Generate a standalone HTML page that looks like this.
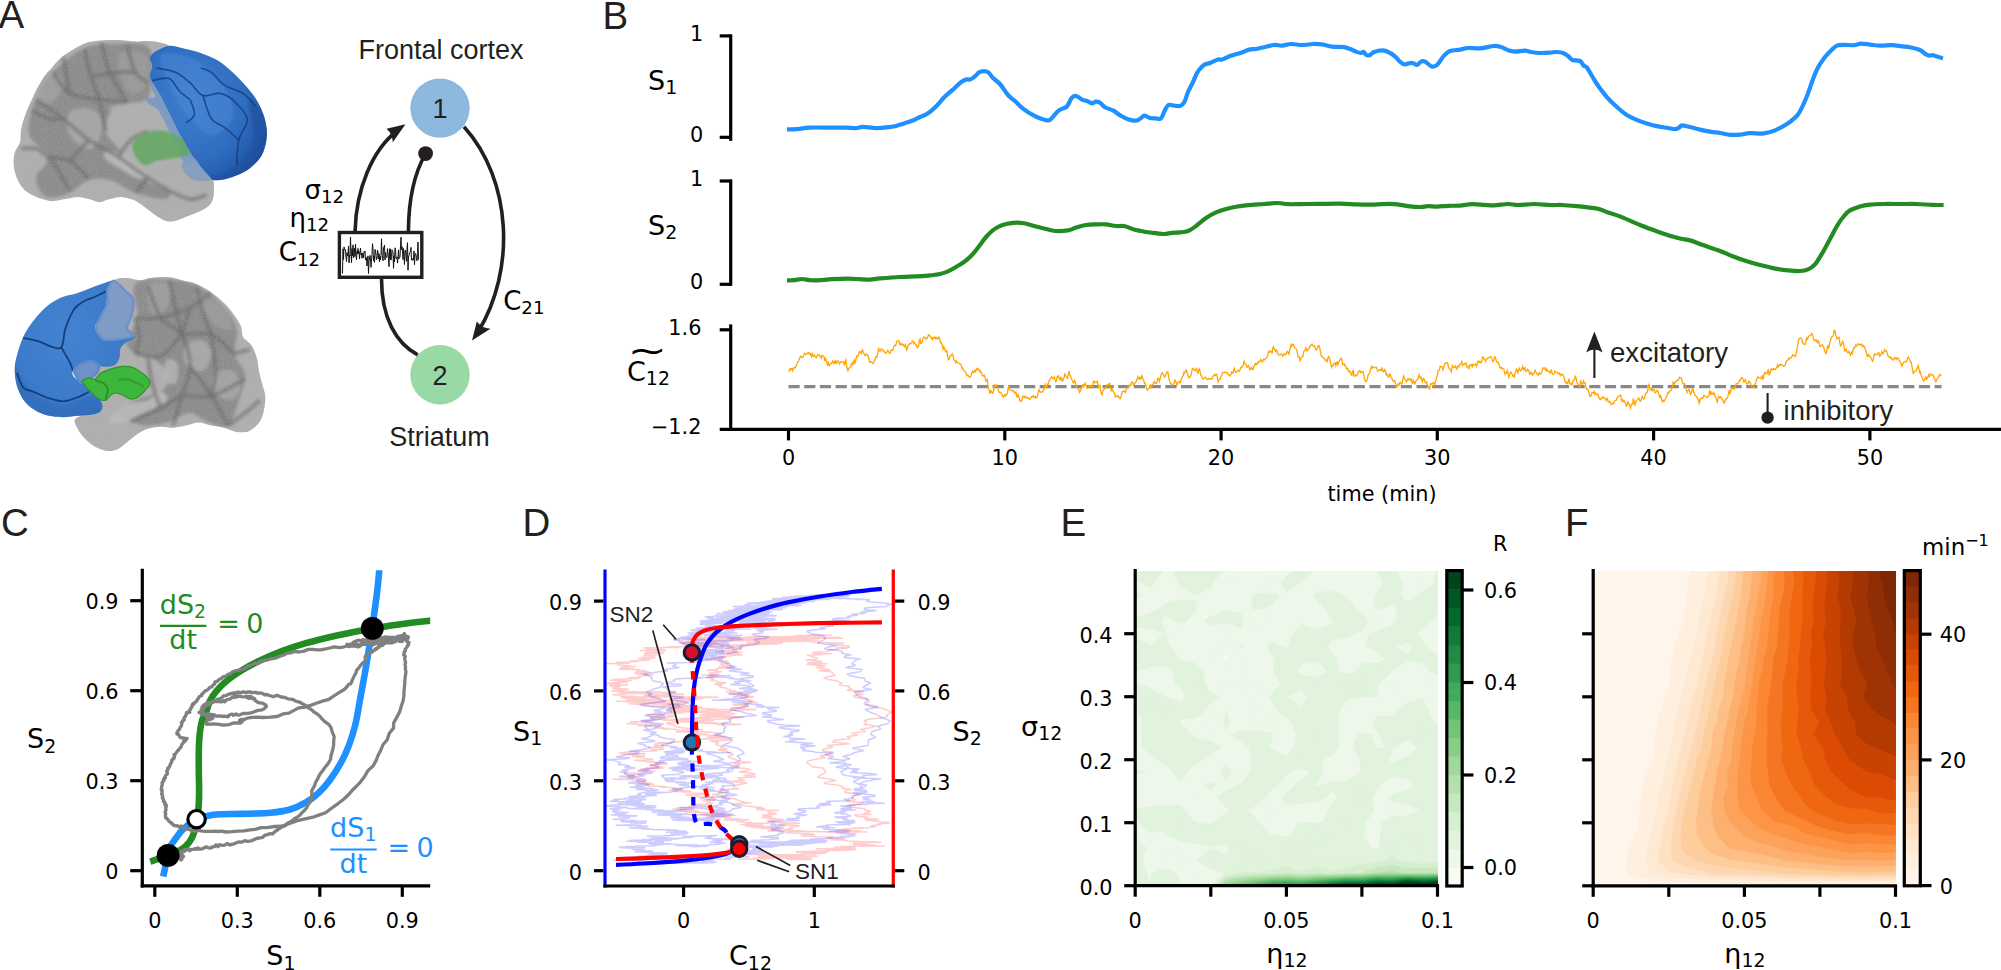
<!DOCTYPE html><html><head><meta charset="utf-8"><title>Figure</title><style>html,body{margin:0;padding:0;background:#fff}svg{display:block}</style></head><body>
<svg width="2001" height="970" viewBox="0 0 2001 970">
<rect width="2001" height="970" fill="#fff"/>
<text x="-1.5" y="28.3" font-family='"Liberation Sans", "DejaVu Sans", sans-serif' font-size="38.5" text-anchor="start" fill="#231F20" >A</text>
<text x="602.5" y="28.6" font-family='"Liberation Sans", "DejaVu Sans", sans-serif' font-size="38.5" text-anchor="start" fill="#231F20" >B</text>
<text x="1" y="536.2" font-family='"Liberation Sans", "DejaVu Sans", sans-serif' font-size="38.5" text-anchor="start" fill="#231F20" >C</text>
<text x="522.5" y="536.2" font-family='"Liberation Sans", "DejaVu Sans", sans-serif' font-size="38.5" text-anchor="start" fill="#231F20" >D</text>
<text x="1060.5" y="536.2" font-family='"Liberation Sans", "DejaVu Sans", sans-serif' font-size="38.5" text-anchor="start" fill="#231F20" >E</text>
<text x="1565" y="536.2" font-family='"Liberation Sans", "DejaVu Sans", sans-serif' font-size="38.5" text-anchor="start" fill="#231F20" >F</text>
<line x1="730.7" y1="34.3" x2="730.7" y2="140.8" stroke="#000" stroke-width="3.2" stroke-linecap="butt" />
<line x1="719.7" y1="35.9" x2="730.7" y2="35.9" stroke="#000" stroke-width="3.2" stroke-linecap="butt" />
<line x1="719.7" y1="137.3" x2="730.7" y2="137.3" stroke="#000" stroke-width="3.2" stroke-linecap="butt" />
<line x1="730.7" y1="179.4" x2="730.7" y2="285.9" stroke="#000" stroke-width="3.2" stroke-linecap="butt" />
<line x1="719.7" y1="181" x2="730.7" y2="181" stroke="#000" stroke-width="3.2" stroke-linecap="butt" />
<line x1="719.7" y1="284.3" x2="730.7" y2="284.3" stroke="#000" stroke-width="3.2" stroke-linecap="butt" />
<line x1="730.7" y1="324.4" x2="730.7" y2="431" stroke="#000" stroke-width="3.2" stroke-linecap="butt" />
<line x1="719.7" y1="329.8" x2="730.7" y2="329.8" stroke="#000" stroke-width="3.2" stroke-linecap="butt" />
<line x1="719.7" y1="429.4" x2="2001" y2="429.4" stroke="#000" stroke-width="3.2" stroke-linecap="butt" />
<line x1="788.5" y1="429.4" x2="788.5" y2="440.4" stroke="#000" stroke-width="3.2" stroke-linecap="butt" />
<text x="788.5" y="464.6" font-family='"DejaVu Sans", "Liberation Sans", sans-serif' font-size="20.8" text-anchor="middle" fill="#000" >0</text>
<line x1="1004.8" y1="429.4" x2="1004.8" y2="440.4" stroke="#000" stroke-width="3.2" stroke-linecap="butt" />
<text x="1004.8" y="464.6" font-family='"DejaVu Sans", "Liberation Sans", sans-serif' font-size="20.8" text-anchor="middle" fill="#000" >10</text>
<line x1="1221.1" y1="429.4" x2="1221.1" y2="440.4" stroke="#000" stroke-width="3.2" stroke-linecap="butt" />
<text x="1221.1" y="464.6" font-family='"DejaVu Sans", "Liberation Sans", sans-serif' font-size="20.8" text-anchor="middle" fill="#000" >20</text>
<line x1="1437.3" y1="429.4" x2="1437.3" y2="440.4" stroke="#000" stroke-width="3.2" stroke-linecap="butt" />
<text x="1437.3" y="464.6" font-family='"DejaVu Sans", "Liberation Sans", sans-serif' font-size="20.8" text-anchor="middle" fill="#000" >30</text>
<line x1="1653.6" y1="429.4" x2="1653.6" y2="440.4" stroke="#000" stroke-width="3.2" stroke-linecap="butt" />
<text x="1653.6" y="464.6" font-family='"DejaVu Sans", "Liberation Sans", sans-serif' font-size="20.8" text-anchor="middle" fill="#000" >40</text>
<line x1="1869.9" y1="429.4" x2="1869.9" y2="440.4" stroke="#000" stroke-width="3.2" stroke-linecap="butt" />
<text x="1869.9" y="464.6" font-family='"DejaVu Sans", "Liberation Sans", sans-serif' font-size="20.8" text-anchor="middle" fill="#000" >50</text>
<text x="1382" y="501" font-family='"DejaVu Sans", "Liberation Sans", sans-serif' font-size="20.8" text-anchor="middle" fill="#000" >time (min)</text>
<text x="703.3" y="40.7" font-family='"DejaVu Sans", "Liberation Sans", sans-serif' font-size="20.8" text-anchor="end" fill="#000" >1</text>
<text x="703.3" y="141.5" font-family='"DejaVu Sans", "Liberation Sans", sans-serif' font-size="20.8" text-anchor="end" fill="#000" >0</text>
<text x="703.3" y="185.8" font-family='"DejaVu Sans", "Liberation Sans", sans-serif' font-size="20.8" text-anchor="end" fill="#000" >1</text>
<text x="703.3" y="288.5" font-family='"DejaVu Sans", "Liberation Sans", sans-serif' font-size="20.8" text-anchor="end" fill="#000" >0</text>
<text x="701.4" y="335" font-family='"DejaVu Sans", "Liberation Sans", sans-serif' font-size="20.8" text-anchor="end" fill="#000" >1.6</text>
<text x="701.4" y="433.8" font-family='"DejaVu Sans", "Liberation Sans", sans-serif' font-size="20.8" text-anchor="end" fill="#000" >−1.2</text>
<text x="648" y="89.9" font-family='"DejaVu Sans", "Liberation Sans", sans-serif' font-size="27" text-anchor="start" fill="#000" >S<tspan font-size="18.9" dy="4.4">1</tspan></text>
<text x="648" y="234.5" font-family='"DejaVu Sans", "Liberation Sans", sans-serif' font-size="27" text-anchor="start" fill="#000" >S<tspan font-size="18.9" dy="4.4">2</tspan></text>
<text x="627" y="380.5" font-family='"DejaVu Sans", "Liberation Sans", sans-serif' font-size="27" text-anchor="start" fill="#000" >C<tspan font-size="18.9" dy="4.4">12</tspan></text>
<text transform="translate(627.5 362.4) scale(1.75 1.25)" font-family='"DejaVu Sans", "Liberation Sans", sans-serif' font-size="27" fill="#000">~</text>
<line x1="788.5" y1="386.7" x2="1941.6" y2="386.7" stroke="#888888" stroke-width="3.3" stroke-linecap="butt" stroke-dasharray="11.2 4.5"/>
<path d="M787 129.4 C788.5 129.4 792.2 129.5 796 129.2 C799.8 128.9 804.3 127.9 810 127.6 C815.7 127.3 824 127.6 830 127.6 C836 127.6 841.7 127.5 846 127.6 C850.3 127.7 853.2 128.3 856 128.2 C858.8 128.1 859.7 126.8 863 126.8 C866.3 126.8 871.8 128.1 876 128.2 C880.2 128.3 884.7 127.6 888 127.2 C891.3 126.8 893.3 126.6 896 126 C898.7 125.4 901 124.4 904 123.4 C907 122.4 911.3 121.1 914 120 C916.7 118.9 917.7 118.1 920 117 C922.3 115.9 925.3 115 928 113.2 C930.7 111.4 933.3 109 936 106.4 C938.7 103.8 941.3 100.3 944 97.6 C946.7 94.9 949.3 92.8 952 90.4 C954.7 88 957.7 84.8 960 83 C962.3 81.2 964.3 80.2 966 79.6 C967.7 79 968.5 80.1 970 79.6 C971.5 79.1 973.5 77.6 975 76.4 C976.5 75.2 977.5 73.3 979 72.4 C980.5 71.5 982.4 71.2 984 71.2 C985.6 71.2 986.9 71.3 988.4 72.4 C989.9 73.5 991.1 76.1 993 78 C994.9 79.9 997.5 81.2 1000 84 C1002.5 86.8 1005.3 92 1008 95 C1010.7 98 1013.3 99.6 1016 102 C1018.7 104.4 1021 107.1 1024 109.4 C1027 111.7 1031 114 1034 115.6 C1037 117.2 1039.8 118.2 1042 119 C1044.2 119.8 1045.6 120.3 1047 120.4 C1048.4 120.5 1049.1 120.6 1050.4 119.6 C1051.7 118.6 1053.6 115.9 1055 114.4 C1056.4 112.9 1057.7 111.4 1059 110.4 C1060.3 109.4 1061.7 109.1 1063 108.4 C1064.3 107.7 1065.5 108.2 1067 106.4 C1068.5 104.6 1070.4 99.3 1072 97.6 C1073.6 95.9 1074.7 95.7 1076.4 96 C1078.1 96.3 1080.2 98.8 1082 99.6 C1083.8 100.4 1085.3 100.4 1087 101 C1088.7 101.6 1090.6 103.3 1092 103.4 C1093.4 103.5 1094.3 101.8 1095.6 101.6 C1096.9 101.4 1098 101.5 1099.6 102.4 C1101.2 103.3 1102.8 105.9 1105 107.2 C1107.2 108.5 1110.5 109.1 1113 110.4 C1115.5 111.7 1117.5 113.7 1120 115.2 C1122.5 116.7 1125.3 118.3 1128 119.2 C1130.7 120.1 1134.2 120.8 1136.4 120.6 C1138.6 120.4 1139.7 118.8 1141 118 C1142.3 117.2 1142.9 115.6 1144.4 115.6 C1145.9 115.6 1148.1 117.5 1150 118 C1151.9 118.5 1154.2 118.3 1156 118.4 C1157.8 118.5 1159.5 119.8 1161 118.4 C1162.5 117 1163.8 112.2 1165 110 C1166.2 107.8 1167.1 105.8 1168.4 105 C1169.7 104.2 1171.1 105.2 1173 105.4 C1174.9 105.6 1178.1 106.6 1180 106 C1181.9 105.4 1183.1 104.3 1184.4 102 C1185.7 99.7 1186.6 95.3 1188 92 C1189.4 88.7 1191.5 85.2 1193 82 C1194.5 78.8 1195.7 75.4 1197 73 C1198.3 70.6 1199.7 69 1201 67.6 C1202.3 66.2 1203.5 65.2 1205 64.4 C1206.5 63.6 1207.8 63.8 1210 63 C1212.2 62.2 1216 60.2 1218 59.6 C1220 59 1220 60.2 1222 59.6 C1224 59 1226.7 57.2 1230 56 C1233.3 54.8 1238.8 53.5 1242 52.4 C1245.2 51.3 1246.7 50.2 1249 49.6 C1251.3 49 1253.5 49.4 1256 49 C1258.5 48.6 1261 47.9 1264 47.2 C1267 46.5 1271 45.3 1274 45 C1277 44.7 1279.2 45.8 1282 45.6 C1284.8 45.4 1287.7 44.1 1291 44 C1294.3 43.9 1298.3 45 1302 45 C1305.7 45 1309.7 44.1 1313 44 C1316.3 43.9 1318.8 44 1322 44.4 C1325.2 44.8 1328.3 46.1 1332 46.6 C1335.7 47.1 1341 46.8 1344 47.2 C1347 47.6 1348 48.3 1350 49 C1352 49.7 1354.2 50.9 1356 51.6 C1357.8 52.3 1359.7 52.9 1361 53 C1362.3 53.1 1362.7 51.6 1363.6 52 C1364.5 52.4 1365.3 54.7 1366.4 55.2 C1367.5 55.7 1368.7 55.5 1370 55 C1371.3 54.5 1371.8 52.8 1374 52 C1376.2 51.2 1380.5 50.3 1383 50.4 C1385.5 50.5 1387 51.4 1389 52.4 C1391 53.4 1393.2 54.9 1395 56.4 C1396.8 57.9 1398.4 60.3 1400 61.6 C1401.6 62.9 1402.4 64.2 1404.4 64.4 C1406.4 64.6 1409.9 62.7 1412 62.8 C1414.1 62.9 1415.5 65 1417 64.8 C1418.5 64.6 1419.7 62.1 1421 61.6 C1422.3 61.1 1423.2 60.8 1425 61.6 C1426.8 62.4 1429.6 65.8 1431.6 66.4 C1433.6 67 1434.9 66.8 1437 65 C1439.1 63.2 1441.8 57.9 1444 55.6 C1446.2 53.3 1447.3 52 1450 51 C1452.7 50 1457 50.1 1460 49.6 C1463 49.1 1464.7 48.2 1468 48 C1471.3 47.8 1475.7 48.7 1480 48.4 C1484.3 48.1 1490.5 46.2 1494 46 C1497.5 45.8 1498.5 46.3 1501 47 C1503.5 47.7 1506.5 49.6 1509 50.4 C1511.5 51.2 1513.3 51.6 1516 51.6 C1518.7 51.6 1522.5 50.5 1525 50.6 C1527.5 50.7 1528.5 51.6 1531 52 C1533.5 52.4 1536.8 52.9 1540 53 C1543.2 53.1 1547.2 52.8 1550 52.6 C1552.8 52.4 1554.8 51.9 1557 52 C1559.2 52.1 1561.2 52.3 1563 53 C1564.8 53.7 1566.4 54.8 1568 56 C1569.6 57.2 1570.4 59.2 1572.4 60 C1574.4 60.8 1578.1 60.1 1580 61 C1581.9 61.9 1582.4 64.5 1583.6 65.6 C1584.8 66.7 1585.6 65.9 1587 67.6 C1588.4 69.3 1590 72.8 1592 76 C1594 79.2 1596.3 83.3 1599 87 C1601.7 90.7 1604.8 94.9 1608 98.4 C1611.2 101.9 1615 105.3 1618 108 C1621 110.7 1623 112.5 1626 114.4 C1629 116.3 1632.7 118.1 1636 119.6 C1639.3 121.1 1642.3 122.1 1646 123.2 C1649.7 124.3 1654.3 125.6 1658 126.4 C1661.7 127.2 1665.2 127.5 1668 128 C1670.8 128.5 1673.2 129.3 1675 129.2 C1676.8 129.1 1677.8 128.2 1679 127.6 C1680.2 127 1680.3 125.5 1682 125.4 C1683.7 125.3 1686 126.1 1689 126.8 C1692 127.5 1696.5 128.8 1700 129.6 C1703.5 130.4 1706.7 131 1710 131.6 C1713.3 132.2 1716.7 132.5 1720 133 C1723.3 133.5 1726.7 134.5 1730 134.8 C1733.3 135.1 1736.7 134.9 1740 134.6 C1743.3 134.3 1746 133.4 1750 133.2 C1754 133 1759.8 133.9 1764 133.4 C1768.2 132.9 1771.2 132 1775 130.4 C1778.8 128.8 1784 125.8 1787 124 C1790 122.2 1791 121.2 1793 119.4 C1795 117.6 1796.7 116.9 1799 113 C1801.3 109.1 1804.7 101.7 1807 96 C1809.3 90.3 1811.2 83.7 1813 79 C1814.8 74.3 1816 71.3 1818 67.6 C1820 63.9 1822.7 60 1825 57 C1827.3 54 1830 51.5 1832 49.6 C1834 47.7 1835 46.4 1837 45.6 C1839 44.8 1841.2 44.9 1844 44.8 C1846.8 44.7 1851.2 45.4 1854 45.2 C1856.8 45 1858.3 43.7 1861 43.6 C1863.7 43.5 1866.8 44.3 1870 44.6 C1873.2 44.9 1876.3 45.5 1880 45.6 C1883.7 45.7 1888.3 45.1 1892 45.2 C1895.7 45.3 1899 46.1 1902 46.4 C1905 46.7 1907 46.6 1910 47.2 C1913 47.8 1917.3 48.8 1920 50 C1922.7 51.2 1924.4 53.5 1926 54.4 C1927.6 55.3 1928.4 55.5 1929.6 55.6 C1930.8 55.7 1930.8 54.7 1933 55.2 C1935.2 55.7 1941.3 57.9 1943 58.4" fill="none" stroke="#1E90FF" stroke-width="4.2" stroke-linejoin="round" stroke-linecap="butt" />
<path d="M787 280.4 C788.2 280.4 791.5 280.4 794 280.2 C796.5 280 799.3 279 802 279 C804.7 279 807.3 280 810 280.2 C812.7 280.4 814.3 280.6 818 280.4 C821.7 280.2 827 279.5 832 279.2 C837 278.9 843.3 278.6 848 278.6 C852.7 278.6 856.3 279 860 279.2 C863.7 279.4 866.7 279.7 870 279.6 C873.3 279.5 875 278.8 880 278.4 C885 278 894 277.3 900 277 C906 276.7 911.3 276.6 916 276.4 C920.7 276.2 924 276 928 275.6 C932 275.2 936.7 274.7 940 274 C943.3 273.3 945.3 272.6 948 271.4 C950.7 270.2 953.3 268.6 956 267 C958.7 265.4 961.3 264 964 262 C966.7 260 969.3 257.8 972 255 C974.7 252.2 977.7 248 980 245 C982.3 242 984 239.3 986 237 C988 234.7 990 232.7 992 231 C994 229.3 995.7 228.2 998 227 C1000.3 225.8 1003 224.7 1006 224 C1009 223.3 1013 222.7 1016 222.6 C1019 222.5 1021 222.6 1024 223.2 C1027 223.8 1030.3 225 1034 226 C1037.7 227 1042.5 228.2 1046 229 C1049.5 229.8 1051.3 230.8 1055 231 C1058.7 231.2 1064.5 231 1068 230.4 C1071.5 229.8 1073 228.5 1076 227.6 C1079 226.7 1082.7 225.5 1086 225 C1089.3 224.5 1092.7 224.5 1096 224.4 C1099.3 224.3 1102.7 224.1 1106 224.4 C1109.3 224.7 1112.8 225.7 1116 226 C1119.2 226.3 1122 225.6 1125 226.2 C1128 226.8 1130.5 228.6 1134 229.6 C1137.5 230.6 1142.3 231.4 1146 232 C1149.7 232.6 1153 232.9 1156 233.2 C1159 233.5 1161.3 234.1 1164 234 C1166.7 233.9 1169.3 233.1 1172 232.8 C1174.7 232.5 1177.3 232.7 1180 232.4 C1182.7 232.1 1185.3 232.1 1188 231 C1190.7 229.9 1193 228.2 1196 226 C1199 223.8 1202.7 220.3 1206 218 C1209.3 215.7 1212.7 213.9 1216 212.4 C1219.3 210.9 1222.7 209.9 1226 209 C1229.3 208.1 1232.3 207.4 1236 206.8 C1239.7 206.2 1243.3 205.7 1248 205.2 C1252.7 204.7 1259 204.4 1264 204 C1269 203.6 1274 203 1278 203 C1282 203 1283 204 1288 204.2 C1293 204.4 1299.3 204.1 1308 204 C1316.7 203.9 1332 203.5 1340 203.6 C1348 203.7 1350.3 204.2 1356 204.4 C1361.7 204.6 1368.3 204.7 1374 204.6 C1379.7 204.5 1385.7 203.8 1390 203.8 C1394.3 203.8 1396.7 204.4 1400 204.8 C1403.3 205.2 1406.7 206 1410 206.4 C1413.3 206.8 1417 207 1420 207 C1423 207 1425.2 206.3 1428 206.2 C1430.8 206.1 1433.7 206.7 1437 206.6 C1440.3 206.5 1444.2 206 1448 205.8 C1451.8 205.6 1456 205.9 1460 205.6 C1464 205.3 1468 204.3 1472 204.2 C1476 204.1 1480.3 204.6 1484 204.8 C1487.7 205 1490 205.5 1494 205.4 C1498 205.3 1504 204.1 1508 204 C1512 203.9 1513.7 205 1518 205 C1522.3 205 1528.7 204 1534 204 C1539.3 204 1545.3 204.8 1550 205 C1554.7 205.2 1557 204.8 1562 205 C1567 205.2 1575.3 206 1580 206.4 C1584.7 206.8 1587 207.2 1590 207.6 C1593 208 1595 208 1598 208.8 C1601 209.6 1604.3 211.1 1608 212.4 C1611.7 213.7 1614.7 214.3 1620 216.4 C1625.3 218.5 1633.3 222.3 1640 225 C1646.7 227.7 1653.7 230.2 1660 232.4 C1666.3 234.6 1673 236.7 1678 238 C1683 239.3 1686.3 239.4 1690 240.4 C1693.7 241.4 1695 242.2 1700 244 C1705 245.8 1714.7 249 1720 251 C1725.3 253 1727.7 254.3 1732 256 C1736.3 257.7 1741.3 259.5 1746 261 C1750.7 262.5 1755.3 263.8 1760 265 C1764.7 266.2 1769.3 267.5 1774 268.4 C1778.7 269.3 1783.7 270 1788 270.4 C1792.3 270.8 1796.7 271.2 1800 271 C1803.3 270.8 1805.5 270.5 1808 269.4 C1810.5 268.3 1812.7 267 1815 264.4 C1817.3 261.8 1819.5 257.8 1822 253.6 C1824.5 249.4 1827.5 243.6 1830 239 C1832.5 234.4 1834.7 229.8 1837 226 C1839.3 222.2 1841.8 218.6 1844 216 C1846.2 213.4 1847.3 212 1850 210.4 C1852.7 208.8 1856.7 207.4 1860 206.4 C1863.3 205.4 1866 205 1870 204.6 C1874 204.2 1879 204.1 1884 204 C1889 203.9 1894.7 204 1900 204 C1905.3 204 1910.7 203.9 1916 204 C1921.3 204.1 1927.4 204.6 1932 204.8 C1936.6 205 1941.7 205 1943.6 205" fill="none" stroke="#228B22" stroke-width="4.2" stroke-linejoin="round" stroke-linecap="butt" />
<path d="M788.4 370.8 L789.1 371.1 L789.8 369 L790.5 369.8 L791.2 368.5 L791.9 368.6 L792.6 370.7 L793.3 368.6 L794 367.4 L794.7 368 L795.4 367.7 L796.1 365.8 L796.8 364.6 L797.5 362.1 L798.2 361.5 L798.9 360.5 L799.6 358.2 L800.3 356.6 L801 356.2 L801.7 357.5 L802.4 357.4 L803.1 356.6 L803.8 355.5 L804.5 353.3 L805.2 353.8 L805.9 354.4 L806.6 354.1 L807.3 353.1 L808 353 L808.7 352.5 L809.4 354.1 L810.1 353.4 L810.8 354.6 L811.5 356.6 L812.2 353.9 L812.9 356 L813.6 356.1 L814.3 355 L815 356.2 L815.7 357.2 L816.4 357.6 L817.1 355.9 L817.8 354.9 L818.5 354.7 L819.2 354.8 L819.9 355.9 L820.6 356.7 L821.3 358.1 L822 355.4 L822.7 355.6 L823.4 356.1 L824.1 357 L824.8 361 L825.5 358.4 L826.2 360 L826.9 362.8 L827.6 364.9 L828.3 362.9 L829 365.5 L829.7 365.2 L830.4 364 L831.1 363.3 L831.8 363.2 L832.5 360.9 L833.2 361.6 L833.9 363.5 L834.6 363.6 L835.3 359.8 L836 363.1 L836.7 363.4 L837.4 361.1 L838.1 361 L838.8 361.6 L839.5 363.9 L840.2 362.8 L840.9 361.6 L841.6 361.6 L842.3 361.9 L843 361.8 L843.7 362.6 L844.4 365.4 L845.1 361.2 L845.8 359.6 L846.5 365.4 L847.2 368.8 L847.9 370.6 L848.6 369.1 L849.3 367.8 L850 367.6 L850.7 366.8 L851.4 363.6 L852.1 362.9 L852.8 364.5 L853.5 362 L854.2 360.1 L854.9 363 L855.6 361.1 L856.3 357.2 L857 355.8 L857.7 356.6 L858.4 354.7 L859.1 352.5 L859.8 351.4 L860.5 352.4 L861.2 353.4 L861.9 350.9 L862.6 350 L863.3 352.7 L864 353.7 L864.7 355.2 L865.4 355.8 L866.1 354.2 L866.8 354.4 L867.5 355.2 L868.2 355.7 L868.9 359.6 L869.6 362.2 L870.3 361.7 L871 361.7 L871.7 362.4 L872.4 362.7 L873.1 363.5 L873.8 362.3 L874.5 360.5 L875.2 358.7 L875.9 356.6 L876.6 357.3 L877.3 355.7 L878 351.4 L878.7 348.7 L879.4 350.7 L880.1 351.3 L880.8 349.4 L881.5 348.9 L882.2 349.8 L882.9 350.9 L883.6 350.4 L884.3 352 L885 352.1 L885.7 353.2 L886.4 352.7 L887.1 351.5 L887.8 350.2 L888.5 351.3 L889.2 352.9 L889.9 353.4 L890.6 351.9 L891.3 349.8 L892 350.4 L892.7 350.4 L893.4 347.9 L894.1 345.8 L894.8 345.3 L895.5 345.8 L896.2 344.1 L896.9 341.2 L897.6 340.8 L898.3 340.6 L899 341.3 L899.7 344.6 L900.4 344.7 L901.1 343.1 L901.8 344.2 L902.5 345.3 L903.2 344.6 L903.9 345.7 L904.6 346.5 L905.3 344.8 L906 347.5 L906.7 349.8 L907.4 348.2 L908.1 345 L908.8 344.8 L909.5 343.5 L910.2 344 L910.9 343.5 L911.6 342.5 L912.3 341 L913 341.8 L913.7 343.4 L914.4 342.5 L915.1 344 L915.8 344.6 L916.5 345 L917.2 347.8 L917.9 347 L918.6 346.3 L919.3 340.3 L920 339 L920.7 343.2 L921.4 343.5 L922.1 341.4 L922.8 339.8 L923.5 337.2 L924.2 337.3 L924.9 337.2 L925.6 338.2 L926.3 339.3 L927 338.2 L927.7 337 L928.4 335 L929.1 334.7 L929.8 335.9 L930.5 336.8 L931.2 338.3 L931.9 337.7 L932.6 339.7 L933.3 337.9 L934 338 L934.7 337.1 L935.4 338.6 L936.1 337.5 L936.8 338.2 L937.5 339.1 L938.2 337.9 L938.9 337 L939.6 338 L940.3 342.4 L941 342.3 L941.7 343 L942.4 346.3 L943.1 349 L943.8 346.7 L944.5 348.7 L945.2 350.6 L945.9 351.7 L946.6 350.7 L947.3 353.6 L948 358 L948.7 359.8 L949.4 359 L950.1 355.8 L950.8 355.8 L951.5 355.5 L952.2 353.7 L952.9 355 L953.6 359 L954.3 360.1 L955 360.9 L955.7 362.5 L956.4 361.1 L957.1 362.3 L957.8 362.6 L958.5 362.8 L959.2 363.7 L959.9 363.9 L960.6 364.1 L961.3 365.8 L962 368.5 L962.7 368 L963.4 369.9 L964.1 370.8 L964.8 371.1 L965.5 372.8 L966.2 373.3 L966.9 375.8 L967.6 375.3 L968.3 375.7 L969 376.7 L969.7 377.3 L970.4 377 L971.1 375.7 L971.8 372.8 L972.5 371.4 L973.2 372.7 L973.9 372 L974.6 370.4 L975.3 371.9 L976 370.6 L976.7 368.7 L977.4 369.5 L978.1 368.5 L978.8 369.7 L979.5 371.6 L980.2 370.9 L980.9 372.3 L981.6 372.9 L982.3 375.4 L983 375.6 L983.7 376.1 L984.4 375.4 L985.1 377.9 L985.8 381.1 L986.5 380.6 L987.2 379.6 L987.9 385.3 L988.6 388.8 L989.3 390.4 L990 393.8 L990.7 390.8 L991.4 391 L992.1 392.9 L992.8 393.2 L993.5 391.4 L994.2 386.6 L994.9 384.8 L995.6 386.2 L996.3 385.2 L997 386.3 L997.7 387.2 L998.4 390.8 L999.1 392.2 L999.8 392.1 L1000.5 392.3 L1001.2 393.1 L1001.9 394.2 L1002.6 396.3 L1003.3 396.9 L1004 395.7 L1004.7 394.8 L1005.4 396.1 L1006.1 394.5 L1006.8 394.4 L1007.5 392.8 L1008.2 387.9 L1008.9 386.1 L1009.6 389.8 L1010.3 389.7 L1011 390 L1011.7 390.6 L1012.4 390.9 L1013.1 390.3 L1013.8 391.7 L1014.5 392.8 L1015.2 392.8 L1015.9 392 L1016.6 396.2 L1017.3 396.9 L1018 394.7 L1018.7 396.4 L1019.4 399.3 L1020.1 400.9 L1020.8 400.5 L1021.5 401.1 L1022.2 398.7 L1022.9 396 L1023.6 396.2 L1024.3 397.4 L1025 396.3 L1025.7 397.5 L1026.4 397.8 L1027.1 397.2 L1027.8 398.4 L1028.5 398.3 L1029.2 399 L1029.9 399.5 L1030.6 398.4 L1031.3 396.9 L1032 397.2 L1032.7 396.2 L1033.4 395.7 L1034.1 397.6 L1034.8 397.7 L1035.5 396.7 L1036.2 397.9 L1036.9 397.4 L1037.6 395.6 L1038.3 391.8 L1039 389.8 L1039.7 391.6 L1040.4 392 L1041.1 392.1 L1041.8 392 L1042.5 392 L1043.2 390.2 L1043.9 389.7 L1044.6 386.7 L1045.3 384.4 L1046 387.3 L1046.7 388.1 L1047.4 384.2 L1048.1 384.3 L1048.8 381.9 L1049.5 380.1 L1050.2 379.6 L1050.9 378 L1051.6 376.5 L1052.3 377.5 L1053 378.6 L1053.7 378.3 L1054.4 377 L1055.1 379.7 L1055.8 381.6 L1056.5 380.9 L1057.2 376.6 L1057.9 376.4 L1058.6 375.8 L1059.3 378.8 L1060 379.9 L1060.7 377.6 L1061.4 377.5 L1062.1 380.7 L1062.8 381 L1063.5 378.7 L1064.2 376.9 L1064.9 374 L1065.6 375.5 L1066.3 377.2 L1067 377.9 L1067.7 378.1 L1068.4 373.4 L1069.1 371.2 L1069.8 375 L1070.5 376.1 L1071.2 377.9 L1071.9 379.7 L1072.6 381 L1073.3 383 L1074 382.4 L1074.7 379.8 L1075.4 383.2 L1076.1 387.3 L1076.8 386.8 L1077.5 388.4 L1078.2 388.7 L1078.9 390 L1079.6 392.3 L1080.3 391.2 L1081 388.8 L1081.7 388 L1082.4 384.9 L1083.1 384.8 L1083.8 386.6 L1084.5 384.8 L1085.2 383.1 L1085.9 385.2 L1086.6 386.7 L1087.3 388.3 L1088 388 L1088.7 386.2 L1089.4 385.7 L1090.1 386.2 L1090.8 385.8 L1091.5 387.1 L1092.2 386.8 L1092.9 384.6 L1093.6 381.2 L1094.3 381.1 L1095 382.7 L1095.7 382.5 L1096.4 382.4 L1097.1 381.3 L1097.8 384 L1098.5 387.3 L1099.2 385.5 L1099.9 385.3 L1100.6 389.4 L1101.3 394.1 L1102 395 L1102.7 391.4 L1103.4 389.8 L1104.1 389.2 L1104.8 388.1 L1105.5 388.3 L1106.2 387.1 L1106.9 384.9 L1107.6 385.2 L1108.3 385.3 L1109 383.8 L1109.7 383.5 L1110.4 387.6 L1111.1 390.5 L1111.8 389 L1112.5 389.5 L1113.2 391.8 L1113.9 392.3 L1114.6 393.6 L1115.3 396.8 L1116 395.7 L1116.7 396.3 L1117.4 396.7 L1118.1 396 L1118.8 396.7 L1119.5 398.1 L1120.2 398.7 L1120.9 396.9 L1121.6 394.1 L1122.3 391.7 L1123 391.7 L1123.7 390.7 L1124.4 391.5 L1125.1 392.5 L1125.8 390.9 L1126.5 388.9 L1127.2 387.5 L1127.9 387.7 L1128.6 387.1 L1129.3 385.1 L1130 385.3 L1130.7 385.7 L1131.4 382.5 L1132.1 382 L1132.8 382.4 L1133.5 385.1 L1134.2 384.5 L1134.9 383.1 L1135.6 382.2 L1136.3 381.3 L1137 379.6 L1137.7 377.1 L1138.4 378.8 L1139.1 379 L1139.8 377.1 L1140.5 379.2 L1141.2 378.9 L1141.9 375.7 L1142.6 377.6 L1143.3 379.8 L1144 381.6 L1144.7 383.6 L1145.4 383.6 L1146.1 386.1 L1146.8 389.2 L1147.5 390.1 L1148.2 388.8 L1148.9 388.2 L1149.6 387.8 L1150.3 385.4 L1151 387.5 L1151.7 386.3 L1152.4 384.3 L1153.1 384 L1153.8 381.9 L1154.5 381.4 L1155.2 383.3 L1155.9 383.3 L1156.6 383.5 L1157.3 380.6 L1158 378.2 L1158.7 379 L1159.4 381.4 L1160.1 378.8 L1160.8 375.7 L1161.5 373.7 L1162.2 372.8 L1162.9 373.5 L1163.6 375.3 L1164.3 376.8 L1165 376.8 L1165.7 375 L1166.4 373 L1167.1 371.7 L1167.8 371.9 L1168.5 375.7 L1169.2 380.1 L1169.9 382 L1170.6 383.6 L1171.3 383.5 L1172 385.5 L1172.7 385.4 L1173.4 384.6 L1174.1 383.4 L1174.8 380.1 L1175.5 380.9 L1176.2 382.6 L1176.9 385.3 L1177.6 383.2 L1178.3 382.1 L1179 382.8 L1179.7 381.7 L1180.4 382.5 L1181.1 379.6 L1181.8 377.7 L1182.5 376.4 L1183.2 375.7 L1183.9 372.3 L1184.6 373 L1185.3 371.4 L1186 370 L1186.7 370.8 L1187.4 373.6 L1188.1 375.9 L1188.8 377.8 L1189.5 377.4 L1190.2 376.8 L1190.9 375.6 L1191.6 372.1 L1192.3 369 L1193 368.3 L1193.7 369.6 L1194.4 369.4 L1195.1 370.7 L1195.8 369.5 L1196.5 368.4 L1197.2 371.6 L1197.9 373.2 L1198.6 370.2 L1199.3 368.8 L1200 371.3 L1200.7 375.1 L1201.4 375.7 L1202.1 377.4 L1202.8 379 L1203.5 378.7 L1204.2 378.3 L1204.9 377.3 L1205.6 377.4 L1206.3 378.7 L1207 379.5 L1207.7 379.7 L1208.4 378.5 L1209.1 379 L1209.8 379.1 L1210.5 378.5 L1211.2 378.9 L1211.9 379.1 L1212.6 377.6 L1213.3 376 L1214 374.7 L1214.7 375.6 L1215.4 375.2 L1216.1 374.1 L1216.8 374.7 L1217.5 378.3 L1218.2 381.8 L1218.9 380 L1219.6 379.2 L1220.3 378.9 L1221 376.6 L1221.7 375.5 L1222.4 373.5 L1223.1 372.3 L1223.8 372.5 L1224.5 372.7 L1225.2 372.2 L1225.9 372 L1226.6 372.9 L1227.3 372.8 L1228 374.8 L1228.7 374.7 L1229.4 375.1 L1230.1 376.1 L1230.8 374.8 L1231.5 372.1 L1232.2 372.7 L1232.9 373.2 L1233.6 370.2 L1234.3 368.3 L1235 371 L1235.7 372.3 L1236.4 372.3 L1237.1 371.3 L1237.8 370.6 L1238.5 370.7 L1239.2 371.3 L1239.9 369.9 L1240.6 368.3 L1241.3 367 L1242 367.4 L1242.7 366 L1243.4 364.5 L1244.1 361.3 L1244.8 363.5 L1245.5 364.4 L1246.2 364.9 L1246.9 367.3 L1247.6 366.9 L1248.3 365.6 L1249 366.4 L1249.7 369.6 L1250.4 369.4 L1251.1 368.2 L1251.8 367.3 L1252.5 369.7 L1253.2 369.2 L1253.9 366.9 L1254.6 365.2 L1255.3 363.5 L1256 364.5 L1256.7 363.4 L1257.4 364.1 L1258.1 362.3 L1258.8 361.2 L1259.5 361.9 L1260.2 360.9 L1260.9 359.4 L1261.6 360.8 L1262.3 362 L1263 360.6 L1263.7 359.1 L1264.4 359.9 L1265.1 359.4 L1265.8 358.5 L1266.5 358.1 L1267.2 356.7 L1267.9 354.1 L1268.6 351.4 L1269.3 352.3 L1270 351.9 L1270.7 351 L1271.4 352.2 L1272.1 352.9 L1272.8 348.1 L1273.5 346.6 L1274.2 349.1 L1274.9 349.7 L1275.6 351.4 L1276.3 349.9 L1277 350.7 L1277.7 353.7 L1278.4 354.9 L1279.1 354.8 L1279.8 354.9 L1280.5 354.4 L1281.2 354 L1281.9 354.6 L1282.6 356.3 L1283.3 355.5 L1284 353.9 L1284.7 353.8 L1285.4 354.6 L1286.1 354.3 L1286.8 352.1 L1287.5 351.3 L1288.2 352.6 L1288.9 353.9 L1289.6 350.8 L1290.3 348.4 L1291 344.8 L1291.7 346 L1292.4 344.2 L1293.1 344 L1293.8 345.5 L1294.5 346.9 L1295.2 348.1 L1295.9 348.8 L1296.6 349.7 L1297.3 351.8 L1298 356.5 L1298.7 356.5 L1299.4 358 L1300.1 360.9 L1300.8 359.1 L1301.5 357.1 L1302.2 356.6 L1302.9 356.6 L1303.6 352.2 L1304.3 350.7 L1305 350.6 L1305.7 347.8 L1306.4 348.9 L1307.1 351 L1307.8 349.2 L1308.5 348.9 L1309.2 348.3 L1309.9 345.8 L1310.6 345.8 L1311.3 344.7 L1312 344.1 L1312.7 345.4 L1313.4 346.1 L1314.1 345.8 L1314.8 346.2 L1315.5 348.9 L1316.2 349.9 L1316.9 348.9 L1317.6 347.2 L1318.3 345.7 L1319 345.6 L1319.7 347.7 L1320.4 351.7 L1321.1 355.3 L1321.8 356.9 L1322.5 357 L1323.2 357.5 L1323.9 358.4 L1324.6 359 L1325.3 360.4 L1326 361 L1326.7 359.8 L1327.4 361.2 L1328.1 357.2 L1328.8 356.4 L1329.5 358.1 L1330.2 360.3 L1330.9 363.9 L1331.6 367.2 L1332.3 365.4 L1333 365.5 L1333.7 364.1 L1334.4 363 L1335.1 362.8 L1335.8 365.6 L1336.5 363 L1337.2 362 L1337.9 364.6 L1338.6 362.6 L1339.3 361.1 L1340 359.5 L1340.7 358.4 L1341.4 358.3 L1342.1 361.4 L1342.8 364.7 L1343.5 364.1 L1344.2 363.9 L1344.9 365.6 L1345.6 365.7 L1346.3 368.6 L1347 368.5 L1347.7 368.5 L1348.4 371.2 L1349.1 371.8 L1349.8 371.2 L1350.5 372.6 L1351.2 374.8 L1351.9 375.2 L1352.6 371.5 L1353.3 370.5 L1354 376.1 L1354.7 375.5 L1355.4 375 L1356.1 376.1 L1356.8 375.2 L1357.5 375 L1358.2 372 L1358.9 370.9 L1359.6 370.6 L1360.3 372.5 L1361 371.2 L1361.7 371.7 L1362.4 372.5 L1363.1 371.8 L1363.8 374.9 L1364.5 379.1 L1365.2 381 L1365.9 381.5 L1366.6 381.2 L1367.3 379.3 L1368 375.5 L1368.7 374.1 L1369.4 373.5 L1370.1 371.5 L1370.8 368.7 L1371.5 366.5 L1372.2 368.1 L1372.9 367.2 L1373.6 367.1 L1374.3 367.3 L1375 367.7 L1375.7 367.7 L1376.4 367.2 L1377.1 369.3 L1377.8 371.2 L1378.5 370.5 L1379.2 370.3 L1379.9 369.7 L1380.6 369.6 L1381.3 370.6 L1382 368.1 L1382.7 369.7 L1383.4 371.8 L1384.1 371.2 L1384.8 369.7 L1385.5 371.3 L1386.2 374.9 L1386.9 373.9 L1387.6 375.3 L1388.3 377.2 L1389 376.5 L1389.7 374 L1390.4 374.4 L1391.1 377.5 L1391.8 378.4 L1392.5 379.7 L1393.2 381.3 L1393.9 381.5 L1394.6 380.5 L1395.3 382.2 L1396 386.9 L1396.7 387.2 L1397.4 385.2 L1398.1 383.9 L1398.8 385.4 L1399.5 383 L1400.2 382.2 L1400.9 383.7 L1401.6 383.9 L1402.3 382.8 L1403 378.9 L1403.7 376.1 L1404.4 378.2 L1405.1 379.8 L1405.8 380.2 L1406.5 381.8 L1407.2 380.7 L1407.9 378.8 L1408.6 379.9 L1409.3 379.1 L1410 378.8 L1410.7 380.4 L1411.4 379.3 L1412.1 382.8 L1412.8 383.5 L1413.5 380.5 L1414.2 382.5 L1414.9 383.9 L1415.6 381.8 L1416.3 380.7 L1417 379.9 L1417.7 379.5 L1418.4 376.9 L1419.1 374.6 L1419.8 377.5 L1420.5 378.2 L1421.2 377.1 L1421.9 380.3 L1422.6 381.9 L1423.3 378.4 L1424 379 L1424.7 380.9 L1425.4 382.8 L1426.1 382.2 L1426.8 382.1 L1427.5 385.5 L1428.2 385.8 L1428.9 388.1 L1429.6 389 L1430.3 384.6 L1431 383.4 L1431.7 384.4 L1432.4 383.2 L1433.1 382.7 L1433.8 383 L1434.5 385.2 L1435.2 382.5 L1435.9 380.1 L1436.6 377.9 L1437.3 375.2 L1438 371 L1438.7 370.7 L1439.4 370 L1440.1 366.5 L1440.8 366.8 L1441.5 366.5 L1442.2 366.9 L1442.9 369.8 L1443.6 368 L1444.3 365.3 L1445 363.3 L1445.7 363.3 L1446.4 362.7 L1447.1 362.5 L1447.8 363.8 L1448.5 367.5 L1449.2 368.2 L1449.9 369 L1450.6 370.5 L1451.3 371.8 L1452 367.8 L1452.7 365.5 L1453.4 367.2 L1454.1 367.7 L1454.8 366.7 L1455.5 366 L1456.2 368 L1456.9 369.2 L1457.6 366.9 L1458.3 365.9 L1459 366.7 L1459.7 364.8 L1460.4 364 L1461.1 363.3 L1461.8 361.6 L1462.5 365.3 L1463.2 364.5 L1463.9 364 L1464.6 364.2 L1465.3 363.6 L1466 362.9 L1466.7 366.4 L1467.4 366.3 L1468.1 367.1 L1468.8 369.2 L1469.5 365.2 L1470.2 365.7 L1470.9 365 L1471.6 364.5 L1472.3 367.3 L1473 364.3 L1473.7 364.7 L1474.4 365.2 L1475.1 364.6 L1475.8 364 L1476.5 366.1 L1477.2 364.5 L1477.9 361.3 L1478.6 361.1 L1479.3 362.4 L1480 361.6 L1480.7 362.7 L1481.4 362.4 L1482.1 359.7 L1482.8 356.9 L1483.5 357.5 L1484.2 359.5 L1484.9 359.8 L1485.6 361.3 L1486.3 358.9 L1487 358.6 L1487.7 358.6 L1488.4 357.5 L1489.1 357.4 L1489.8 357.4 L1490.5 356.7 L1491.2 357.2 L1491.9 358.4 L1492.6 361.5 L1493.3 361.1 L1494 359.8 L1494.7 356.2 L1495.4 358.4 L1496.1 360.1 L1496.8 362 L1497.5 362.3 L1498.2 362.2 L1498.9 364.4 L1499.6 367.3 L1500.3 368.1 L1501 367.2 L1501.7 368.5 L1502.4 368.1 L1503.1 368.9 L1503.8 368.9 L1504.5 372.4 L1505.2 374.6 L1505.9 372.7 L1506.6 372.8 L1507.3 370.5 L1508 372.7 L1508.7 377.1 L1509.4 375.2 L1510.1 373.7 L1510.8 371.9 L1511.5 373.1 L1512.2 374.1 L1512.9 376.1 L1513.6 375.8 L1514.3 377.1 L1515 373.3 L1515.7 371.7 L1516.4 369.1 L1517.1 370.7 L1517.8 372.8 L1518.5 370.4 L1519.2 368.2 L1519.9 370.1 L1520.6 370.9 L1521.3 370.1 L1522 368.8 L1522.7 366.6 L1523.4 369.9 L1524.1 369.3 L1524.8 367.2 L1525.5 371.4 L1526.2 371.3 L1526.9 371 L1527.6 369.2 L1528.3 370.1 L1529 371.3 L1529.7 374.2 L1530.4 373.6 L1531.1 372.2 L1531.8 373.5 L1532.5 375.1 L1533.2 373.7 L1533.9 373.8 L1534.6 371.6 L1535.3 370.5 L1536 372.2 L1536.7 373.4 L1537.4 374.6 L1538.1 375.3 L1538.8 373.3 L1539.5 372.9 L1540.2 374.1 L1540.9 373.6 L1541.6 372.5 L1542.3 371 L1543 367.9 L1543.7 368.2 L1544.4 367.8 L1545.1 369.5 L1545.8 370.4 L1546.5 368.7 L1547.2 371 L1547.9 370.8 L1548.6 370.8 L1549.3 371.8 L1550 373.2 L1550.7 371.3 L1551.4 370.2 L1552.1 373.2 L1552.8 373.9 L1553.5 374.5 L1554.2 373.5 L1554.9 371.1 L1555.6 371.9 L1556.3 372.4 L1557 372.6 L1557.7 373.3 L1558.4 373.7 L1559.1 373.1 L1559.8 374.3 L1560.5 375.6 L1561.2 374.1 L1561.9 374.8 L1562.6 374.7 L1563.3 375.2 L1564 377.4 L1564.7 380.2 L1565.4 382.5 L1566.1 382 L1566.8 383.4 L1567.5 383.8 L1568.2 381.6 L1568.9 378.7 L1569.6 382.5 L1570.3 384.1 L1571 383.5 L1571.7 384.4 L1572.4 384.6 L1573.1 380.6 L1573.8 379.9 L1574.5 379.9 L1575.2 376.3 L1575.9 377.3 L1576.6 380.7 L1577.3 383.2 L1578 384.2 L1578.7 385.1 L1579.4 386.8 L1580.1 384.2 L1580.8 381.2 L1581.5 382.6 L1582.2 384.5 L1582.9 383.4 L1583.6 381.1 L1584.3 383 L1585 382.9 L1585.7 385.6 L1586.4 389.2 L1587.1 388.9 L1587.8 389.1 L1588.5 391 L1589.2 393.1 L1589.9 396.5 L1590.6 396.3 L1591.3 395 L1592 392.7 L1592.7 392.6 L1593.4 392.8 L1594.1 391.4 L1594.8 394 L1595.5 393.1 L1596.2 394.2 L1596.9 394.9 L1597.6 394.1 L1598.3 395.6 L1599 397.7 L1599.7 399.2 L1600.4 398.6 L1601.1 399.5 L1601.8 398 L1602.5 397.1 L1603.2 397.9 L1603.9 397 L1604.6 397.8 L1605.3 399.4 L1606 400.3 L1606.7 399.1 L1607.4 398.3 L1608.1 401.8 L1608.8 402.2 L1609.5 401.4 L1610.2 401.9 L1610.9 404.5 L1611.6 404.6 L1612.3 403.9 L1613 403 L1613.7 403.5 L1614.4 401.3 L1615.1 400.5 L1615.8 400.3 L1616.5 399.9 L1617.2 397.3 L1617.9 396.8 L1618.6 396.7 L1619.3 395.9 L1620 395.2 L1620.7 395.2 L1621.4 399 L1622.1 401.2 L1622.8 399.9 L1623.5 401.5 L1624.2 400.9 L1624.9 401.9 L1625.6 404.4 L1626.3 406.2 L1627 405.4 L1627.7 402 L1628.4 402.2 L1629.1 404.4 L1629.8 405.7 L1630.5 407.8 L1631.2 404.9 L1631.9 403.8 L1632.6 404.2 L1633.3 399.3 L1634 400.4 L1634.7 405.7 L1635.4 402.8 L1636.1 401.4 L1636.8 400.5 L1637.5 399.2 L1638.2 398.8 L1638.9 398.2 L1639.6 400.5 L1640.3 401.2 L1641 400.5 L1641.7 397.7 L1642.4 396.4 L1643.1 398.1 L1643.8 399.1 L1644.5 398.6 L1645.2 394.6 L1645.9 393 L1646.6 393.1 L1647.3 391.9 L1648 388.7 L1648.7 384.6 L1649.4 385.6 L1650.1 390.1 L1650.8 389.5 L1651.5 388.3 L1652.2 391 L1652.9 389.9 L1653.6 389.1 L1654.3 389.8 L1655 392.8 L1655.7 392.3 L1656.4 391.3 L1657.1 390.3 L1657.8 390.6 L1658.5 393.2 L1659.2 395.3 L1659.9 397.5 L1660.6 396 L1661.3 397.5 L1662 401 L1662.7 401.9 L1663.4 400.5 L1664.1 401.3 L1664.8 400 L1665.5 398.7 L1666.2 397.2 L1666.9 396 L1667.6 393.1 L1668.3 392.2 L1669 392.8 L1669.7 391.5 L1670.4 390.6 L1671.1 390.4 L1671.8 388.6 L1672.5 386 L1673.2 382.1 L1673.9 383.1 L1674.6 384.3 L1675.3 381.8 L1676 381.2 L1676.7 381.1 L1677.4 380.3 L1678.1 380.4 L1678.8 378.9 L1679.5 377.3 L1680.2 377.8 L1680.9 377.7 L1681.6 378.5 L1682.3 381.6 L1683 383.8 L1683.7 383.8 L1684.4 383.5 L1685.1 385.3 L1685.8 388 L1686.5 390.6 L1687.2 392.5 L1687.9 391 L1688.6 389.8 L1689.3 389.3 L1690 393.4 L1690.7 394.4 L1691.4 392.5 L1692.1 389.9 L1692.8 388.5 L1693.5 391.9 L1694.2 392.7 L1694.9 395.2 L1695.6 395.6 L1696.3 396.2 L1697 397.1 L1697.7 399.1 L1698.4 399.4 L1699.1 403.4 L1699.8 401.4 L1700.5 398.7 L1701.2 398.4 L1701.9 398 L1702.6 398.5 L1703.3 396.8 L1704 395.3 L1704.7 395.9 L1705.4 396.3 L1706.1 396.8 L1706.8 397.5 L1707.5 397.6 L1708.2 396.7 L1708.9 395.3 L1709.6 390.3 L1710.3 392.2 L1711 394.3 L1711.7 392.4 L1712.4 393.6 L1713.1 394.3 L1713.8 392.7 L1714.5 394.4 L1715.2 396.7 L1715.9 397.3 L1716.6 400.6 L1717.3 402 L1718 398.5 L1718.7 396.5 L1719.4 397.7 L1720.1 397.4 L1720.8 396.6 L1721.5 398.1 L1722.2 398.9 L1722.9 400.1 L1723.6 402.6 L1724.3 403.1 L1725 401 L1725.7 399.2 L1726.4 399.1 L1727.1 398.3 L1727.8 397 L1728.5 393.4 L1729.2 390.7 L1729.9 393.3 L1730.6 391.5 L1731.3 389.5 L1732 388.7 L1732.7 388 L1733.4 387.9 L1734.1 389.2 L1734.8 387.3 L1735.5 385.4 L1736.2 383.5 L1736.9 383.7 L1737.6 384 L1738.3 383 L1739 381.9 L1739.7 380.2 L1740.4 380.1 L1741.1 378.3 L1741.8 377.5 L1742.5 377.9 L1743.2 380.1 L1743.9 382 L1744.6 381 L1745.3 379.7 L1746 381.6 L1746.7 383.8 L1747.4 384 L1748.1 383 L1748.8 381.1 L1749.5 381.8 L1750.2 382.9 L1750.9 384.4 L1751.6 386.4 L1752.3 387.1 L1753 387.8 L1753.7 387.2 L1754.4 384.8 L1755.1 383.8 L1755.8 382.8 L1756.5 379.9 L1757.2 378.4 L1757.9 376.9 L1758.6 377 L1759.3 378 L1760 378.2 L1760.7 378.4 L1761.4 377.2 L1762.1 376 L1762.8 379 L1763.5 377.9 L1764.2 373.3 L1764.9 372.3 L1765.6 372.8 L1766.3 373.6 L1767 373.8 L1767.7 371.2 L1768.4 369.3 L1769.1 374.7 L1769.8 374 L1770.5 371.5 L1771.2 368.9 L1771.9 369.3 L1772.6 369.9 L1773.3 368.6 L1774 369.4 L1774.7 369 L1775.4 369.5 L1776.1 368.3 L1776.8 367.6 L1777.5 364.8 L1778.2 366.9 L1778.9 366.1 L1779.6 364.7 L1780.3 365.3 L1781 364.2 L1781.7 364.8 L1782.4 365.2 L1783.1 365.5 L1783.8 366.4 L1784.5 365.8 L1785.2 365.6 L1785.9 362.6 L1786.6 360.8 L1787.3 360.7 L1788 359.5 L1788.7 358.1 L1789.4 358.9 L1790.1 358 L1790.8 357.8 L1791.5 357.3 L1792.2 355.8 L1792.9 354.7 L1793.6 355.4 L1794.3 355.7 L1795 356.6 L1795.7 355.6 L1796.4 353 L1797.1 348.2 L1797.8 344.4 L1798.5 340.4 L1799.2 338.6 L1799.9 337.9 L1800.6 337.8 L1801.3 338.2 L1802 339.7 L1802.7 342.8 L1803.4 343.1 L1804.1 344.5 L1804.8 344.8 L1805.5 343.8 L1806.2 339.6 L1806.9 337.8 L1807.6 339.1 L1808.3 337 L1809 335.9 L1809.7 335.5 L1810.4 335.3 L1811.1 334.7 L1811.8 333.4 L1812.5 334.8 L1813.2 337.5 L1813.9 339.7 L1814.6 340.8 L1815.3 340.6 L1816 339.6 L1816.7 341.1 L1817.4 342.5 L1818.1 340.7 L1818.8 341.4 L1819.5 344.7 L1820.2 346.5 L1820.9 345.8 L1821.6 345.1 L1822.3 344.9 L1823 346.4 L1823.7 347.3 L1824.4 349.8 L1825.1 352.1 L1825.8 353.5 L1826.5 352.5 L1827.2 347.5 L1827.9 345.6 L1828.6 347.7 L1829.3 345.8 L1830 341.4 L1830.7 339.7 L1831.4 337.3 L1832.1 336.7 L1832.8 336.5 L1833.5 334.9 L1834.2 330.4 L1834.9 330.6 L1835.6 334.4 L1836.3 336.6 L1837 339 L1837.7 337.9 L1838.4 337.4 L1839.1 337.3 L1839.8 343.1 L1840.5 345.8 L1841.2 344.9 L1841.9 343.2 L1842.6 341.3 L1843.3 342.7 L1844 346.5 L1844.7 351 L1845.4 350.7 L1846.1 349.2 L1846.8 350.9 L1847.5 352.5 L1848.2 352.5 L1848.9 351.3 L1849.6 352.9 L1850.3 355.2 L1851 353.7 L1851.7 352.3 L1852.4 353.7 L1853.1 350.2 L1853.8 347.5 L1854.5 347.9 L1855.2 346.8 L1855.9 345.1 L1856.6 346 L1857.3 344.9 L1858 343.6 L1858.7 344.5 L1859.4 344.7 L1860.1 344.2 L1860.8 345 L1861.5 344.2 L1862.2 345 L1862.9 346.6 L1863.6 345.6 L1864.3 346.7 L1865 348.2 L1865.7 350.8 L1866.4 352.1 L1867.1 356 L1867.8 356.7 L1868.5 354.6 L1869.2 355.5 L1869.9 356.4 L1870.6 357 L1871.3 358.4 L1872 360.2 L1872.7 361.3 L1873.4 359.2 L1874.1 354.4 L1874.8 353.9 L1875.5 354.5 L1876.2 354.4 L1876.9 354.7 L1877.6 354.7 L1878.3 352.6 L1879 352.9 L1879.7 356 L1880.4 355.2 L1881.1 354.6 L1881.8 351.7 L1882.5 352.9 L1883.2 353.7 L1883.9 351.7 L1884.6 349.8 L1885.3 351.1 L1886 350.7 L1886.7 351.2 L1887.4 354.1 L1888.1 356.3 L1888.8 356.6 L1889.5 357.2 L1890.2 358 L1890.9 357.2 L1891.6 358.6 L1892.3 359.9 L1893 360.1 L1893.7 359.3 L1894.4 357.4 L1895.1 357.8 L1895.8 358.9 L1896.5 359.4 L1897.2 357.5 L1897.9 358.4 L1898.6 358.5 L1899.3 361 L1900 361.3 L1900.7 362.6 L1901.4 365.3 L1902.1 366.1 L1902.8 363.5 L1903.5 363.2 L1904.2 361.6 L1904.9 361.7 L1905.6 361.4 L1906.3 361.6 L1907 360 L1907.7 358 L1908.4 357 L1909.1 358.5 L1909.8 359.7 L1910.5 361.6 L1911.2 362.1 L1911.9 366 L1912.6 370.5 L1913.3 373.5 L1914 372.5 L1914.7 371.3 L1915.4 370.9 L1916.1 370.9 L1916.8 369 L1917.5 367.6 L1918.2 365.5 L1918.9 369 L1919.6 372.4 L1920.3 371.5 L1921 374.6 L1921.7 376.6 L1922.4 377.9 L1923.1 380.2 L1923.8 381.2 L1924.5 379.5 L1925.2 378.4 L1925.9 377 L1926.6 379.3 L1927.3 378.1 L1928 376.7 L1928.7 374.8 L1929.4 376.5 L1930.1 375.3 L1930.8 373.9 L1931.5 374.4 L1932.2 375.1 L1932.9 374.8 L1933.6 376.2 L1934.3 377.8 L1935 380.3 L1935.7 381.8 L1936.4 380.9 L1937.1 379 L1937.8 378.1 L1938.5 376.9 L1939.2 375.9 L1939.9 374.5 L1940.6 374.8 L1941.3 376.1" fill="none" stroke="#FFA500" stroke-width="1.3" stroke-linejoin="miter" stroke-linecap="butt" />
<line x1="1594.4" y1="378" x2="1594.4" y2="345" stroke="#231F20" stroke-width="2.1" stroke-linecap="butt" />
<path d="M1594.4 331.5 L1602.6 352.5 Q1594.4 346.5 1586.2 352.5 Z" fill="#231F20"/>
<text x="1610" y="361.6" font-family='"Liberation Sans", "DejaVu Sans", sans-serif' font-size="27.6" text-anchor="start" fill="#231F20" >excitatory</text>
<line x1="1767.6" y1="393" x2="1767.6" y2="417" stroke="#231F20" stroke-width="2.1" stroke-linecap="butt" />
<circle cx="1767.6" cy="417.6" r="6.2" fill="#231F20"/>
<text x="1783.6" y="420" font-family='"Liberation Sans", "DejaVu Sans", sans-serif' font-size="27.4" text-anchor="start" fill="#231F20" >inhibitory</text>
<defs>
<filter id="blur1" x="-10%" y="-10%" width="120%" height="120%"><feGaussianBlur stdDeviation="1.2"/></filter>
<filter id="blur2" x="-10%" y="-10%" width="120%" height="120%"><feGaussianBlur stdDeviation="1.5"/></filter>
<filter id="mesh" x="0" y="0" width="100%" height="100%"><feTurbulence type="fractalNoise" baseFrequency="0.85" numOctaves="2" seed="4" result="n"/><feColorMatrix in="n" type="matrix" values="0 0 0 0 0.45  0 0 0 0 0.45  0 0 0 0 0.45  1.6 0 0 0 -0.55"/></filter>
<radialGradient id="gb1" cx="0.35" cy="0.4" r="0.75"><stop offset="0" stop-color="#3F7FCF"/><stop offset="0.6" stop-color="#2F6DC0"/><stop offset="1" stop-color="#1E4FA0"/></radialGradient>
<radialGradient id="gb2" cx="0.45" cy="0.4" r="0.8"><stop offset="0" stop-color="#4383D2"/><stop offset="0.7" stop-color="#3A79C8"/><stop offset="1" stop-color="#2C62B0"/></radialGradient>
</defs>
<g>
<path d="M147.9 100.8 C148.2 99.8 154.3 99.3 156.4 99.7 C158.5 100.2 162.1 104.8 163.8 104 C165.5 103.1 167.2 92.8 169.1 93.4 C170.9 94 175.5 104 177.5 108.2 C179.5 112.4 182.2 120.9 183.9 125.1 C185.5 129.3 188.5 135.9 190.2 139.9 C191.9 143.8 194 149.6 196.5 154.7 C199.1 159.8 208.9 174.5 209.2 177.9 C209.5 181.4 201.7 180.7 198.6 180.5 C195.5 180.2 188.2 177.6 186 175.8 C183.7 174.1 181.2 169.9 181.7 167.4 C182.3 164.8 189.9 159.3 190.2 156.8 C190.5 154.3 185.5 151.2 183.9 148.3 C182.2 145.5 179.5 139.3 177.5 135.7 C175.5 132 171 124.5 169.1 120.9 C167.1 117.2 164.7 110 162.7 108.2 C160.7 106.4 156.2 108.1 154.3 107.1 C152.3 106.1 147.6 101.8 147.9 100.8 Z" fill="#5C8DC8" stroke="none" stroke-width="0" />
<path d="M50.7 69.1 C53.5 65.9 57.4 60.8 61.3 57.5 C65.2 54.1 69.7 51.5 74 49 C78.2 46.6 82.1 44.1 86.6 42.7 C91.2 41.3 96.2 41 101.4 40.6 C106.7 40.1 112.7 40 118.3 40.1 C124 40.3 130.3 41.5 135.2 41.6 C140.2 41.8 143.7 40.8 147.9 41 C152.2 41.2 157.1 41.9 160.6 42.7 C164.1 43.5 166.6 43.7 169.1 45.8 C171.5 48 175.4 51 175.4 55.4 C175.4 59.8 170.1 66.3 169.1 72.3 C168 78.3 167.7 84.9 169.1 91.3 C170.5 97.6 175 105 177.5 110.3 C180 115.6 181.7 118.8 183.9 123 C186 127.2 188.1 131.4 190.2 135.7 C192.3 139.9 194.4 144.5 196.5 148.3 C198.6 152.2 200.8 155.4 202.9 158.9 C205 162.4 207.5 166 209.2 169.5 C211 173 212.7 176.9 213.4 180 C214.2 183.2 213.9 185.7 213.9 188.5 C213.9 191.3 214.2 194.1 213.4 196.9 C212.7 199.8 211.7 202.9 209.2 205.4 C206.7 207.9 202.2 210 198.6 211.7 C195.1 213.5 191.6 214.6 188.1 216 C184.6 217.4 181 219.3 177.5 220.2 C174 221.1 170.5 222 166.9 221.3 C163.4 220.5 159.6 217.9 156.4 216 C153.2 214 150.7 211.7 147.9 209.6 C145.1 207.5 142.3 205 139.5 203.3 C136.7 201.5 134.2 200.1 131 199.1 C127.9 198 124 196.9 120.5 196.9 C116.9 196.9 113.4 198.2 109.9 199.1 C106.4 199.9 102.8 202.2 99.3 202.2 C95.8 202.2 92.3 199.9 88.8 199.1 C85.2 198.2 82.1 196.9 78.2 196.9 C74.3 196.9 69.7 198.4 65.5 199.1 C61.3 199.8 56.7 201.2 52.8 201.2 C49 201.2 45.8 200.1 42.3 199.1 C38.7 198 34.9 196.6 31.7 194.8 C28.5 193.1 25.7 191.3 23.2 188.5 C20.8 185.7 18.5 181.8 16.9 177.9 C15.3 174.1 14.1 169.5 13.7 165.2 C13.4 161 13.7 156.4 14.8 152.6 C15.8 148.7 19 145.9 20.1 142 C21.1 138.1 20.3 133.9 21.1 129.3 C22 124.7 23.6 119.5 25.4 114.5 C27.1 109.6 29.6 104.3 31.7 99.7 C33.8 95.2 35.9 90.9 38 87.1 C40.2 83.2 42.3 79.5 44.4 76.5 C46.5 73.5 47.9 72.3 50.7 69.1 Z" fill="#ABABAB" stroke="none" stroke-width="0" opacity="0.95"/>
<clipPath id="b1c"><path d="M50.7 69.1 C53.5 65.9 57.4 60.8 61.3 57.5 C65.2 54.1 69.7 51.5 74 49 C78.2 46.6 82.1 44.1 86.6 42.7 C91.2 41.3 96.2 41 101.4 40.6 C106.7 40.1 112.7 40 118.3 40.1 C124 40.3 130.3 41.5 135.2 41.6 C140.2 41.8 143.7 40.8 147.9 41 C152.2 41.2 157.1 41.9 160.6 42.7 C164.1 43.5 166.6 43.7 169.1 45.8 C171.5 48 175.4 51 175.4 55.4 C175.4 59.8 170.1 66.3 169.1 72.3 C168 78.3 167.7 84.9 169.1 91.3 C170.5 97.6 175 105 177.5 110.3 C180 115.6 181.7 118.8 183.9 123 C186 127.2 188.1 131.4 190.2 135.7 C192.3 139.9 194.4 144.5 196.5 148.3 C198.6 152.2 200.8 155.4 202.9 158.9 C205 162.4 207.5 166 209.2 169.5 C211 173 212.7 176.9 213.4 180 C214.2 183.2 213.9 185.7 213.9 188.5 C213.9 191.3 214.2 194.1 213.4 196.9 C212.7 199.8 211.7 202.9 209.2 205.4 C206.7 207.9 202.2 210 198.6 211.7 C195.1 213.5 191.6 214.6 188.1 216 C184.6 217.4 181 219.3 177.5 220.2 C174 221.1 170.5 222 166.9 221.3 C163.4 220.5 159.6 217.9 156.4 216 C153.2 214 150.7 211.7 147.9 209.6 C145.1 207.5 142.3 205 139.5 203.3 C136.7 201.5 134.2 200.1 131 199.1 C127.9 198 124 196.9 120.5 196.9 C116.9 196.9 113.4 198.2 109.9 199.1 C106.4 199.9 102.8 202.2 99.3 202.2 C95.8 202.2 92.3 199.9 88.8 199.1 C85.2 198.2 82.1 196.9 78.2 196.9 C74.3 196.9 69.7 198.4 65.5 199.1 C61.3 199.8 56.7 201.2 52.8 201.2 C49 201.2 45.8 200.1 42.3 199.1 C38.7 198 34.9 196.6 31.7 194.8 C28.5 193.1 25.7 191.3 23.2 188.5 C20.8 185.7 18.5 181.8 16.9 177.9 C15.3 174.1 14.1 169.5 13.7 165.2 C13.4 161 13.7 156.4 14.8 152.6 C15.8 148.7 19 145.9 20.1 142 C21.1 138.1 20.3 133.9 21.1 129.3 C22 124.7 23.6 119.5 25.4 114.5 C27.1 109.6 29.6 104.3 31.7 99.7 C33.8 95.2 35.9 90.9 38 87.1 C40.2 83.2 42.3 79.5 44.4 76.5 C46.5 73.5 47.9 72.3 50.7 69.1 Z"/></clipPath>
<g clip-path="url(#b1c)" filter="url(#blur2)">
<path d="M52.8 72.3 C60.1 65.4 73.6 52.7 84.5 48 C95.4 43.2 107.6 43.7 118.3 43.7 C129.1 43.7 143.5 41.4 149 48 C154.4 54.5 151.6 74.2 151.1 82.8 C150.6 91.5 149.9 96.2 145.8 99.7 C141.8 103.3 132.8 101.5 126.8 104 C120.8 106.4 113.4 110 109.9 114.5 C106.4 119.1 104.3 125.8 105.7 131.4 C107.1 137.1 114.1 142.7 118.3 148.3 C122.6 154 126.1 159.6 131 165.2 C136 170.9 141.6 177.9 147.9 182.2 C154.3 186.4 166.2 187.8 169.1 190.6 C171.9 193.4 170.5 198.7 164.8 199.1 C159.2 199.4 144.4 195.9 135.2 192.7 C126.1 189.6 117.6 182.2 109.9 180 C102.1 177.9 95.4 177.9 88.8 180 C82.1 182.2 76.8 189.9 69.7 192.7 C62.7 195.5 52.1 199.4 46.5 196.9 C40.9 194.5 35.6 184.6 35.9 177.9 C36.3 171.2 49.7 163.8 48.6 156.8 C47.5 149.8 32.4 143.4 29.6 135.7 C26.8 127.9 29.8 118.1 31.7 110.3 C33.6 102.6 37.7 95.5 41.2 89.2 C44.7 82.8 45.6 79.1 52.8 72.3 Z" fill="#878787" stroke="none" stroke-width="0" opacity="0.92"/>
<path d="M69.7 112.4 C72.6 108.9 79.6 107.8 84.5 108.2 C89.5 108.5 96.5 110.7 99.3 114.5 C102.1 118.4 102.5 125.8 101.4 131.4 C100.4 137.1 96.9 146.2 93 148.3 C89.1 150.5 82.4 147.3 78.2 144.1 C74 140.9 69 134.6 67.6 129.3 C66.2 124 66.9 115.9 69.7 112.4 Z" fill="#ABABAB" stroke="none" stroke-width="0" opacity="0.8"/>
<path d="M109.9 108.2 C111.3 104.7 120.5 104.3 126.8 104 C133.1 103.6 143.4 103.3 147.9 106.1 C152.5 108.9 156 117 154.3 120.9 C152.5 124.7 143.4 128.6 137.4 129.3 C131.4 130 122.9 128.6 118.3 125.1 C113.8 121.6 108.5 111.7 109.9 108.2 Z" fill="#B0B0B0" stroke="none" stroke-width="0" opacity="0.85"/>
<path d="M105.7 151.5 C107.8 150.5 113.4 150.6 118.3 152.6 C123.3 154.5 130.3 159.3 135.2 163.1 C140.2 167 147.6 173.4 147.9 175.8 C148.3 178.3 142.3 179.3 137.4 177.9 C132.4 176.5 123.6 170.5 118.3 167.4 C113.1 164.2 107.8 161.6 105.7 158.9 C103.6 156.3 103.6 152.6 105.7 151.5 Z" fill="#BDBDBD" stroke="none" stroke-width="0" opacity="0.9"/>
<path d="M35.9 82.8 C37.3 77.9 44 72.6 48.6 72.3 C53.2 71.9 62.3 76.1 63.4 80.7 C64.5 85.3 58.8 96.2 54.9 99.7 C51.1 103.3 43.3 104.7 40.2 101.9 C37 99 34.5 87.8 35.9 82.8 Z" fill="#A5A5A5" stroke="none" stroke-width="0" opacity="0.7"/>
<path d="M118.3 55.4 C120.8 51.1 130.3 50.4 135.2 51.1 C140.2 51.8 146.2 54 147.9 59.6 C149.7 65.2 148.6 79.3 145.8 84.9 C143 90.6 135.2 94.8 131 93.4 C126.8 92 122.6 82.8 120.5 76.5 C118.3 70.2 115.9 59.6 118.3 55.4 Z" fill="#9C9C9C" stroke="none" stroke-width="0" opacity="0.7"/>
<path d="M35.9 99.7 C40.5 102.9 54.6 112.1 63.4 118.8 C72.2 125.4 79.6 133.6 88.8 139.9 C97.9 146.2 108.5 150.5 118.3 156.8 C128.2 163.1 139.5 172.3 147.9 177.9 C156.4 183.6 165.5 188.5 169.1 190.6" fill="none" stroke="#686868" stroke-width="4.2" stroke-linejoin="round" stroke-linecap="butt" opacity="0.6"/>
<path d="M84.5 49 C85.6 53.6 88.4 68 90.9 76.5 C93.3 84.9 96.9 90.6 99.3 99.7 C101.8 108.9 104.6 126.2 105.7 131.4" fill="none" stroke="#686868" stroke-width="4.2" stroke-linejoin="round" stroke-linecap="butt" opacity="0.6"/>
<path d="M52.8 72.3 C55.6 75.8 61.6 88.8 69.7 93.4 C77.8 98 91.9 98.3 101.4 99.7 C110.9 101.1 122.6 101.5 126.8 101.9" fill="none" stroke="#686868" stroke-width="4.2" stroke-linejoin="round" stroke-linecap="butt" opacity="0.6"/>
<path d="M38 148.3 C40.9 151.2 49.7 158.2 54.9 165.2 C60.2 172.3 67.3 186.4 69.7 190.6" fill="none" stroke="#686868" stroke-width="4.2" stroke-linejoin="round" stroke-linecap="butt" opacity="0.6"/>
<path d="M101.4 42.7 C102.8 47.6 105.7 62.4 109.9 72.3 C114.1 82.1 124 96.9 126.8 101.9" fill="none" stroke="#686868" stroke-width="4.2" stroke-linejoin="round" stroke-linecap="butt" opacity="0.6"/>
<path d="M48.6 156.8 C52.1 157.5 63 157.5 69.7 161 C76.4 164.5 85.6 175.1 88.8 177.9" fill="none" stroke="#686868" stroke-width="4.2" stroke-linejoin="round" stroke-linecap="butt" opacity="0.6"/>
<path d="M63.4 57.5 C64.5 63.5 68.7 87.4 69.7 93.4" fill="none" stroke="#686868" stroke-width="4.2" stroke-linejoin="round" stroke-linecap="butt" opacity="0.6"/>
<path d="M126.8 44.8 C128.2 49.4 131.7 65.9 135.2 72.3 C138.8 78.6 145.8 81.1 147.9 82.8" fill="none" stroke="#686868" stroke-width="4.2" stroke-linejoin="round" stroke-linecap="butt" opacity="0.6"/>
<path d="M31.7 110.3 C34.5 111.7 43.3 117.3 48.6 118.8 C53.9 120.2 60.9 118.8 63.4 118.8" fill="none" stroke="#686868" stroke-width="4.2" stroke-linejoin="round" stroke-linecap="butt" opacity="0.6"/>
<path d="M90.9 76.5 C95.4 75.8 110.9 73 118.3 72.3 C125.7 71.6 132.4 72.3 135.2 72.3" fill="none" stroke="#686868" stroke-width="4.2" stroke-linejoin="round" stroke-linecap="butt" opacity="0.6"/>
<path d="M21.1 148.3 C24 148.3 35.2 148.3 38 148.3" fill="none" stroke="#686868" stroke-width="4.2" stroke-linejoin="round" stroke-linecap="butt" opacity="0.6"/>
<path d="M69.7 161 C72.9 157.5 85.6 143.4 88.8 139.9" fill="none" stroke="#686868" stroke-width="4.2" stroke-linejoin="round" stroke-linecap="butt" opacity="0.6"/>
<path d="M118.3 156.8 C120.5 154 126.1 144.1 131 139.9 C136 135.7 145.1 132.8 147.9 131.4" fill="none" stroke="#686868" stroke-width="4.2" stroke-linejoin="round" stroke-linecap="butt" opacity="0.6"/>
<path d="M135.2 192.7 C137.4 190.3 145.8 180.4 147.9 177.9" fill="none" stroke="#686868" stroke-width="4.2" stroke-linejoin="round" stroke-linecap="butt" opacity="0.6"/>
<path d="M169.1 190.6 C172.6 192 183.9 198.4 190.2 199.1 C196.5 199.8 204.3 195.5 207.1 194.8" fill="none" stroke="#686868" stroke-width="4.2" stroke-linejoin="round" stroke-linecap="butt" opacity="0.6"/>
</g>
<g clip-path="url(#b1c)"><rect x="0" y="30" width="230" height="200" filter="url(#mesh)" opacity="0.5"/></g>
<path d="M149 72.3 C149.5 71.8 153.6 80.6 155.3 83.9 C157 87.1 160 93.2 161.7 96.6 C163.4 99.9 166.3 105.9 168 109.2 C169.7 112.6 172.7 118.5 174.3 121.9 C176 125.3 179 131.2 180.7 134.6 C182.4 138 185.3 144 187 147.3 C188.7 150.5 193.8 156.9 193.4 158.9 C192.9 160.9 186 163.5 183.9 162.1 C181.7 160.7 179.3 152.1 177.5 148.3 C175.7 144.5 171.9 137.4 170.1 133.6 C168.3 129.7 165.5 123.1 163.8 119.8 C162.1 116.6 159.6 111.5 157.4 109.2 C155.3 107 149.4 104.5 147.9 102.9 C146.4 101.4 145.3 98.4 146.2 97.6 C147.2 96.9 154.7 98.6 155.3 97.2 C156 95.8 151.9 90.4 151.1 87.1 C150.3 83.7 148.4 72.7 149 72.3 Z" fill="#7396C6" stroke="none" stroke-width="0" opacity="0.8"/>
<g filter="url(#blur1)">
<path d="M132.1 145.2 C132.4 141.3 136.1 138 139.5 135.7 C142.8 133.3 147.6 131.7 152.2 131 C156.7 130.3 162.4 130.3 166.9 131.4 C171.5 132.6 176.1 135.5 179.6 137.8 C183.2 140.1 186.3 142.7 188.1 145.2 C189.8 147.6 191.3 150.6 190.2 152.6 C189.1 154.5 185.3 155.7 181.7 156.8 C178.2 157.9 173.3 158.2 169.1 158.9 C164.8 159.6 160.3 160 156.4 161 C152.5 162.1 149 165.6 145.8 165.2 C142.6 164.9 139.7 162.3 137.4 158.9 C135.1 155.6 131.7 149 132.1 145.2 Z" fill="#62A862" stroke="none" stroke-width="0" opacity="0.85"/>
</g>
<path d="M169.1 45.8 C173.3 45.3 177.5 47.1 181.7 48 C186 48.8 190.2 49.9 194.4 51.1 C198.6 52.4 202.9 53.6 207.1 55.4 C211.3 57.1 215.6 58.9 219.8 61.7 C224 64.5 228.6 68.7 232.5 72.3 C236.3 75.8 239.5 79 243 82.8 C246.5 86.7 250.6 91.3 253.6 95.5 C256.6 99.7 258.9 103.6 261 108.2 C263 112.8 264.9 118.1 265.8 123 C266.8 127.9 267.2 132.8 266.7 137.8 C266.2 142.7 264.9 148.3 263.1 152.6 C261.3 156.8 258.7 160 255.7 163.1 C252.7 166.3 249 169.3 245.1 171.6 C241.3 173.9 236.7 175.5 232.5 176.9 C228.2 178.3 223.3 179.7 219.8 180 C216.3 180.4 214.1 180.7 211.3 179 C208.5 177.2 205.7 172.8 202.9 169.5 C200.1 166.1 196.9 162.4 194.4 158.9 C192 155.4 190.5 152.6 188.1 148.3 C185.6 144.1 182.1 138.1 179.6 133.6 C177.2 129 175.4 125.1 173.3 120.9 C171.2 116.6 169.1 112.4 166.9 108.2 C164.8 104 162.7 99.4 160.6 95.5 C158.5 91.6 156 88.1 154.3 84.9 C152.5 81.8 150.4 79.7 150 76.5 C149.7 73.3 152.2 69.1 152.2 65.9 C152.2 62.8 149.3 59.9 150 57.5 C150.7 55 153.2 53.1 156.4 51.1 C159.6 49.2 164.8 46.4 169.1 45.8 Z" fill="url(#gb1)" stroke="none" stroke-width="0" />
<clipPath id="b1b"><path d="M169.1 45.8 C173.3 45.3 177.5 47.1 181.7 48 C186 48.8 190.2 49.9 194.4 51.1 C198.6 52.4 202.9 53.6 207.1 55.4 C211.3 57.1 215.6 58.9 219.8 61.7 C224 64.5 228.6 68.7 232.5 72.3 C236.3 75.8 239.5 79 243 82.8 C246.5 86.7 250.6 91.3 253.6 95.5 C256.6 99.7 258.9 103.6 261 108.2 C263 112.8 264.9 118.1 265.8 123 C266.8 127.9 267.2 132.8 266.7 137.8 C266.2 142.7 264.9 148.3 263.1 152.6 C261.3 156.8 258.7 160 255.7 163.1 C252.7 166.3 249 169.3 245.1 171.6 C241.3 173.9 236.7 175.5 232.5 176.9 C228.2 178.3 223.3 179.7 219.8 180 C216.3 180.4 214.1 180.7 211.3 179 C208.5 177.2 205.7 172.8 202.9 169.5 C200.1 166.1 196.9 162.4 194.4 158.9 C192 155.4 190.5 152.6 188.1 148.3 C185.6 144.1 182.1 138.1 179.6 133.6 C177.2 129 175.4 125.1 173.3 120.9 C171.2 116.6 169.1 112.4 166.9 108.2 C164.8 104 162.7 99.4 160.6 95.5 C158.5 91.6 156 88.1 154.3 84.9 C152.5 81.8 150.4 79.7 150 76.5 C149.7 73.3 152.2 69.1 152.2 65.9 C152.2 62.8 149.3 59.9 150 57.5 C150.7 55 153.2 53.1 156.4 51.1 C159.6 49.2 164.8 46.4 169.1 45.8 Z"/></clipPath>
<g clip-path="url(#b1b)">
<g filter="url(#blur1)">
<path d="M160.6 55.4 C163.4 49.4 181.7 54.7 190.2 57.5 C198.6 60.3 205 66.3 211.3 72.3 C217.7 78.3 224.7 85.6 228.2 93.4 C231.8 101.1 235.3 111.7 232.5 118.8 C229.6 125.8 218.4 135.7 211.3 135.7 C204.3 135.7 196.5 125.8 190.2 118.8 C183.9 111.7 178.2 104 173.3 93.4 C168.4 82.8 157.8 61.3 160.6 55.4 Z" fill="#4987D6" stroke="none" stroke-width="0" opacity="0.55"/>
<path d="M249.4 99.7 C251.5 96.9 263.8 114.9 266.7 123 C269.6 131.1 268.9 140.6 266.7 148.3 C264.5 156.1 261.4 163.8 253.6 169.5 C245.8 175.1 226.8 180.7 219.8 182.2 C212.7 183.6 208.5 180.7 211.3 177.9 C214.1 175.1 229.6 171.6 236.7 165.2 C243.7 158.9 251.5 150.8 253.6 139.9 C255.7 129 247.2 102.6 249.4 99.7 Z" fill="#1D4E9C" stroke="none" stroke-width="0" opacity="0.6"/>
</g>
<path d="M156.4 68 C159.6 68.7 169.8 69.8 175.4 72.3 C181 74.7 185.6 79 190.2 82.8 C194.8 86.7 197.9 93.8 202.9 95.5 C207.8 97.3 214.8 92.7 219.8 93.4 C224.7 94.1 227.9 95.5 232.5 99.7 C237 104 246.2 112.1 247.3 118.8 C248.3 125.4 240.6 132.1 238.8 139.9 C237 147.6 237 161 236.7 165.2" fill="none" stroke="#143C7E" stroke-width="1.6" stroke-linejoin="round" stroke-linecap="butt" opacity="0.8"/>
<path d="M190.2 99.7 C190.9 102.2 195.1 110.7 194.4 114.5 C193.7 118.4 187.4 121.6 186 123" fill="none" stroke="#143C7E" stroke-width="1.6" stroke-linejoin="round" stroke-linecap="butt" opacity="0.8"/>
<path d="M202.9 95.5 C204.3 99.4 207.8 113.5 211.3 118.8 C214.8 124 219.4 123.7 224 127.2 C228.6 130.7 236.3 137.8 238.8 139.9" fill="none" stroke="#143C7E" stroke-width="1.6" stroke-linejoin="round" stroke-linecap="butt" opacity="0.8"/>
<path d="M200.8 68 C202.5 68.7 207.5 69.4 211.3 72.3 C215.2 75.1 218.7 81.4 224 84.9 C229.3 88.5 237.7 89.9 243 93.4 C248.3 96.9 253.6 104 255.7 106.1" fill="none" stroke="#143C7E" stroke-width="1.6" stroke-linejoin="round" stroke-linecap="butt" opacity="0.8"/>
<path d="M152.2 80.7 C155 80.4 164.5 76.8 169.1 78.6 C173.6 80.4 176.1 87.8 179.6 91.3 C183.2 94.8 188.4 98.3 190.2 99.7" fill="none" stroke="#143C7E" stroke-width="1.6" stroke-linejoin="round" stroke-linecap="butt" opacity="0.8"/>
</g>
<path d="M181.7 165.2 C182.1 161.7 188.8 156.1 192.3 156.8 C195.8 157.5 199.7 165.8 202.9 169.5 C206 173.2 211.3 177 211.3 179 C211.3 180.9 206.4 181.3 202.9 181.1 C199.4 180.9 193.7 180.6 190.2 177.9 C186.7 175.3 181.4 168.8 181.7 165.2 Z" fill="#7F9CC4" stroke="none" stroke-width="0" opacity="0.8"/>
</g>
<g>
<path d="M115.2 279.8 C118.2 277.8 122.7 278 126.8 278.1 C130.8 278.2 135.2 280.3 139.5 280.2 C143.7 280.1 147.2 278.2 152.2 277.7 C157.1 277.2 163.8 276.7 169.1 277.3 C174.3 277.8 179.3 279.7 183.9 280.8 C188.4 282 192 282.1 196.5 284 C201.1 286 206.7 289.3 211.3 292.5 C215.9 295.6 220.1 299.2 224 303 C227.9 306.9 231.8 311.8 234.6 315.7 C237.4 319.6 239.5 322.8 240.9 326.3 C242.3 329.8 241.3 333.7 243 336.9 C244.8 340 249.2 341.8 251.5 345.3 C253.8 348.8 255.5 353.8 256.8 358 C258 362.2 258 366.4 258.9 370.7 C259.8 374.9 261 379.1 262 383.3 C263.1 387.6 264.9 391.8 265.2 396 C265.6 400.2 265 404.5 264.2 408.7 C263.3 412.9 262.4 417.7 259.9 421.4 C257.5 425.1 253.2 429.1 249.4 430.9 C245.5 432.7 240.9 432.5 236.7 431.9 C232.5 431.4 228.2 428.8 224 427.7 C219.8 426.7 215.6 426.5 211.3 425.6 C207.1 424.7 202.9 422.4 198.6 422.4 C194.4 422.4 190.2 424.7 186 425.6 C181.7 426.5 177.5 427.5 173.3 427.7 C169.1 427.9 164.8 426.5 160.6 426.7 C156.4 426.8 151.8 427.5 147.9 428.8 C144.1 430 140.9 431.8 137.4 434.1 C133.8 436.4 130 440 126.8 442.5 C123.6 445 121.5 447.4 118.3 448.9 C115.2 450.3 111.7 451.3 107.8 451 C103.9 450.6 99 448.9 95.1 446.7 C91.2 444.6 87.5 441.5 84.5 438.3 C81.5 435.1 78.7 430.9 77.1 427.7 C75.5 424.6 73.8 421.4 75 419.3 C76.3 417.2 80.7 416.1 84.5 415 C88.4 414 95.8 415 98.3 412.9 C100.7 410.8 100.9 406.2 99.3 402.4 C97.7 398.5 92.3 393.9 88.8 389.7 C85.2 385.5 79.2 381.2 78.2 377 C77.1 372.8 78.9 367.8 82.4 364.3 C85.9 360.8 94.7 358.5 99.3 355.9 C103.9 353.2 109.5 351.6 109.9 348.5 C110.2 345.3 103.4 340.9 101.4 336.9 C99.5 332.8 97.7 329.1 98.3 324.2 C98.8 319.2 102.8 312.9 104.6 307.3 C106.4 301.6 107.1 294.9 108.8 290.4 C110.6 285.8 112.2 281.8 115.2 279.8 Z" fill="#ABABAB" stroke="none" stroke-width="0" opacity="0.95"/>
<clipPath id="b2c"><path d="M115.2 279.8 C118.2 277.8 122.7 278 126.8 278.1 C130.8 278.2 135.2 280.3 139.5 280.2 C143.7 280.1 147.2 278.2 152.2 277.7 C157.1 277.2 163.8 276.7 169.1 277.3 C174.3 277.8 179.3 279.7 183.9 280.8 C188.4 282 192 282.1 196.5 284 C201.1 286 206.7 289.3 211.3 292.5 C215.9 295.6 220.1 299.2 224 303 C227.9 306.9 231.8 311.8 234.6 315.7 C237.4 319.6 239.5 322.8 240.9 326.3 C242.3 329.8 241.3 333.7 243 336.9 C244.8 340 249.2 341.8 251.5 345.3 C253.8 348.8 255.5 353.8 256.8 358 C258 362.2 258 366.4 258.9 370.7 C259.8 374.9 261 379.1 262 383.3 C263.1 387.6 264.9 391.8 265.2 396 C265.6 400.2 265 404.5 264.2 408.7 C263.3 412.9 262.4 417.7 259.9 421.4 C257.5 425.1 253.2 429.1 249.4 430.9 C245.5 432.7 240.9 432.5 236.7 431.9 C232.5 431.4 228.2 428.8 224 427.7 C219.8 426.7 215.6 426.5 211.3 425.6 C207.1 424.7 202.9 422.4 198.6 422.4 C194.4 422.4 190.2 424.7 186 425.6 C181.7 426.5 177.5 427.5 173.3 427.7 C169.1 427.9 164.8 426.5 160.6 426.7 C156.4 426.8 151.8 427.5 147.9 428.8 C144.1 430 140.9 431.8 137.4 434.1 C133.8 436.4 130 440 126.8 442.5 C123.6 445 121.5 447.4 118.3 448.9 C115.2 450.3 111.7 451.3 107.8 451 C103.9 450.6 99 448.9 95.1 446.7 C91.2 444.6 87.5 441.5 84.5 438.3 C81.5 435.1 78.7 430.9 77.1 427.7 C75.5 424.6 73.8 421.4 75 419.3 C76.3 417.2 80.7 416.1 84.5 415 C88.4 414 95.8 415 98.3 412.9 C100.7 410.8 100.9 406.2 99.3 402.4 C97.7 398.5 92.3 393.9 88.8 389.7 C85.2 385.5 79.2 381.2 78.2 377 C77.1 372.8 78.9 367.8 82.4 364.3 C85.9 360.8 94.7 358.5 99.3 355.9 C103.9 353.2 109.5 351.6 109.9 348.5 C110.2 345.3 103.4 340.9 101.4 336.9 C99.5 332.8 97.7 329.1 98.3 324.2 C98.8 319.2 102.8 312.9 104.6 307.3 C106.4 301.6 107.1 294.9 108.8 290.4 C110.6 285.8 112.2 281.8 115.2 279.8 Z"/></clipPath>
<g clip-path="url(#b2c)" filter="url(#blur2)">
<path d="M135.2 284 C140.5 277.7 158.8 279.4 169.1 279.8 C179.3 280.1 187.7 281.9 196.5 286.1 C205.3 290.4 215.2 298.1 221.9 305.2 C228.6 312.2 234.6 320.3 236.7 328.4 C238.8 336.5 233.2 346 234.6 353.8 C236 361.5 244.4 367.1 245.1 374.9 C245.8 382.6 241.6 391.8 238.8 400.2 C236 408.7 233.5 422.1 228.2 425.6 C223 429.1 213.4 423.5 207.1 421.4 C200.8 419.3 196.5 412.9 190.2 412.9 C183.9 412.9 176.1 419.3 169.1 421.4 C162 423.5 154.3 425.6 147.9 425.6 C141.6 425.6 136 423.5 131 421.4 C126.1 419.3 117.6 416.5 118.3 412.9 C119 409.4 128.2 403.8 135.2 400.2 C142.3 396.7 155 396 160.6 391.8 C166.2 387.6 170.5 380.5 169.1 374.9 C167.7 369.3 157.8 361.5 152.2 358 C146.5 354.5 139.5 356.6 135.2 353.8 C131 350.9 126.4 347.1 126.8 341.1 C127.1 335.1 136 327.3 137.4 317.8 C138.8 308.3 130 290.4 135.2 284 Z" fill="#878787" stroke="none" stroke-width="0" opacity="0.92"/>
<path d="M186 345.3 C188.8 341.4 198.6 339.7 202.9 341.1 C207.1 342.5 211.3 348.8 211.3 353.8 C211.3 358.7 207.1 368.9 202.9 370.7 C198.6 372.4 188.8 368.6 186 364.3 C183.2 360.1 183.2 349.2 186 345.3 Z" fill="#ADADAD" stroke="none" stroke-width="0" opacity="0.85"/>
<path d="M166.9 360.1 C169.4 357.6 176.1 360.4 177.5 364.3 C178.9 368.2 177.9 380.9 175.4 383.3 C172.9 385.8 164.1 383 162.7 379.1 C161.3 375.2 164.5 362.6 166.9 360.1 Z" fill="#B5B5B5" stroke="none" stroke-width="0" opacity="0.85"/>
<path d="M213.4 374.9 C216.6 371.4 227.9 368.6 232.5 370.7 C237 372.8 241.3 382.6 240.9 387.6 C240.6 392.5 234.9 399.5 230.3 400.2 C225.8 401 216.3 396 213.4 391.8 C210.6 387.6 210.3 378.4 213.4 374.9 Z" fill="#A8A8A8" stroke="none" stroke-width="0" opacity="0.8"/>
<path d="M147.9 286.1 C150.7 281.2 165.9 280.5 169.1 284 C172.2 287.5 169.8 302.3 166.9 307.3 C164.1 312.2 155.3 317.1 152.2 313.6 C149 310.1 145.1 291.1 147.9 286.1 Z" fill="#A2A2A2" stroke="none" stroke-width="0" opacity="0.7"/>
<path d="M109.9 417.2 C112 414 120.5 407.3 126.8 404.5 C133.1 401.7 142.3 402.4 147.9 400.2 C153.6 398.1 157.4 391.8 160.6 391.8 C163.8 391.8 169.1 397.1 166.9 400.2 C164.8 403.4 154.6 407.3 147.9 410.8 C141.2 414.3 132.4 419.3 126.8 421.4 C121.2 423.5 116.9 424.2 114.1 423.5 C111.3 422.8 107.8 420.3 109.9 417.2 Z" fill="#BDBDBD" stroke="none" stroke-width="0" opacity="0.9"/>
<path d="M196.5 292.5 C199.7 291.8 215.9 301.3 221.9 307.3 C227.9 313.3 233.2 325.2 232.5 328.4 C231.8 331.6 222.6 329.1 217.7 326.3 C212.7 323.5 206.4 317.1 202.9 311.5 C199.4 305.9 193.4 293.2 196.5 292.5 Z" fill="#A0A0A0" stroke="none" stroke-width="0" opacity="0.7"/>
<path d="M147.9 286.1 C150 291.4 155 309.7 160.6 317.8 C166.2 325.9 176.8 326.6 181.7 334.7 C186.7 342.8 190.2 356.2 190.2 366.4 C190.2 376.7 184.6 386.2 181.7 396 C178.9 405.9 174.7 420.7 173.3 425.6" fill="none" stroke="#686868" stroke-width="4.2" stroke-linejoin="round" stroke-linecap="butt" opacity="0.6"/>
<path d="M135.2 317.8 C139.5 317.8 151.5 319.6 160.6 317.8 C169.8 316.1 181.7 311.5 190.2 307.3 C198.6 303 207.8 294.9 211.3 292.5" fill="none" stroke="#686868" stroke-width="4.2" stroke-linejoin="round" stroke-linecap="butt" opacity="0.6"/>
<path d="M181.7 334.7 C186.7 334.7 202.5 331.6 211.3 334.7 C220.1 337.9 230.7 350.6 234.6 353.8" fill="none" stroke="#686868" stroke-width="4.2" stroke-linejoin="round" stroke-linecap="butt" opacity="0.6"/>
<path d="M190.2 366.4 C193.7 371.4 205 386.2 211.3 396 C217.7 405.9 225.4 420.7 228.2 425.6" fill="none" stroke="#686868" stroke-width="4.2" stroke-linejoin="round" stroke-linecap="butt" opacity="0.6"/>
<path d="M135.2 353.8 C139.5 354.1 152.9 359 160.6 355.9 C168.4 352.7 178.2 338.3 181.7 334.7" fill="none" stroke="#686868" stroke-width="4.2" stroke-linejoin="round" stroke-linecap="butt" opacity="0.6"/>
<path d="M131 421.4 C136 419.3 152.2 412.9 160.6 408.7 C169.1 404.5 173.3 398.1 181.7 396 C190.2 393.9 200.8 398.8 211.3 396 C221.9 393.2 239.5 381.9 245.1 379.1" fill="none" stroke="#686868" stroke-width="4.2" stroke-linejoin="round" stroke-linecap="butt" opacity="0.6"/>
<path d="M169.1 279.8 C170.1 284.4 173.3 298.1 175.4 307.3 C177.5 316.4 180.7 330.2 181.7 334.7" fill="none" stroke="#686868" stroke-width="4.2" stroke-linejoin="round" stroke-linecap="butt" opacity="0.6"/>
<path d="M196.5 286.1 C197.6 290.4 200.4 303.4 202.9 311.5 C205.3 319.6 209.9 330.9 211.3 334.7" fill="none" stroke="#686868" stroke-width="4.2" stroke-linejoin="round" stroke-linecap="butt" opacity="0.6"/>
<path d="M234.6 353.8 C237 353.1 246.9 350.2 249.4 349.5" fill="none" stroke="#686868" stroke-width="4.2" stroke-linejoin="round" stroke-linecap="butt" opacity="0.6"/>
<path d="M211.3 396 C212 391.8 215.6 380.9 215.6 370.7 C215.6 360.4 212 340.7 211.3 334.7" fill="none" stroke="#686868" stroke-width="4.2" stroke-linejoin="round" stroke-linecap="butt" opacity="0.6"/>
<path d="M147.9 358 C148.6 362.2 150 374.9 152.2 383.3 C154.3 391.8 159.2 404.5 160.6 408.7" fill="none" stroke="#686868" stroke-width="4.2" stroke-linejoin="round" stroke-linecap="butt" opacity="0.6"/>
<path d="M228.2 425.6 C231.1 423.5 239.9 417.2 245.1 412.9 C250.4 408.7 257.5 402.4 259.9 400.2" fill="none" stroke="#686868" stroke-width="4.2" stroke-linejoin="round" stroke-linecap="butt" opacity="0.6"/>
<path d="M135.2 317.8 C136 321 139.5 330.9 139.5 336.9 C139.5 342.8 136 350.9 135.2 353.8" fill="none" stroke="#686868" stroke-width="4.2" stroke-linejoin="round" stroke-linecap="butt" opacity="0.6"/>
<path d="M190.2 307.3 C188.8 311.8 183.2 330.2 181.7 334.7" fill="none" stroke="#686868" stroke-width="4.2" stroke-linejoin="round" stroke-linecap="butt" opacity="0.6"/>
</g>
<g clip-path="url(#b2c)"><rect x="60" y="270" width="220" height="190" filter="url(#mesh)" opacity="0.5"/></g>
<path d="M114.1 280.2 C112.4 279.9 105.7 282.6 101.4 284 C97.2 285.4 93 287.1 88.8 288.7 C84.5 290.3 80.3 292.2 76.1 293.5 C71.9 294.9 67.3 295.3 63.4 296.7 C59.5 298.1 56.4 299.7 52.8 302 C49.3 304.3 45.8 306.9 42.3 310.4 C38.7 314 34.9 318.7 31.7 323.1 C28.5 327.5 25.5 332.1 23.2 336.9 C21 341.6 19.4 346.7 18 351.6 C16.6 356.6 15.1 361.5 14.8 366.4 C14.4 371.4 15 376.7 15.8 381.2 C16.7 385.8 18.1 390 20.1 393.9 C22 397.8 24.5 401.5 27.5 404.5 C30.5 407.5 34.2 409.9 38 411.9 C41.9 413.8 46.5 415.2 50.7 416.1 C54.9 417 59.2 417.2 63.4 417.2 C67.6 417.2 71.9 416.5 76.1 416.1 C80.3 415.7 85.1 415.6 88.8 415 C92.5 414.5 96 414.2 98.3 412.9 C100.6 411.7 102.1 409.8 102.5 407.6 C102.8 405.5 102 402.5 100.4 400.2 C98.8 398 95.3 396 93 393.9 C90.7 391.8 88.4 389.5 86.6 387.6 C84.9 385.6 84.5 384 82.4 382.3 C80.3 380.5 75.5 378.9 74 377 C72.4 375.1 71.9 372.8 72.9 370.7 C74 368.6 77 365.8 80.3 364.3 C83.7 362.8 89.5 361.4 93 361.8 C96.5 362.1 97.9 365.8 101.4 366.4 C105 367 111.1 366.8 114.1 365.4 C117.1 364 118.3 360.8 119.4 358 C120.5 355.2 119.2 351.1 120.5 348.5 C121.7 345.8 124.7 343.7 126.8 342.1 C128.9 340.5 131.9 340.2 133.1 339 C134.4 337.7 135.2 335.4 134.2 334.7 C133.1 334 130.1 334.2 126.8 334.7 C123.5 335.3 118 337.2 114.1 337.9 C110.2 338.6 106.4 339.8 103.6 339 C100.7 338.1 98.6 334.7 97.2 332.6 C95.8 330.5 94.4 328.8 95.1 326.3 C95.8 323.8 99.7 321 101.4 317.8 C103.2 314.7 104.6 311.1 105.7 307.3 C106.7 303.4 106.7 298.1 107.8 294.6 C108.8 291.1 110.9 288.5 112 286.1 C113.1 283.7 115.9 280.6 114.1 280.2 Z" fill="url(#gb2)" stroke="none" stroke-width="0" />
<clipPath id="b2b"><path d="M114.1 280.2 C112.4 279.9 105.7 282.6 101.4 284 C97.2 285.4 93 287.1 88.8 288.7 C84.5 290.3 80.3 292.2 76.1 293.5 C71.9 294.9 67.3 295.3 63.4 296.7 C59.5 298.1 56.4 299.7 52.8 302 C49.3 304.3 45.8 306.9 42.3 310.4 C38.7 314 34.9 318.7 31.7 323.1 C28.5 327.5 25.5 332.1 23.2 336.9 C21 341.6 19.4 346.7 18 351.6 C16.6 356.6 15.1 361.5 14.8 366.4 C14.4 371.4 15 376.7 15.8 381.2 C16.7 385.8 18.1 390 20.1 393.9 C22 397.8 24.5 401.5 27.5 404.5 C30.5 407.5 34.2 409.9 38 411.9 C41.9 413.8 46.5 415.2 50.7 416.1 C54.9 417 59.2 417.2 63.4 417.2 C67.6 417.2 71.9 416.5 76.1 416.1 C80.3 415.7 85.1 415.6 88.8 415 C92.5 414.5 96 414.2 98.3 412.9 C100.6 411.7 102.1 409.8 102.5 407.6 C102.8 405.5 102 402.5 100.4 400.2 C98.8 398 95.3 396 93 393.9 C90.7 391.8 88.4 389.5 86.6 387.6 C84.9 385.6 84.5 384 82.4 382.3 C80.3 380.5 75.5 378.9 74 377 C72.4 375.1 71.9 372.8 72.9 370.7 C74 368.6 77 365.8 80.3 364.3 C83.7 362.8 89.5 361.4 93 361.8 C96.5 362.1 97.9 365.8 101.4 366.4 C105 367 111.1 366.8 114.1 365.4 C117.1 364 118.3 360.8 119.4 358 C120.5 355.2 119.2 351.1 120.5 348.5 C121.7 345.8 124.7 343.7 126.8 342.1 C128.9 340.5 131.9 340.2 133.1 339 C134.4 337.7 135.2 335.4 134.2 334.7 C133.1 334 130.1 334.2 126.8 334.7 C123.5 335.3 118 337.2 114.1 337.9 C110.2 338.6 106.4 339.8 103.6 339 C100.7 338.1 98.6 334.7 97.2 332.6 C95.8 330.5 94.4 328.8 95.1 326.3 C95.8 323.8 99.7 321 101.4 317.8 C103.2 314.7 104.6 311.1 105.7 307.3 C106.7 303.4 106.7 298.1 107.8 294.6 C108.8 291.1 110.9 288.5 112 286.1 C113.1 283.7 115.9 280.6 114.1 280.2 Z"/></clipPath>
<g clip-path="url(#b2b)">
<g filter="url(#blur1)">
<path d="M14.8 366.4 C13.9 367.8 13.7 376.8 15.8 383.3 C18 389.9 21.7 399.9 27.5 405.5 C33.3 411.2 40.5 415.4 50.7 417.2 C60.9 418.9 80.3 417.2 88.8 416.1 C97.2 415 100.7 414.2 101.4 410.8 C102.1 407.5 99.3 397.1 93 396 C86.6 395 73.3 404.8 63.4 404.5 C53.5 404.1 40.9 398.8 33.8 393.9 C26.8 389 24.3 379.5 21.1 374.9 C18 370.3 15.7 365 14.8 366.4 Z" fill="#2E68B4" stroke="none" stroke-width="0" opacity="0.55"/>
</g>
<path d="M23.2 337.9 C25.7 338.4 33.5 339.7 38 341.1 C42.6 342.5 46.8 345.3 50.7 346.4 C54.6 347.4 58.8 350.4 61.3 347.4 C63.8 344.4 63.4 334.7 65.5 328.4 C67.6 322.1 70.8 314 74 309.4 C77.1 304.8 81 303 84.5 300.9 C88.1 298.8 91.6 298.3 95.1 296.7 C98.6 295.1 103.9 292.3 105.7 291.4" fill="none" stroke="#12346E" stroke-width="1.8" stroke-linejoin="round" stroke-linecap="butt" opacity="0.85"/>
<path d="M61.3 347.4 C62.7 349.9 67.8 358.3 69.7 362.2 C71.7 366.1 72.4 369.3 72.9 370.7" fill="none" stroke="#12346E" stroke-width="1.8" stroke-linejoin="round" stroke-linecap="butt" opacity="0.85"/>
<path d="M16.9 372.8 C18 375.2 20.4 384.4 23.2 387.6 C26.1 390.7 29.6 390 33.8 391.8 C38 393.6 43.7 396.6 48.6 398.1 C53.5 399.7 58.5 401.5 63.4 401.3 C68.3 401.1 74 398.7 78.2 397.1 C82.4 395.5 87 392.7 88.8 391.8" fill="none" stroke="#12346E" stroke-width="1.8" stroke-linejoin="round" stroke-linecap="butt" opacity="0.85"/>
</g>
<path d="M114.1 280.8 C116.7 281.1 124.3 290.1 126.8 292.5 C129.3 294.9 132.4 296 133.1 298.8 C133.8 301.6 132.9 309.7 132.1 313.6 C131.2 317.6 126.7 325.4 126.8 328.4 C126.9 331.4 134.3 334.4 133.1 335.8 C132 337.2 122.3 338.5 118.3 339 C114.4 339.4 106.5 340.4 103.6 339 C100.6 337.6 96.4 331.5 96.2 328.4 C95.9 325.3 99.9 319.1 101.4 315.7 C103 312.3 106.9 306.4 107.8 303 C108.6 299.7 106.9 293.3 107.8 290.4 C108.6 287.4 111.6 280.6 114.1 280.8 Z" fill="#7E9CC6" stroke="#6F93C8" stroke-width="2.5" />
<path d="M74 370.7 C74.2 368.1 79.9 364.5 82.4 363.3 C85 362 90.7 360.7 93 361.2 C95.2 361.6 99 364.6 99.3 366.4 C99.6 368.3 97.1 373.1 95.1 374.9 C93.1 376.7 86.5 379.2 84.5 380.2 C82.6 381.2 81.7 383.6 80.3 382.3 C78.9 381 73.7 373.2 74 370.7 Z" fill="#6C92C8" stroke="#5F8AC8" stroke-width="2.5" />
<path d="M82.4 381.2 C82.8 379.6 86.6 378.4 88.8 378.1 C90.9 377.7 93 380 95.1 379.1 C97.2 378.2 98.6 374.5 101.4 372.8 C104.3 371 108.5 369.6 112 368.6 C115.5 367.5 119 366.6 122.6 366.4 C126.1 366.3 130 366.4 133.1 367.5 C136.3 368.6 139.1 371 141.6 372.8 C144.1 374.5 146.5 376.3 147.9 378.1 C149.3 379.8 150.4 381.4 150 383.3 C149.7 385.3 147.6 387.6 145.8 389.7 C144.1 391.8 141.9 394.4 139.5 396 C137 397.6 133.8 399.4 131 399.2 C128.2 399 125.2 396 122.6 395 C119.9 393.9 117.3 392.7 115.2 392.9 C113.1 393 111.5 394.8 109.9 396 C108.3 397.3 107.4 399.7 105.7 400.2 C103.9 400.8 101.4 400.2 99.3 399.2 C97.2 398.1 95.1 395.8 93 393.9 C90.9 392 88.4 389.7 86.6 387.6 C84.9 385.5 82.1 382.8 82.4 381.2 Z" fill="#3CB63C" stroke="#2C962C" stroke-width="1.2" />
<path d="M95.1 380.2 C96.5 380.7 101.4 381.8 103.6 383.3 C105.7 384.9 107.4 387 107.8 389.7 C108.1 392.3 106 397.6 105.7 399.2" fill="none" stroke="#238023" stroke-width="1.6" stroke-linejoin="round" stroke-linecap="butt" opacity="0.8"/>
<path d="M118.3 380.2 C119.8 380 124 378.8 126.8 379.1 C129.6 379.5 132.4 381.1 135.2 382.3 C138.1 383.5 142.3 385.8 143.7 386.5" fill="none" stroke="#2C982C" stroke-width="2.2" stroke-linejoin="round" stroke-linecap="butt" opacity="0.7"/>
</g>
<text x="441" y="59.4" font-family='"Liberation Sans", "DejaVu Sans", sans-serif' font-size="27" text-anchor="middle" fill="#231F20" >Frontal cortex</text>
<text x="439.5" y="445.8" font-family='"Liberation Sans", "DejaVu Sans", sans-serif' font-size="27" text-anchor="middle" fill="#231F20" >Striatum</text>
<circle cx="440" cy="108.1" r="29.7" fill="#8DB9DE"/>
<circle cx="440" cy="374.8" r="29.7" fill="#99D9A6"/>
<text x="440" y="117.8" font-family='"Liberation Sans", "DejaVu Sans", sans-serif' font-size="27" text-anchor="middle" fill="#231F20" >1</text>
<text x="440" y="384.5" font-family='"Liberation Sans", "DejaVu Sans", sans-serif' font-size="27" text-anchor="middle" fill="#231F20" >2</text>
<path d="M355.1 231 C356 190 372 150 397 131" fill="none" stroke="#231F20" stroke-width="3.6"/>
<path d="M405.5 124.3 L386.5 128.8 Q392.5 134 392.8 142.3 Z" fill="#231F20"/>
<path d="M408.4 231 C408.6 200 415 172 425.6 153.6" fill="none" stroke="#231F20" stroke-width="3.6"/>
<circle cx="425.6" cy="153.6" r="7.4" fill="#231F20"/>
<path d="M464 126.7 C512 180 516 270 478 332" fill="none" stroke="#231F20" stroke-width="3.6"/>
<path d="M472 340.5 L476.8 321.5 Q481.5 328 490.5 328.8 Z" fill="#231F20"/>
<path d="M381.5 278.8 C381.5 318 396 343 417.7 354.9" fill="none" stroke="#231F20" stroke-width="3.6"/>
<rect x="339.4" y="232.5" width="82.4" height="44.8" fill="#fff" stroke="#231F20" stroke-width="3.4"/>
<path d="M342.5 273.5 L343 248.9 L343.5 259.5 L344 246.9 L344.5 248.8 L345 250.1 L345.5 249.7 L346 257.2 L346.5 261.5 L347 252.6 L347.5 256.1 L348 255.1 L348.5 246.2 L349 262.9 L349.5 254.9 L350 256 L350.5 237 L351 253.5 L351.5 262.6 L352 248.6 L352.5 255.6 L353 244.9 L353.5 258 L354 254 L354.5 248.1 L355 256.5 L355.5 244.2 L356 254.7 L356.5 259.8 L357 251.1 L357.5 253.7 L358 248.4 L358.5 253.7 L359 251.6 L359.5 258.9 L360 252.3 L360.5 248 L361 254.6 L361.5 253.4 L362 258.3 L362.5 253.2 L363 253.2 L363.5 257.9 L364 251.6 L364.5 252.2 L365 251.1 L365.5 260.1 L366 259 L366.5 257.6 L367 266 L367.5 260 L368 255.9 L368.5 273.5 L369 261.7 L369.5 259.1 L370 255.4 L370.5 258.3 L371 267.4 L371.5 259.9 L372 254.6 L372.5 243.7 L373 248.7 L373.5 260.8 L374 256 L374.5 262.5 L375 249.4 L375.5 250.9 L376 255.5 L376.5 259.7 L377 258.5 L377.5 250 L378 252 L378.5 259 L379 253.7 L379.5 261.9 L380 256.1 L380.5 260 L381 255.5 L381.5 238.8 L382 254 L382.5 255.5 L383 260.8 L383.5 247.7 L384 247.7 L384.5 245.1 L385 259.9 L385.5 252.5 L386 256.3 L386.5 257.7 L387 256.9 L387.5 248.6 L388 254 L388.5 257.7 L389 266.7 L389.5 248.7 L390 259.1 L390.5 248.9 L391 260.2 L391.5 256.5 L392 249.7 L392.5 251.2 L393 251.8 L393.5 268.3 L394 255.8 L394.5 262 L395 247.8 L395.5 249.3 L396 258.2 L396.5 258.9 L397 256.8 L397.5 263.1 L398 259.1 L398.5 249.9 L399 258.7 L399.5 258.1 L400 256.8 L400.5 245.8 L401 237.2 L401.5 249.6 L402 246.6 L402.5 250.9 L403 259.6 L403.5 248.5 L404 253.8 L404.5 264.5 L405 250.4 L405.5 250.5 L406 255.1 L406.5 261.3 L407 249 L407.5 242.7 L408 270.2 L408.5 257 L409 255.8 L409.5 253 L410 252.4 L410.5 250.8 L411 247.4 L411.5 260.1 L412 259.3 L412.5 260.4 L413 258.6 L413.5 259.7 L414 251 L414.5 264.6 L415 254.5 L415.5 253.5 L416 255.3 L416.5 257.6 L417 260.9 L417.5 251.6 L418 242 L418.5 259.7" fill="none" stroke="#111" stroke-width="1.0" stroke-linejoin="miter" stroke-linecap="butt" />
<text x="304.5" y="198.8" font-family='"DejaVu Sans", "Liberation Sans", sans-serif' font-size="26" text-anchor="start" fill="#000" >σ<tspan font-size="18.2" dy="4.2">12</tspan></text>
<text x="289.5" y="226.6" font-family='"DejaVu Sans", "Liberation Sans", sans-serif' font-size="26" text-anchor="start" fill="#000" >η<tspan font-size="18.2" dy="4.2">12</tspan></text>
<text x="278.8" y="261.4" font-family='"DejaVu Sans", "Liberation Sans", sans-serif' font-size="26" text-anchor="start" fill="#000" >C<tspan font-size="18.2" dy="4.2">12</tspan></text>
<text x="503.2" y="310.1" font-family='"DejaVu Sans", "Liberation Sans", sans-serif' font-size="26" text-anchor="start" fill="#000" >C<tspan font-size="18.2" dy="4.2">21</tspan></text>
<clipPath id="clipC"><rect x="142.3" y="570.3" width="287.9" height="315.5"/></clipPath>
<g clip-path="url(#clipC)">
<path d="M434 620.3 C433.3 620.4 435.2 620.2 429.9 620.8 C424.5 621.4 411.5 622.7 401.9 624 C392.3 625.3 383 626.5 372.3 628.4 C361.6 630.3 349 632.7 337.9 635.2 C326.8 637.7 315.2 640.5 305.9 643.2 C296.6 645.9 289.9 648.1 281.9 651.2 C273.9 654.3 264.6 658.4 257.9 661.6 C251.2 664.8 247.2 667 241.9 670.3 C236.6 673.6 230.2 678 226 681.5 C221.8 685 219.1 687.9 216.4 691.1 C213.7 694.3 211.6 697.6 210 700.7 C208.4 703.9 208.1 706.6 206.8 710 C205.5 713.4 203.2 716.6 202 720.8 C200.8 725 200.1 730.1 199.6 735.2 C199.1 740.3 198.9 745.1 198.8 751.2 C198.7 757.3 198.8 765.6 198.8 772 C198.9 778.4 199.1 784.3 199.1 789.6 C199.1 794.9 199 800.3 198.8 804 C198.6 807.7 198.4 809.5 198 812 C197.6 814.5 197.1 815.6 196.4 819.1 C195.7 822.6 195.2 828.8 194 832.7 C192.8 836.6 191.3 839.5 189.2 842.3 C187.1 845.1 184.7 847.3 181.2 849.5 C177.7 851.7 173.3 853.4 168.1 855.4 C162.9 857.4 153.2 860.6 150.2 861.6" fill="none" stroke="#228B22" stroke-width="6.6" stroke-linejoin="round" stroke-linecap="butt" />
<path d="M379.6 566 C379.5 566.9 379.6 566.9 379.2 571.2 C378.8 575.5 378 584.5 377.1 592 C376.2 599.5 375.1 607.5 373.9 616 C372.7 624.5 371.4 633.9 369.9 643.2 C368.4 652.5 366.7 662.9 365.1 672 C363.5 681.1 361.9 689.3 360.3 698 C358.7 706.7 357.4 716.2 355.5 724 C353.6 731.8 351.5 738.4 349.1 744.8 C346.7 751.2 344.3 756.5 341.1 762.4 C337.9 768.3 333.6 774.9 329.9 780 C326.2 785.1 322.7 789.1 318.7 792.8 C314.7 796.5 310.7 799.6 305.9 802.4 C301.1 805.2 295.8 807.8 289.9 809.5 C284 811.2 278.7 812 270.7 812.7 C262.7 813.4 250.4 813.6 241.9 813.9 C233.4 814.2 225.4 813.9 219.6 814.3 C213.8 814.6 210.7 815.2 206.8 816 C202.9 816.8 200.4 816.9 196.4 819.1 C192.4 821.4 186.1 826.4 182.8 829.5 C179.5 832.6 178.5 834.6 176.4 837.5 C174.3 840.4 171.7 843.2 170 847.1 C168.3 851 167.6 856.1 166.5 861 C165.4 865.9 163.8 873.9 163.2 876.5" fill="none" stroke="#1E90FF" stroke-width="6.6" stroke-linejoin="round" stroke-linecap="butt" />
<path d="M177.1 859.7 L176.6 859.7 L176.5 859.2 L175.7 859.9 L176.5 858.4 L176.5 858.7 L176.7 858.2 L176.5 858.4 L177.1 857.8 L177.2 856.7 L177.1 856.2 L178.4 854.9 L178.7 855.3 L179.4 856.3 L179 855.7 L179.1 856.4 L179.3 856.1 L179.2 857.1 L180.6 857.3 L180 858.1 L180.3 858.1 L181 858.1 L181.8 859.2 L181.2 859.9 L180.7 859.5 L180.8 858.4 L181.4 859.1 L181 859.4 L180.8 859.8 L181 858.9 L181.4 859 L182 859 L180.6 858.9 L180.8 858.5 L180.8 858.3 L180 857.6 L180.7 857 L180.7 858.3 L181.6 857.9 L181 857 L180.4 856.6 L181.4 857.2 L180.9 856.5 L180.3 856.1 L180.8 856 L180.8 855.9 L180.7 855.6 L181.1 855.1 L180.1 855 L181 855 L181.6 855 L181.5 855.4 L181.6 855.2 L181.6 854.5 L181.8 854.7 L180.6 854.2 L181.5 854.4 L180.3 854.4 L180.7 854.1 L179.9 854.9 L181.1 854.4 L181 854.7 L180.2 854.2 L180.9 855.1 L179.7 854.8 L179.9 855.3 L179.7 855 L179 855 L180.2 855.6 L181.4 855.6 L180.7 855.7 L182 855.5 L182.1 856.2 L183.5 856.1 L183.5 856.5 L183.3 856.8 L183 856.4 L182.5 856.4 L181.5 857.1 L182.4 856.1 L180.9 857.3 L181.3 856.7 L181.2 856.6 L180.3 857.2 L180.4 856.1 L180.6 856.4 L179.8 855.4 L179.1 854.7 L178.4 853.8 L179.5 853.9 L179.9 854.7 L180.2 853.8 L180.2 852.7 L181 853.1 L180.8 852.1 L181.2 853.1 L181.8 852.9 L181.4 853 L181.8 852.4 L183.1 851.4 L183 852.2 L182.4 851.2 L183.4 851.1 L184.1 850.8 L184.8 851.1 L184.7 850.7 L184.8 849.5 L185.1 851 L186.6 849.8 L187.3 849.2 L187.9 849.5 L188.9 848.7 L189.7 850.9 L191.1 849.5 L191.3 849.8 L192.7 849.3 L193.8 849 L194.6 848.7 L194.9 849.2 L196.8 848.3 L196.8 849.3 L198.2 848 L198.6 848.5 L199.1 849.1 L200.9 849 L201.8 848.9 L203 848.4 L204.6 847.8 L205.5 847 L206.8 847 L208.4 847.9 L210.7 848.1 L211.5 847 L212.2 847.3 L214 846.5 L214.8 846.6 L216.1 844.8 L218 846.7 L218.6 845.5 L219.4 844.6 L222.1 845.3 L224.8 845.1 L227.1 843.5 L229.9 845 L231.4 844.4 L234.3 843.8 L236.5 842.6 L238.5 842 L242 842.1 L244.8 840.6 L247.2 841.3 L251 840.9 L253 840.1 L256.5 838.4 L259.5 838 L262.7 837.3 L264.6 835.3 L267.3 834.6 L269.7 833.7 L272.7 833.9 L274.3 832.2 L277.1 830.2 L279.4 828.6 L281.4 827.1 L285.7 825.4 L287 823.4 L288.9 822.6 L292.6 820.4 L294.1 818.9 L297.2 817.1 L299.9 815.2 L301.8 812.9 L303.4 811.3 L304.9 810 L306.6 807.6 L307.5 805.9 L309.2 803.2 L311.2 801 L311.7 797.9 L311.6 795.6 L312 793.8 L311.6 791.3 L312.8 788.8 L314.7 785.4 L315.6 782.3 L317.8 778.5 L319.5 774.8 L322.8 770.5 L325.7 766.4 L327.9 763.9 L330.6 759.2 L330.8 756.3 L332.1 752.1 L332.9 749 L333.6 745.6 L333.7 740.8 L334.2 736.6 L333.1 734.1 L331.8 730.5 L330.9 727.4 L328.7 724.3 L325.6 722.2 L322.2 719.1 L319.1 715.5 L316 713.1 L313.9 712 L311.5 709.6 L308.6 708.1 L306.5 706 L303.8 704.5 L301.4 703.3 L300.2 702.4 L295.4 701 L292.8 699.4 L288 698.8 L284.5 697.4 L281.2 697 L277 695.2 L273.4 696.7 L269.4 695.5 L266.9 694.5 L264.7 694.8 L262.1 693.3 L260.7 693 L257.6 693.2 L256 692.3 L251.7 692.7 L250.5 692 L248.3 691.9 L245.4 692.7 L243.5 691.7 L240.8 692.7 L237.9 692.1 L235.7 692.9 L234.2 692.9 L230.6 693.7 L228.9 694.2 L226.9 695.1 L225.5 695.6 L223.2 695.8 L222 697.6 L221.5 698.2 L219.2 698.8 L217.3 699.3 L215.8 700.6 L214.5 701.6 L212.8 702.4 L212.3 702.8 L210.7 703.5 L209.1 704.6 L208.6 705.2 L205.7 705.4 L205.3 706.5 L204.5 707.5 L203.3 707.6 L202.8 708.3 L201.9 709.1 L201.1 709.8 L201.8 710.9 L201.5 711.3 L201.9 711.9 L203.1 712.6 L204.5 714.2 L208.1 714 L210.9 714.4 L214.6 715 L216.3 716.1 L220 715.8 L222.4 716.5 L224.5 716.2 L228.2 716.8 L228.7 715.3 L231.2 714.3 L232 714.1 L233.5 715.4 L234.6 714.4 L236.3 714 L236.4 714.6 L238.6 715.2 L243.1 713.5 L248.3 713.3 L252.9 712.3 L258 710.3 L262.1 709.9 L264.3 708.7 L265.5 707.3 L265.3 707.1 L266.4 706.5 L265.9 704.9 L264.6 704.5 L263.1 703.4 L260 702.8 L258.5 702.6 L256.6 701.5 L255.8 700.9 L254.8 700.1 L254.9 699.2 L253.5 698.3 L253.9 698.2 L252.3 698.7 L250.2 697.6 L248.9 698.5 L247.8 696.5 L247.4 697.8 L247.7 697.3 L248.8 696.4 L250.8 697 L251.6 697.3 L250.6 697.4 L251 696.6 L249.9 696.5 L248.7 696.3 L245.7 696.6 L243.6 697 L241.2 696.5 L237.8 696 L236.6 697.1 L234.6 695 L234.2 697.4 L232.5 697 L233 697.2 L231.2 698.1 L230.3 698.9 L229.2 699.2 L227.2 699.3 L224.9 701.7 L223.9 700.7 L222.6 701.6 L220.4 701.8 L218.8 701.4 L217 701.5 L214.1 701.4 L213.5 702 L212.9 701.2 L210.4 702.8 L208.4 702.4 L207.9 702.5 L206.4 703 L205.4 704.4 L203.5 705 L203.5 706.7 L202 706.8 L202.9 708.2 L202.8 709.9 L202.2 711.6 L200.5 712.4 L200.9 713.2 L199 712.4 L201.1 713.2 L202.5 714.8 L203.6 713.8 L205.8 715.5 L207.2 717 L209.5 716 L211 716.4 L213 717.6 L212.1 718.7 L211.3 718.2 L210.4 719.4 L209.6 719.5 L208.3 719.6 L207.8 720.1 L206.6 720.8 L206.7 721.4 L206.7 720.9 L206.3 722.7 L206.5 721.8 L205.8 722.2 L206.7 722.3 L205.9 723.1 L206.5 723.1 L206 723.1 L206.7 724.3 L211.1 724 L217.7 724.1 L223 725.2 L228.9 724.6 L233.4 723 L236.3 722.8 L240.2 723.2 L241.8 722.1 L242.1 721.8 L241 720.9 L241.6 720.6 L240.7 722.2 L240.6 721 L240.7 720 L240.8 719.8 L240.1 720.7 L239.9 720.9 L239.9 720 L239.6 720.3 L241 719.5 L244.4 719.5 L247.1 718.1 L250 717.7 L256 717.2 L262.9 717.5 L270.2 717.2 L277.2 716.5 L283.1 713.9 L288.8 713.1 L294.5 710.1 L299 707.8 L304.9 707.1 L311.2 705.1 L317.8 702.7 L323.2 700.9 L328.9 699.4 L332.5 696.8 L336.3 694.4 L339.9 692.2 L344.2 689.5 L346.5 687.3 L348.5 684.5 L350.9 683.6 L352.3 679.9 L353.4 677.8 L353.9 676.6 L354.8 674.7 L356.1 672.8 L356.3 671.5 L356.6 670.1 L358.5 668.3 L359.4 667.1 L360.3 665.8 L361.7 663.9 L363.6 662.3 L365.1 660.8 L365.3 659.5 L366 658.8 L366 657.2 L365 657 L365.5 656.3 L366.7 655.3 L368 654.4 L368.5 653.1 L370.3 651.3 L372.1 652.1 L373.4 650.5 L374.9 650.1 L375.1 649 L376.9 649 L377.2 647.8 L377.1 647.8 L378.9 646.6 L379.2 647.2 L380.4 645.4 L380.9 644.9 L382.3 645.6 L382.7 644 L383.3 644.6 L384.7 643.2 L385.2 643.3 L386 642.6 L387.8 642.3 L388.1 642.7 L389.1 641 L390.2 640.8 L390.9 641.4 L392.4 640.5 L393.7 640.3 L392.7 640.6 L393.3 640.6 L393.1 639.2 L393.5 639.8 L394.7 639 L394.7 638.3 L394.6 638.8 L395.5 639.2 L395.7 638.1 L396.4 639 L396.9 638.5 L397.5 636.5 L398.7 638.1 L399.4 637.3 L400 637.8 L400.3 637.1 L400.3 636.7 L401.5 637.9 L401.7 636.7 L403.1 635.9 L403.6 635.6 L404.3 635.6 L404.4 636 L404.3 635.2 L405.3 635.4 L405.3 635.3 L403.9 634.8 L404.4 633.5 L404.6 635.3 L403.4 634.8 L404.5 635.5 L403.3 636.7 L403.5 636.7 L405.1 636.7 L405.1 637.2 L405.1 637.2 L406.3 638.2 L405.5 638.5 L407.7 637.5 L407 638 L408 638.4 L407.4 637.9 L407.5 637 L407.5 638.2 L406.5 638.6 L406.9 637.4 L406.2 636.8 L405.8 637.2 L405.8 638.4 L405.2 638.7 L405 637.1 L405.5 637.7 L405.3 637.4 L406.1 637.7 L406.1 636.8 L405.7 637.5 L405.5 637.7 L406.3 637.4 L407 638 L407.1 637.3 L407 637.4 L408 638.4 L407.1 637.8 L407.2 637.9 L407.6 638 L408.4 637 L407.5 636.6 L406.8 637 L407.4 637.8 L407.3 637.9 L407.3 636.6 L406.6 637.1 L405.8 637 L405.6 637.5 L405.1 637.9 L405.1 635.8 L404.7 637.1 L402.8 636.9 L402.3 637.3 L401.9 636 L401.3 636.8 L401 636.7 L400.9 636.6 L400.6 636.6 L401 635.8 L400.2 637.4 L399.6 636.2 L399.3 636.7 L399.4 636.6 L399.2 636.6 L398.7 636.3 L399.7 637.3 L399.4 637 L399 636.7 L397.9 637.3 L396.8 637.4 L396.3 637.2 L396.7 637.5 L394.1 637.8 L394.3 637.8 L393.4 638.4 L392 637.7 L390.6 638.8 L389.9 639.2 L387.9 638.3 L387.5 639.3 L387.1 639.2 L385.2 638.8 L384.6 638.4 L384.2 639 L383.9 639.1 L385.1 639.1 L385.8 638.7 L384.6 639.2 L381.3 638.9 L378.8 638.4 L377.7 639.1 L377.2 639.3 L377.9 639.6 L378.1 639.5 L380.5 639.8 L381.6 639.7 L384.3 639.5 L385.6 639.1 L386.4 638.9 L387.1 639.2 L388.3 638.7 L389.5 639.3 L388.7 637.6 L389.2 637.2 L390 638.3 L389.4 637.9 L390.8 637.9 L389 637.4 L389.4 638 L388.4 638.3 L387.1 637 L385.6 637.8 L385.8 636.9 L383.4 637.4 L381.5 637.6 L379.9 637.1 L377.1 637 L376.2 638.2 L374.6 638.6 L371.5 638.5 L368.6 639.2 L365.3 640.1 L363.2 639.6 L360.2 640.9 L358.4 640.1 L356.4 641 L355.3 641.2 L353.7 642.4 L353 642.5 L353.8 642.4 L354.6 642.5 L355.3 643.2 L355.2 643.9 L355.6 645 L356.1 644.4 L356.9 644.8 L356 645.2 L355.1 644.6 L353.4 645.7 L352.6 644.7 L351 646 L354.1 646.2 L355.6 646.1 L358.1 646.9 L359.8 646.2 L360 645.6 L359.8 646.2 L360.9 645.5 L360.3 645.5 L358.1 644.7 L355.7 643.7 L353.9 644.1 L352.5 644.1 L351 644.1 L347.6 644.8 L347 644.3 L348 644.8 L348.5 645 L348.7 645.6 L350.2 645.3 L351.2 644.6 L353.8 644.3 L358.3 644.8 L362.2 644.4 L365.9 644.4 L368.9 644.6 L373.7 644.7 L376.6 642.8 L378.1 643.9 L381 643.1 L382.1 642.2 L385.1 642.9 L386.2 642.8 L389.2 642.5 L389 642.8 L390.1 642.4 L390.3 642.7 L390.6 641.9 L390.8 642.2 L391.6 642.9 L390.7 642.9 L392.1 642.6 L392.4 642.5 L392.9 642.5 L393.6 641.4 L395.4 641.8 L394.3 641.4 L395.2 640.7 L395.4 641.4 L396.6 639.9 L395.6 639.5 L397.7 638.8 L396.6 639.6 L395.8 639 L396.2 638.3 L396.5 638.3 L396.6 638.9 L396.4 637.9 L396.7 638.7 L396.2 638.5 L396.1 639.3 L395.1 638.5 L396.2 639.3 L396.3 639.6 L396.2 639 L396 639 L396.7 640.1 L398.5 639.3 L398 639.2 L398.4 640 L398.8 641 L399.9 640.2 L399.8 640.2 L400.2 641.4 L400.4 640.2 L401.4 641.3 L402.4 641.4 L402.3 641 L402.4 641.2 L401.7 640.4 L401.3 640.7 L400.9 640.2 L400.5 640.1 L400.5 639.7 L399.9 639.2 L398.3 639 L397.4 639.1 L396.2 638.2 L395.3 638.4 L394 637.5 L393 637.5 L391 637.5 L390.6 638.1 L390.6 638.1 L389 637.7 L389.8 638.6 L388.7 638.5 L388.1 639.3 L386.9 639.7 L387.7 640.1 L387.1 641 L387.6 640.2 L388.4 640.2 L388 640.1 L388.3 639.5 L388.5 640.1 L389.3 638.7 L389.9 640 L390.1 639 L389.5 639.5 L388.5 638.9 L388.1 638 L387.1 639.1 L387.6 638.1 L386.2 638 L385 637.8 L385.1 637.6 L385.9 637.1 L384.3 637.4 L384.4 637.7 L384.5 637.6 L383.5 637.9 L384.2 638.5 L384.2 639.2 L383.2 638.4 L384.1 639.1 L383.4 638.3 L383.4 639.6 L384.1 640.1 L384.2 639.1 L383.9 640.2 L384.7 640.8 L383.8 639.7 L384.1 641.1 L384.3 639.8 L385.3 640.9 L385.6 640.2 L385.7 640.3 L385.1 641.3 L386 640.4 L386.3 640.6 L385 640.3 L384.9 640.2 L385.1 639.6 L384.6 640.5 L384 640.5 L383.7 639.6 L381.9 640.5 L380.2 640.7 L378.5 642 L376.5 642.2 L375.2 642 L372.6 642.1 L371.4 642 L368 641.1 L365.4 643.3 L364.1 643.1 L363.8 642.8 L363.4 643.2 L363.4 643 L362.8 643.9 L362.8 644.5 L361.8 643.2 L361.9 644.3 L358.6 645.4 L354.3 645.3 L351.4 645.6 L348.7 646.6 L346.9 645.8 L345.2 646.5 L343 647.1 L339.8 647.6 L334.3 646.8 L329.6 648 L325.9 648.8 L320.2 649.8 L317.2 649.8 L312.7 649.4 L308.5 649.4 L303.9 651.1 L299.2 652 L294.6 651.4 L291.9 652.5 L287.6 653.1 L284.1 654.9 L281.6 655.6 L277.2 657.6 L273.9 658.3 L270.5 659 L267.1 660 L263.3 660.6 L260.1 661.3 L258.3 663.6 L255.4 663 L251.2 665.2 L249 666 L247.4 666.2 L244.6 668.9 L241.9 669.4 L239.9 670.1 L236.1 670.6 L234.8 671.1 L232.2 672 L230.2 674 L227.9 674.4 L226 676.2 L223.3 676.6 L221 678.7 L219.4 679.3 L217 681.5 L214.9 681.9 L214.7 684.2 L213.2 684.7 L211.9 686.8 L209.9 687.3 L208.6 688.9 L206.9 690.2 L205.2 690.9 L204.2 691.9 L202.9 693.4 L201.5 694.6 L201.7 695.6 L199.2 696.7 L198.5 698 L197.6 699.4 L197.5 699.7 L195.9 702 L194.8 702.4 L193.6 704.4 L192.7 703.8 L191.7 706.1 L192 707 L191.1 707.5 L190.6 709.3 L189.1 710.7 L189.8 712.3 L187.5 712.6 L186.4 712.6 L186.4 714.5 L185.9 714.9 L185.4 716.4 L183.9 718.1 L184.2 719.6 L184.2 720.1 L182.7 720.6 L182.3 721.9 L181.4 722.6 L181.9 723.3 L181.7 724.7 L181.2 726.1 L180.8 726.5 L180.6 726.9 L179.6 728.5 L179.5 729.5 L178.2 730.4 L177.8 731 L177.8 731.8 L176.9 732.7 L177 734.2 L178.5 734.4 L179.1 735.7 L179.7 736.7 L180.8 737.7 L183.7 738 L184.7 738.3 L187.1 738.5 L186.4 739 L186 739.7 L185.9 740.2 L184.7 741.5 L183.7 741.1 L184.5 741.7 L183.4 742.3 L182.9 743.5 L181.9 744.3 L181.5 745.6 L181.1 747 L180.4 747.6 L179 749.2 L178.3 750.4 L177.9 750.3 L177.2 751.3 L176.6 752.2 L175.4 753.9 L174.1 754.7 L174.8 755.5 L174.4 756.9 L173.8 758.7 L173.7 757.7 L172.8 759.2 L171.7 760.2 L171.8 761.8 L170.8 763.2 L170.8 763.8 L170 764.7 L169.7 766.5 L169.2 767.1 L168.8 767.6 L167.7 768.2 L168 769.6 L166.6 771.1 L167.4 772.6 L167.3 772 L167.4 773.9 L166.1 774.8 L165.2 776.4 L164.3 778.3 L165.4 777.8 L163.4 779.7 L163.9 780.7 L162 782.8 L162.5 783.7 L162.4 784.2 L161.7 786.3 L161.6 787.7 L161.3 789.1 L161.3 790.2 L162.2 790.2 L162 791.7 L161.8 793.5 L162.1 793 L161.6 794.1 L162.5 795.2 L162.7 797.7 L162.2 797.8 L162.9 798.3 L163.7 800.4 L163.4 801.3 L164.9 802.1 L165.1 804 L164.7 803.8 L165.6 804.2 L166.3 805.2 L165.4 805.6 L166.2 807.1 L165.8 808 L165.7 808.9 L166.1 810 L165.5 811 L165.1 811.7 L165 812.2 L165.6 813.3 L165.8 813.8 L165.5 814.6 L165.4 815.1 L165.4 816.3 L166 817.8 L165.6 817.9 L165.8 817.3 L166.7 818.5 L168.1 819.8 L168.1 820.4 L168.9 821 L169.8 821.9 L170.1 822.3 L171.7 822.8 L171.1 823.2 L173.4 824.7 L173.3 825.1 L174.4 825.5 L176.5 825.8 L177.1 825.7 L179.5 827 L181.1 826 L181.9 827.2 L183.5 827.3 L185.5 828.7 L186.2 828.9 L188 829.3 L189.6 829.5 L191.6 830.9 L192.7 830.1 L195 831.3 L197.6 830.4 L198.1 830.3 L201.1 830.9 L202.5 831.1 L205.4 831.3 L210 831.4 L212.1 831.4 L215.6 831.2 L217.7 831.5 L220.9 831.2 L226.3 832 L232 831.7 L238 831.1 L243.8 830.9 L250.2 829.9 L255.2 829.4 L261.2 827.7 L266.7 827.7 L274.6 826.5 L281.6 826.2 L290.3 823.1 L297.3 820.7 L305.2 818.9 L312.8 817.2 L319.5 814.9 L325.5 812.8 L331.5 808.3 L337.7 803.8 L344 799 L348.3 794.8 L352.3 790.3 L356.7 786 L361 781.3 L364.6 776.5 L367.9 770.6 L373.3 765.7 L376.4 759.9 L378.1 755.3 L381 749.7 L383.1 744.5 L387.3 739.6 L389.3 733.2 L393.5 728.1 L393.7 722.9 L397 716.9 L399.5 712.3 L401.1 706.7 L403.1 700.8 L403.9 696 L403.9 693 L404.3 688.1 L404.7 684.6 L404.8 681 L405.3 676.2 L406 671.7 L405.4 669.5 L405.5 666.6 L405 664.7 L405.6 662.5 L404.6 658.6 L405.4 656.7 L403.6 654.9 L404.4 654 L404 652.5 L405 651 L405.3 651.1 L405.2 649.2 L406.2 648 L407.6 646.1 L407.6 645.6 L408.5 644.9 L408.2 644.2 L407.9 642.6 L408.6 643.3 L409 642.4 L407.5 641.7 L407.7 641.9 L406.7 641.2 L407.3 641.2 L406.3 640.2 L406 638.9 L405.1 639 L405.5 639.9 L405.5 638.2 L405.7 639.4 L404.3 639.1 L405 637.7 L404.1 638.1 L403.9 638.3 L403.3 637.4 L402.7 638 L403 637.7 L404.4 638 L403.2 637.7 L403.6 637.5 L404.4 637 L403.1 637.8 L404.3 637.6 L404 638.5 L404.4 638.3 L404.8 637.2 L404.4 637.7 L404.5 637.7 L404.5 637.2 L404.2 637.7 L403.3 637.5 L403.2 637.6 L402.3 638.5 L403.2 637.2 L401.7 636.8 L402 636.9 L402.4 637.5 L401.7 637.4 L400.9 637.3 L400.4 636.8 L400.2 636.9 L400.6 637.7 L400.1 637.6 L399.7 637.6 L400.6 637.8 L398.8 637.8 L398.2 637.6 L397.5 638.7 L397 637.3 L396.2 637.7 L395.2 638.1 L394.9 637.6 L394.1 638 L392.9 637.2 L391.2 638.5 L391.9 638.1 L389.1 638.1 L387.3 638.8 L385.5 639.1 L383 638.5 L381.2 639 L379.6 639.4 L378.5 639.8 L377.9 639 L376.5 638.7 L376.4 639.8 L376.3 639.5 L377 639.3 L377.5 639.4 L376.4 640.2 L375.1 639.7 L374.7 639.7 L374 638.9 L373.6 640 L372.2 639.7 L371.2 639.9 L370 640 L370.5 640.8" fill="none" stroke="#808080" stroke-width="3.3" stroke-linejoin="round" stroke-linecap="butt" />
</g>
<circle cx="372.3" cy="628.4" r="11.4" fill="#000"/>
<circle cx="168.1" cy="855.4" r="11.4" fill="#000"/>
<circle cx="196.6" cy="819.2" r="8.7" fill="#fff" stroke="#000" stroke-width="3.2"/>
<line x1="142.3" y1="568.7" x2="142.3" y2="887.4" stroke="#000" stroke-width="3.2" stroke-linecap="butt" />
<line x1="140.7" y1="885.8" x2="430.2" y2="885.8" stroke="#000" stroke-width="3.2" stroke-linecap="butt" />
<line x1="154.8" y1="885.8" x2="154.8" y2="896.8" stroke="#000" stroke-width="3.2" stroke-linecap="butt" />
<text x="154.8" y="928" font-family='"DejaVu Sans", "Liberation Sans", sans-serif' font-size="20.8" text-anchor="middle" fill="#000" >0</text>
<line x1="130.2" y1="870.7" x2="142.3" y2="870.7" stroke="#000" stroke-width="3.2" stroke-linecap="butt" />
<text x="118.6" y="879.4" font-family='"DejaVu Sans", "Liberation Sans", sans-serif' font-size="20.8" text-anchor="end" fill="#000" >0</text>
<line x1="237.3" y1="885.8" x2="237.3" y2="896.8" stroke="#000" stroke-width="3.2" stroke-linecap="butt" />
<text x="237.3" y="928" font-family='"DejaVu Sans", "Liberation Sans", sans-serif' font-size="20.8" text-anchor="middle" fill="#000" >0.3</text>
<line x1="130.2" y1="780.7" x2="142.3" y2="780.7" stroke="#000" stroke-width="3.2" stroke-linecap="butt" />
<text x="118.6" y="789.4" font-family='"DejaVu Sans", "Liberation Sans", sans-serif' font-size="20.8" text-anchor="end" fill="#000" >0.3</text>
<line x1="319.8" y1="885.8" x2="319.8" y2="896.8" stroke="#000" stroke-width="3.2" stroke-linecap="butt" />
<text x="319.8" y="928" font-family='"DejaVu Sans", "Liberation Sans", sans-serif' font-size="20.8" text-anchor="middle" fill="#000" >0.6</text>
<line x1="130.2" y1="690.7" x2="142.3" y2="690.7" stroke="#000" stroke-width="3.2" stroke-linecap="butt" />
<text x="118.6" y="699.4" font-family='"DejaVu Sans", "Liberation Sans", sans-serif' font-size="20.8" text-anchor="end" fill="#000" >0.6</text>
<line x1="402.3" y1="885.8" x2="402.3" y2="896.8" stroke="#000" stroke-width="3.2" stroke-linecap="butt" />
<text x="402.3" y="928" font-family='"DejaVu Sans", "Liberation Sans", sans-serif' font-size="20.8" text-anchor="middle" fill="#000" >0.9</text>
<line x1="130.2" y1="600.7" x2="142.3" y2="600.7" stroke="#000" stroke-width="3.2" stroke-linecap="butt" />
<text x="118.6" y="609.4" font-family='"DejaVu Sans", "Liberation Sans", sans-serif' font-size="20.8" text-anchor="end" fill="#000" >0.9</text>
<text x="266.3" y="965.2" font-family='"DejaVu Sans", "Liberation Sans", sans-serif' font-size="27" text-anchor="start" fill="#000" >S<tspan font-size="18.9" dy="4.4">1</tspan></text>
<text x="27" y="748.3" font-family='"DejaVu Sans", "Liberation Sans", sans-serif' font-size="27" text-anchor="start" fill="#000" >S<tspan font-size="18.9" dy="4.4">2</tspan></text>
<text x="159.8" y="613.6" font-family='"DejaVu Sans", "Liberation Sans", sans-serif' font-size="27" text-anchor="start" fill="#228B22" >dS<tspan font-size="18.9" dy="4.4">2</tspan></text>
<line x1="160" y1="625.9" x2="206.4" y2="625.9" stroke="#228B22" stroke-width="2.1" stroke-linecap="butt" />
<text x="169.3" y="649" font-family='"DejaVu Sans", "Liberation Sans", sans-serif' font-size="27" text-anchor="start" fill="#228B22" >dt</text>
<text x="217.2" y="633.4" font-family='"DejaVu Sans", "Liberation Sans", sans-serif' font-size="27" text-anchor="start" fill="#228B22" >=</text>
<text x="246.3" y="633.4" font-family='"DejaVu Sans", "Liberation Sans", sans-serif' font-size="27" text-anchor="start" fill="#228B22" >0</text>
<text x="330.1" y="836.5" font-family='"DejaVu Sans", "Liberation Sans", sans-serif' font-size="27" text-anchor="start" fill="#1E90FF" >dS<tspan font-size="18.9" dy="4.4">1</tspan></text>
<line x1="330.3" y1="849.5" x2="376.7" y2="849.5" stroke="#1E90FF" stroke-width="2.1" stroke-linecap="butt" />
<text x="339.6" y="872.6" font-family='"DejaVu Sans", "Liberation Sans", sans-serif' font-size="27" text-anchor="start" fill="#1E90FF" >dt</text>
<text x="387.5" y="857" font-family='"DejaVu Sans", "Liberation Sans", sans-serif' font-size="27" text-anchor="start" fill="#1E90FF" >=</text>
<text x="416.6" y="857" font-family='"DejaVu Sans", "Liberation Sans", sans-serif' font-size="27" text-anchor="start" fill="#1E90FF" >0</text>
<clipPath id="clipD"><rect x="605" y="570" width="288.3" height="316"/></clipPath>
<g clip-path="url(#clipD)">
<path d="M737.8 859.2 L747.3 859.2 L754.3 859.2 L746.3 859.1 L739.3 859.1 L746.6 859.1 L752.6 859.1 L758.8 859 L745.1 859 L741.6 859 L754.9 858.9 L757.1 858.9 L765.3 858.9 L764.1 858.9 L756.9 858.8 L754.4 858.8 L774.1 858.7 L760.5 858.5 L754.7 858.4 L751.7 858.3 L760.3 858.1 L763.7 858 L762.1 857.8 L764.5 857.7 L768.3 857.5 L773 857.4 L777.9 857.3 L774 857.1 L760.3 857 L774.7 856.8 L764.8 856.7 L771.7 856.5 L765.5 856.4 L774.9 856.2 L773.1 856.1 L780.5 856 L804.5 855.8 L788.9 855.7 L792.2 855.5 L779.4 855.4 L784.4 855.4 L793.2 855.6 L791.4 855.7 L795.3 855.8 L795.5 856 L789.2 856.1 L799.4 856.3 L793.8 856.4 L811.7 856.6 L801.2 856.7 L807.8 856.9 L806 857 L813.1 857.1 L804.6 857.3 L811.5 857.4 L804.3 857.6 L810.7 857.7 L806.7 857.9 L801.1 858 L792.2 858.1 L799.2 858.3 L797.7 858.4 L804 858.6 L790.6 858.7 L793.3 858.8 L794.7 858.8 L794.2 858.9 L794.3 858.9 L794.8 858.9 L790.3 858.9 L787 859 L791.1 859 L799.5 859 L808.6 859 L807.9 859.1 L808.9 859.1 L807.6 859.1 L806.2 859.1 L802.1 859.2 L804.7 859.2 L811.9 859.2 L799.1 859.2 L793.1 859.2 L809.4 859.3 L801.5 859.3 L804.1 859.3 L803.8 859.3 L789.8 859.4 L810.2 859.4 L810.6 859.3 L799.5 859.2 L800.3 859.1 L796 859.1 L787.7 859 L790.6 858.9 L793.9 858.8 L799.1 858.7 L797 858.6 L791.5 858.6 L798.3 858.5 L785 858.4 L791.6 858.3 L794.8 858.2 L785.4 858.1 L772.3 858.1 L774.4 858 L782.1 857.9 L785.3 857.8 L792.1 857.7 L775.3 857.7 L776.9 857.6 L780.7 857.5 L775.1 857.4 L757.6 857.3 L773.7 857.2 L787 857.2 L780.3 857.1 L764.6 857 L763 856.9 L765.9 856.8 L781 856.8 L771 856.7 L764 856.6 L771 856.5 L763.4 856.4 L776 856.3 L762.9 856.3 L762.3 856.2 L771.4 856.1 L779.7 856 L777.6 855.9 L775.9 855.9 L761.6 855.8 L765.6 855.8 L767.6 855.8 L768.8 855.7 L776.9 855.7 L772.9 855.7 L779.8 855.6 L777 855.6 L773.6 855.6 L776.1 855.5 L779.1 855.5 L783 855.5 L775.1 855.4 L775 855.4 L767.5 855.3 L786 855.3 L789.9 855.3 L779.6 855.2 L774.6 855.2 L767.9 855.2 L775.5 855.1 L777.3 855.1 L790.9 855.1 L780.9 855 L771.1 855 L757 855 L779.4 854.9 L776.4 854.9 L763.1 854.8 L771.6 854.8 L761.3 854.8 L793 854.7 L784.6 854.7 L778.5 854.7 L771.5 854.6 L755.5 854.6 L763.2 854.6 L753.8 854.5 L764.3 854.5 L746.7 854.4 L749 854.4 L762.3 854.4 L766.9 854.3 L747.1 854.3 L738.1 854.3 L750.6 854.2 L751.8 854.2 L738.9 854.2 L740.3 854.2 L742.3 854.3 L741.2 854.3 L746.1 854.4 L762.1 854.4 L764 854.5 L775.5 854.5 L765.5 854.6 L764.4 854.6 L760.1 854.7 L766.5 854.7 L761.8 854.8 L759.1 854.8 L777 854.8 L788.2 854.9 L787.3 854.9 L791.1 855 L785.5 855 L778.2 855.1 L782.6 855.1 L781.3 855.2 L776.7 855.2 L772.3 855.3 L773.4 855.3 L784.4 855.4 L788.9 855.4 L786.6 855.5 L799.6 855.5 L795.1 855.6 L797.5 855.6 L803.9 855.7 L793 855.7 L783.8 855.8 L801.4 855.8 L797.4 855.9 L811.3 855.9 L809.6 855.9 L815 856 L816.1 856 L798.4 856.1 L814.4 856.1 L807.8 856.1 L805.2 856.2 L806.3 856.2 L814.2 856.2 L816.6 856.3 L817.6 856.3 L799.2 856.4 L801.4 856.4 L789.4 856.4 L801.4 856.5 L808.7 856.5 L800.8 856.6 L805.2 856.6 L805.8 856.6 L810.1 856.7 L796.9 856.7 L791.9 856.7 L789.6 856.8 L804.5 856.8 L802.1 856.9 L791.6 856.9 L789.8 856.9 L787 857 L785.3 857 L780.5 857.1 L776.8 857 L768 856.9 L768.4 856.8 L782.5 856.7 L776.9 856.5 L770.6 856.4 L765.6 856.3 L764.6 856.2 L764.7 856.1 L758.6 856 L765.5 855.9 L769.5 855.7 L765.8 855.6 L766.6 855.5 L767.4 855.4 L769.2 855.3 L785 855.2 L768.9 855.1 L781.1 854.9 L783.8 854.8 L786.5 854.7 L794 854.6 L805 854.5 L802.6 854.4 L802.5 854.2 L801.3 854.1 L806.4 854 L816.7 853.9 L812.5 853.8 L808.3 853.7 L807.8 853.6 L807.9 853.5 L805.8 853.4 L821.9 853.4 L820.7 853.3 L816.1 853.2 L826.3 853.2 L814.2 853.1 L820.6 853 L822.2 853 L806.5 852.9 L802.2 852.8 L805.2 852.8 L817.9 852.7 L823.2 852.6 L806.9 852.6 L817.8 852.5 L810.4 852.4 L807.9 852.4 L805.8 852.3 L806.3 852.2 L795.8 852.2 L798.3 852.1 L796.8 852 L807.7 852 L820.9 851.9 L828 851.8 L808.5 851.8 L795.9 851.7 L802.9 851.6 L802.2 851.6 L823.1 851.5 L819.9 851.4 L811.5 851.4 L821.9 851.3 L823 851.2 L809.8 851.2 L815.1 851.1 L819.6 851 L823.7 851 L826.7 850.9 L825.5 850.8 L829.9 850.8 L827.3 850.7 L826.1 850.6 L843.7 850.6 L841.8 850.5 L843.3 850.4 L831.4 850.4 L839.7 850.3 L849.9 850.2 L839.7 850.2 L854.9 850.1 L850.1 850 L853.1 850 L849.4 849.9 L850.2 849.8 L856.4 849.8 L846.3 849.7 L856.5 849.6 L842.4 849.6 L837.1 849.5 L846.3 849.5 L835.8 849.4 L837.2 849.4 L845.5 849.4 L848.9 849.3 L828.8 849.3 L838.5 849.3 L849.6 849.2 L846.9 849.2 L835.8 849.1 L829.8 849.1 L829.7 849.1 L823.1 849 L826.8 849 L827.5 849 L827.2 848.9 L835.4 848.9 L827.2 848.9 L816 848.8 L829.6 848.8 L819 848.8 L822.5 848.7 L827 848.7 L828.1 848.6 L825.4 848.6 L831.3 848.6 L850.7 848.5 L838.1 848.5 L839.6 848.5 L850 848.4 L851.5 848.4 L853.4 848.4 L855.3 848.3 L835.8 848.3 L838.1 848.2 L845.2 848.2 L849.1 848.2 L855.2 848.1 L850.8 848.1 L844.6 848.1 L844.6 848 L842.6 848 L844.9 848 L848.1 847.9 L841.7 847.9 L836.5 847.9 L834.6 847.8 L847.1 847.8 L851.2 847.7 L849.9 847.7 L848.4 847.6 L847.5 847.5 L841.3 847.5 L844.1 847.4 L834 847.3 L837.9 847.3 L835.9 847.2 L845.9 847.1 L840.2 847.1 L842.6 847 L847.2 846.9 L855.5 846.9 L843.6 846.8 L840.2 846.8 L852 846.7 L842.4 846.6 L851.3 846.6 L847.1 846.5 L849.9 846.4 L839.8 846.4 L855.3 846.3 L851.7 846.2 L849 846.2 L869.3 846.1 L865.9 846.1 L884.9 846 L869.4 845.9 L861.2 845.9 L863.1 845.8 L874.6 845.7 L867.1 845.7 L869.4 845.6 L871.2 845.5 L862.8 845.5 L868.5 845.4 L866.5 845.2 L861.8 845.1 L874.4 845 L875.5 844.9 L871.2 844.7 L862.9 844.6 L852.8 844.5 L866.7 844.3 L865.7 844.2 L854.1 844.1 L861.7 844 L853.1 843.8 L860.6 843.7 L863 843.6 L865.5 843.5 L866 843.3 L866.4 843.2 L858.2 843.1 L861.9 842.9 L862.5 842.8 L865.2 842.7 L869.9 842.6 L874 842.4 L881.2 842.3 L852.9 842.2 L864.7 842 L862.3 841.9 L877.3 841.8 L870.6 841.7 L850.1 841.5 L857.6 841.4 L852 841.3 L859.6 841.2 L846.3 841 L848.2 840.9 L847.2 840.7 L845.9 840.4 L841 840.1 L829.7 839.8 L840.8 839.5 L845.5 839.1 L837.7 838.8 L827.7 838.5 L831.8 838.2 L833.5 837.9 L827.3 837.6 L825.1 837.3 L832.6 837 L815.5 836.7 L813.4 836.3 L802 836 L805.7 835.7 L804.7 835.4 L801.2 835.1 L800.5 834.8 L815.5 834.5 L804 834.2 L800 833.9 L813.1 833.5 L799.7 833.2 L785.3 832.7 L796.1 832.1 L789.7 831.6 L805.4 831.1 L789.7 830.6 L790.2 830 L783.3 829.5 L793 829 L787.8 828.5 L792.8 827.9 L791.9 827.4 L789.9 826.9 L798.4 826.3 L799.3 825.8 L792.4 825.3 L783 824.8 L778.3 824.2 L785.1 823.7 L800 823.2 L783.2 822.7 L775.6 822.1 L773.1 821.6 L768.6 821.1 L767.1 820.6 L771.8 820 L783.7 819.4 L776.6 818.8 L771 818.2 L761.7 817.6 L771.5 817 L771.9 816.4 L763.5 815.8 L762 815.2 L768.3 814.6 L776.7 814 L775.9 813.4 L772.4 812.8 L767.6 812.2 L770.4 811.6 L767 811 L779.2 810.4 L758 809.8 L756.2 809.2 L765.1 808.6 L755.2 808 L762.4 807.4 L752.5 806.8 L749.6 806.2 L743.6 805.4 L733.5 804.6 L732 803.8 L751.6 802.9 L744.1 802.1 L740.2 801.3 L739.8 800.4 L735.4 799.6 L735.6 798.7 L725.2 797.9 L721.1 797.1 L726.6 796.2 L719.1 795.4 L711.9 794.6 L718.5 793.7 L718.9 792.9 L727.8 792 L721.9 791.2 L719 790.4 L724.1 789.5 L739.1 788.7 L732.9 787.9 L733.7 787 L733.7 786.2 L736.4 785.2 L742 784 L747.2 782.8 L728.4 781.6 L744.8 780.4 L740.2 779.2 L737.5 778 L756 776.8 L743.7 775.6 L755.7 774.4 L752.6 773.2 L738.9 772 L746.4 770.8 L750.6 769.6 L746.4 768.4 L730.3 767.2 L738.5 766 L740.5 764.8 L733.9 763.6 L751.1 762.4 L740.4 761.3 L735.7 760.1 L734.2 758.9 L729.6 757.7 L727.5 756.4 L731.9 755.2 L733.5 753.9 L727.3 752.6 L727.7 751.3 L717.9 750.1 L727.5 748.8 L720.1 747.5 L723.7 746.2 L715.9 745 L715.5 743.7 L719.3 742.4 L709.5 741.1 L730.9 739.9 L718.2 738.6 L713.6 737.3 L706.9 736 L720 734.8 L720.7 733.5 L712.4 732.5 L697.9 731.6 L699.1 730.6 L702.8 729.7 L692.6 728.7 L682 727.7 L675.9 726.8 L673.7 725.8 L675 724.9 L667.4 723.9 L666.6 723 L681.8 722 L680.4 721 L661.9 720.1 L667.4 719.1 L667.9 718.2 L667.3 717.2 L676 716.3 L669.7 715.6 L668.9 714.9 L669.2 714.3 L672 713.7 L682.9 713 L683 712.4 L669.5 711.7 L673 711.1 L672.3 710.5 L683.9 709.8 L683.6 709.2 L688.9 708.6 L682.9 707.9 L667.7 707.3 L679.1 706.6 L679.5 706 L680.6 705.4 L667.7 704.7 L672.9 704.3 L668.1 703.9 L666 703.6 L671.6 703.2 L672.1 702.8 L662.9 702.5 L653.5 702.1 L644.2 701.8 L653.2 701.4 L665.3 701 L658.7 700.7 L640.5 700.3 L643.8 700 L651.7 699.6 L660.5 699.2 L659.6 698.9 L655.6 698.5 L654.7 698.2 L647.1 697.8 L650.5 697.5 L653.4 697.1 L652.4 696.7 L659 696.4 L658.8 696 L664.9 695.8 L675.1 695.6 L674.1 695.5 L672.9 695.4 L669.4 695.2 L661 695.1 L669.7 695 L677.5 694.8 L670.1 694.7 L684 694.5 L675.3 694.4 L677.1 694.3 L672 694.1 L663.6 694 L683.2 693.9 L665.3 693.7 L674.2 693.6 L665.5 693.5 L668.2 693.3 L660.7 693.2 L660.6 693.1 L668.8 692.9 L677 692.8 L659.2 692.7 L659.7 692.5 L665.1 692.4 L654.7 692.3 L660.1 692.1 L650.2 692 L656.2 691.9 L655.4 691.8 L659.5 691.8 L653.6 691.9 L640.5 692 L648.8 692 L637.8 692.1 L646.6 692.2 L652.9 692.3 L647.2 692.3 L636.9 692.4 L645.1 692.5 L639.2 692.6 L627 692.6 L631.3 692.7 L645 692.8 L637.4 692.8 L639 692.9 L636.9 693 L627.9 693.1 L634.3 693.1 L642.5 693.2 L644.1 693.3 L642.6 693.3 L629.6 693.4 L649.8 693.5 L652 693.7 L655.3 694 L658.7 694.3 L648.3 694.5 L645.3 694.8 L651.4 695.1 L662.8 695.3 L643.5 695.6 L649.2 695.9 L645.4 696.1 L651.1 696.4 L656.9 696.7 L644.5 696.9 L633.2 697.2 L637.3 697.5 L634.3 697.7 L623.1 698 L635 698.3 L628.9 698.6 L636.6 698.8 L625.6 699.1 L639.9 699.4 L626.9 699.6 L641.3 699.9 L626.1 700.2 L644.7 700.4 L638.1 700.7 L629.1 701 L636.5 701.2 L642.9 701.5 L636.5 701.8 L639.3 702 L646.3 702.2 L646.1 702.5 L627.5 702.7 L641.8 702.9 L652.2 703.2 L655 703.4 L661.6 703.7 L652.8 703.9 L673.7 704.1 L668.1 704.4 L664.4 704.6 L669.8 704.9 L671.3 705.1 L667 705.3 L662 705.6 L673 705.8 L672.4 706.1 L656.8 706.3 L658.6 706.5 L670.1 706.8 L671 707 L672.8 707.3 L676.1 707.5 L673.9 707.7 L683.5 708 L671.6 708.2 L670.3 708.5 L675.2 708.7 L679.7 708.9 L681.5 709.2 L687.2 709.4 L675.6 709.6 L684.3 709.9 L682.1 710.1 L672.1 710.4 L678 710.6 L696.5 710.8 L694.2 711 L687 711.2 L673.9 711.4 L683.9 711.6 L688.5 711.8 L696.8 712.1 L716 712.3 L712 712.5 L710 712.7 L702.9 712.9 L701.3 713.1 L709.4 713.3 L711.5 713.5 L735.4 713.8 L718.5 714 L713.1 714.2 L723.9 714.4 L719.7 714.6 L710.1 714.8 L725.1 715 L718.3 715.3 L709.9 715.5 L719.4 715.7 L723.2 715.9 L718.8 716.1 L725 716.1 L727.7 716 L717.1 716 L705.5 715.9 L699.6 715.9 L712.9 715.9 L724.7 715.8 L725.4 715.8 L727.5 715.7 L730.5 715.7 L718.1 715.6 L721.3 715.6 L703.9 715.5 L713.9 715.5 L713.7 715.5 L709.6 715.4 L705.6 715.4 L699.3 715.3 L705.5 715.3 L714.1 715.2 L704.4 715.2 L708.8 715.1 L702.7 715.1 L708.2 715.1 L701.8 715 L710.4 715 L709.2 714.9 L713.4 714.9 L708.9 714.8 L704.7 714.8 L710.2 714.7 L721.6 714.7 L728.9 714.7 L718.6 714.6 L724.5 714.6 L726.4 714.5 L725.2 714.5 L712.5 714.4 L722.8 714.4 L717.4 714.2 L731.4 713.9 L733 713.5 L731.8 713.2 L708.9 712.9 L723.6 712.5 L726.8 712.2 L713.2 711.8 L724.1 711.5 L719.8 711.2 L715.9 710.8 L710.4 710.5 L705.9 710.2 L707.8 709.8 L731.2 709.5 L716.5 709.2 L711.9 708.8 L703.9 708.5 L700.8 708.2 L698.5 707.8 L694 707.5 L703 707.2 L695.8 706.8 L699.9 706.5 L685.5 706.2 L694.3 705.9 L688.3 705.7 L689.7 705.4 L683.1 705.2 L674.4 704.9 L684.7 704.7 L674.4 704.4 L672 704.2 L665.4 703.9 L672.6 703.7 L671.3 703.4 L676.4 703.2 L678.9 702.9 L673.4 702.7 L667.9 702.4 L679.9 702.2 L687.1 701.9 L688.2 701.7 L676.8 701.5 L686.7 701.2 L688.5 701 L689.2 700.7 L691.2 700.5 L687.4 700.2 L691 700 L697.5 699.7 L690.2 699.5 L681.2 699.2 L687.5 699 L690.7 698.7 L677.1 698.7 L681.2 698.6 L690.3 698.5 L687.1 698.5 L687.5 698.4 L677.9 698.4 L689.8 698.3 L698 698.3 L686.3 698.2 L679.3 698.1 L674.2 698.1 L686.4 698 L686.2 698 L681.9 697.9 L696.3 697.9 L698.6 697.8 L699.8 697.7 L685.9 697.7 L695.4 697.6 L704.5 697.6 L696 697.5 L710.2 697.4 L719 697.4 L716.6 697.3 L703 697.3 L698.7 697.2 L707.8 697.2 L709.4 697.1 L710.4 697 L709.4 697 L699.2 697 L693.6 697 L681.3 697 L695.1 697 L707.7 697 L691.2 697 L685.5 697 L690 697 L687.7 697 L673.7 697 L673 697 L668.7 697 L687.2 697 L671.6 697 L676.8 697 L683.8 697 L683.7 697 L679 697 L679.2 697 L661 697 L663.3 697 L662 697 L665.5 697 L686.9 697 L663.9 697 L674.1 697 L665.3 697 L681.3 697 L685.9 697 L675.5 697 L691.3 697 L682.4 697.2 L689.4 697.3 L685.2 697.5 L679 697.6 L679.5 697.8 L682.2 698 L688.6 698.1 L687.7 698.3 L703.4 698.4 L690.8 698.6 L686.6 698.7 L683.7 698.9 L680.1 699 L672.9 699.2 L672.4 699.3 L683.3 699.5 L678.4 699.6 L673.8 699.8 L674.4 699.9 L677.6 700.1 L673.5 700.2 L671.7 700.4 L660.4 700.6 L657.8 700.7 L651.8 700.9 L653.1 701 L646.7 701.2 L646.3 701.3 L645.8 701.5 L643.5 701.6 L640.8 701.6 L636.8 701.7 L646.4 701.7 L639.3 701.7 L633.9 701.7 L641.7 701.7 L635.8 701.8 L635.4 701.8 L644 701.8 L635.2 701.8 L623.4 701.8 L645.1 701.9 L656.6 701.9 L642 701.9 L644.5 701.9 L656 702 L642.4 702 L647.5 702 L647.4 702 L655.1 702 L645.9 702.1 L664 702.1 L662.4 702.1 L665.9 702.1 L663.4 702.1 L651.5 702.2 L662.8 702.2 L658.5 702.5 L667.5 702.9 L664.8 703.2 L668.7 703.6 L671.3 703.9 L679.5 704.3 L682.4 704.7 L672 705 L677.1 705.4 L689.3 705.7 L686.7 706.1 L678.6 706.5 L681.5 706.8 L681.5 707.2 L691.1 707.6 L688.1 707.9 L690.5 708.3 L704.4 708.6 L684.3 709 L682.5 709.4 L678 709.7 L678.7 710.1 L696.3 710.4 L697.7 710.8 L707.9 711.2 L686.8 711.5 L689.7 711.9 L707.1 712.2 L709.4 712.3 L709.8 712.5 L710.6 712.7 L705.9 712.9 L705.3 713.1 L706.2 713.3 L712.8 713.5 L708.4 713.7 L711.4 713.9 L720.6 714.1 L706.2 714.3 L705.7 714.5 L714.6 714.6 L711.4 714.8 L711.6 715 L727.2 715.2 L719.8 715.4 L712.6 715.6 L721.3 715.8 L733.3 716 L711.9 716.2 L709.8 716.4 L714.8 716.6 L710.3 716.8 L725.7 716.9 L716.4 717.1 L705.8 717.3 L707.2 717.5 L696.8 717.7 L693.5 717.9 L695.5 718.1 L709.5 718.3 L679.5 718.5 L688.1 718.7 L694.6 718.9 L690.1 719 L695 719.2 L684.2 719.3 L677.9 719.4 L675.5 719.5 L670.4 719.6 L686.4 719.7 L671.7 719.8 L675.6 720 L674.2 720.1 L672.5 720.2 L662.7 720.3 L673.1 720.4 L679.6 720.5 L681.7 720.6 L687.3 720.8 L682.3 720.9 L678.2 721 L684 721.1 L688.2 721.2 L679 721.3 L672.9 721.4 L675.2 721.6 L690.3 721.7 L694 721.8 L682.5 721.9 L686.8 722 L693.2 722.1 L699.7 722.3 L689.1 722.4 L690.7 722.5 L703.6 722.6 L714.9 722.7 L713.1 722.8 L695.8 722.9 L703.6 723 L701.8 723.1 L704.3 723.2 L702.1 723.2 L704.1 723.3 L709.2 723.4 L724.1 723.5 L721.6 723.6 L720.4 723.7 L718.8 723.8 L714.4 723.9 L718.1 724 L730.4 724.1 L732 724.2 L741.4 724.3 L733.5 724.4 L730.9 724.5 L719.5 724.6 L730.1 724.7 L718.2 724.8 L737.3 724.7 L727.3 724.6 L729 724.4 L720.1 724.3 L723.6 724.1 L721.5 724 L734.8 723.9 L732.1 723.7 L721.6 723.6 L712.1 723.4 L719.6 723.3 L716.3 723.1 L708.8 723 L716 722.9 L710.2 722.7 L708.3 722.6 L700.7 722.4 L696.5 722.3 L693.8 722.1 L682.9 722 L693 721.9 L693.1 721.7 L679.5 721.6 L688.8 721.4 L698.6 721.3 L695.1 721.3 L701.7 721.2 L693 721.2 L693 721.1 L684.5 721.1 L685.3 721 L679.6 721 L684.8 720.9 L694.1 720.9 L698.6 720.8 L704.4 720.8 L699.2 720.7 L690.5 720.7 L698.3 720.6 L696.7 720.6 L709.7 720.6 L714.4 720.5 L709.1 720.5 L693.8 720.4 L694.5 720.4 L699.8 720.3 L695.3 720.3 L702.9 720.2 L706.5 720.1 L710.4 720 L709 719.8 L702.7 719.6 L703.1 719.5 L709.7 719.3 L722.9 719.1 L729.6 719 L728.8 718.8 L726.1 718.6 L729.3 718.5 L732.7 718.3 L738.4 718.1 L738.6 718 L724 717.8 L739 717.6 L740.5 717.5 L736.8 717.3 L744.2 717.1 L741.7 717 L736.8 716.8 L722.7 716.6 L729.6 716.5 L732.5 716.3 L727.3 716.1 L713.7 715.6 L722.4 715 L724.5 714.4 L723.4 713.8 L726.4 713.2 L723.3 712.6 L721.9 712 L731.1 711.4 L728.8 710.8 L733.4 710.2 L756.8 709.6 L746.9 709 L741.9 708.4 L730.2 707.8 L740.4 707.2 L748.9 706.6 L742.5 706 L745.6 705.4 L732.5 704.8 L748 704.2 L743.9 703.6 L751.4 703 L757.7 702.4 L748.7 701.8 L754.1 701.1 L750.2 700.3 L746 699.6 L744.2 698.8 L739.7 698 L752.9 697.3 L753.3 696.5 L740.4 695.7 L749.6 695 L739.3 694.2 L728.7 693.4 L742 692.7 L726 691.9 L736.4 691.1 L729.8 690.4 L730.6 689.6 L725.7 688.9 L726.4 688.1 L720.1 687.3 L720.4 686.6 L718 685.8 L723 685 L714 684.3 L721.2 683.5 L726.2 682.7 L716.6 682 L717.5 681.2 L711.1 680.4 L710.8 679.7 L714.4 678.9 L711 678.2 L706.3 677.7 L710.8 677.1 L713.3 676.6 L714.6 676.1 L717.5 675.5 L701.4 675 L719.6 674.5 L713.9 673.9 L708.8 673.4 L710.7 672.9 L717.2 672.3 L722.1 671.8 L715.4 671.2 L717.8 670.7 L706.9 670.2 L716.6 669.6 L717.6 669.1 L716.1 668.6 L725.2 668 L734.1 667.5 L731.6 667 L719.1 666.4 L732.1 665.9 L723.1 665.4 L723.4 664.8 L720.2 664.3 L726.9 663.7 L729.7 663.2 L728.1 662.7 L725.6 662.1 L724.1 661.8 L721.1 661.5 L728.7 661.2 L719.6 660.8 L718.9 660.5 L717.4 660.2 L712.5 659.9 L713.9 659.5 L704.9 659.2 L714.5 658.9 L716.9 658.6 L710.9 658.2 L724.1 657.9 L713 657.6 L721.1 657.3 L724.2 656.9 L719.7 656.6 L722.2 656.3 L732.1 656 L730.5 655.6 L733.2 655.3 L743 655 L739.1 654.7 L726.9 654.3 L729.5 654 L740.1 653.7 L735.6 653.4 L727.6 653 L718.9 652.7 L731.8 652.4 L742.4 652.1 L725.9 651.9 L715 651.7 L729.8 651.5 L725.9 651.3 L726.1 651.1 L725.4 650.9 L720.7 650.7 L728.1 650.5 L733.5 650.3 L731.6 650 L725.2 649.8 L734.8 649.6 L729.9 649.4 L733.7 649.2 L724.8 649 L733.7 648.8 L736.9 648.6 L741.8 648.4 L734.9 648.1 L736.3 647.9 L730.2 647.7 L738.9 647.5 L740.8 647.3 L743.7 647.1 L734.9 646.9 L727.5 646.7 L733.8 646.5 L734.8 646.3 L731.8 646 L740.9 645.9 L746.4 645.7 L745 645.6 L750.4 645.5 L747.8 645.4 L738.9 645.2 L740.2 645.1 L743 645 L751.6 644.8 L756.2 644.7 L753 644.6 L759 644.5 L749.1 644.3 L752.3 644.2 L764.8 644.1 L761.8 644 L766 643.8 L748.2 643.7 L746.2 643.6 L752 643.4 L766.9 643.3 L775.7 643.2 L763.7 643.1 L759.2 642.9 L758.4 642.8 L758.3 642.7 L767.5 642.6 L763.6 642.4 L776.9 642.3 L772.1 642.2 L761.1 642 L764.1 641.9 L761.8 641.8 L767.2 641.7 L768.9 641.5 L760.5 641.4 L766.3 641.3 L765.2 641.2 L760.1 641.1 L760.7 641.1 L763.3 641 L756.9 640.9 L752.5 640.8 L764 640.8 L758 640.7 L752.1 640.6 L757.3 640.6 L745.2 640.5 L752 640.4 L743.9 640.3 L747.7 640.3 L739.1 640.2 L745.4 640.1 L758.7 640.1 L755.7 640 L749 639.9 L767.9 639.8 L757.7 639.8 L770.2 639.7 L760.8 639.6 L753.1 639.6 L774.2 639.5 L765.2 639.4 L771.8 639.3 L777.2 639.3 L762.8 639.2 L769.3 639.1 L767.6 639.1 L775.9 639 L774.8 638.9 L767.1 638.8 L774.9 638.8 L782.4 638.7 L777.2 638.6 L781.4 638.6 L775 638.5 L776.5 638.4 L779.5 638.3 L778.7 638.3 L785.9 638.2 L785.5 638.1 L784.6 638.1 L783.4 638 L779.2 637.9 L769.3 637.8 L781.5 637.8 L789 637.7 L780.7 637.6 L776.9 637.6 L779.6 637.5 L790.6 637.4 L789.1 637.4 L782.2 637.3 L787.9 637.2 L787.3 637.1 L792.9 637.1 L791.6 637 L793.4 636.9 L811.5 636.9 L815 636.8 L799.5 636.7 L800.3 636.7 L804.7 636.6 L807 636.5 L801.7 636.5 L816.1 636.4 L803.9 636.3 L816.9 636.3 L820.9 636.2 L815.5 636.1 L813 636.1 L817.8 636 L820.4 635.9 L806.8 635.9 L809.8 635.8 L822.5 635.7 L820.3 635.6 L816.9 635.6 L811.4 635.5 L811.2 635.4 L810 635.4 L832.5 635.3 L810.5 635.2 L822.7 635.2 L818 635.1 L814.3 635 L812.4 635 L807.4 634.9 L818.5 635 L813.3 635.2 L807.6 635.3 L804.8 635.4 L805.4 635.5 L795.9 635.6 L798.2 635.7 L796 635.8 L803.1 636 L805.6 636.1 L790.4 636.2 L798 636.3 L808.5 636.4 L796.5 636.5 L794.7 636.7 L809.3 636.8 L806 636.9 L803.5 637 L798.3 637.1 L806.8 637.2 L804.6 637.3 L809.6 637.5 L812.9 637.6 L816 637.7 L810.5 637.8 L808.3 637.9 L812 638 L812.5 638.1 L815 638.3 L811.5 638.4 L814.2 638.4 L814.2 638.4 L815.6 638.4 L822.5 638.3 L832.3 638.3 L825.1 638.3 L832.2 638.3 L833.9 638.3 L834.3 638.3 L837.7 638.3 L829.9 638.3 L835 638.3 L834.2 638.3 L808.4 638.3 L827.2 638.2 L833.1 638.2 L843.2 638.2 L825.4 638.2 L828.2 638.2 L830.3 638.2 L821.6 638.2 L833.5 638.2 L831.2 638.2 L821.9 638.2 L815.1 638.1 L816.4 638.1 L833.2 638.1 L833.9 638.1 L801.2 638.1 L795.4 638.1 L808.4 638.1 L804.5 638.1 L797.9 638.1 L802.5 638.1 L798.2 638.1 L796.4 638 L795.8 638 L788 638 L802.9 638 L795.8 638 L805.5 638 L805.9 638 L802.6 638 L803.3 638 L803.2 638 L792.1 637.9 L800.3 637.9 L808.3 637.9 L797.6 637.9 L796.7 637.9 L814.5 637.9 L818 637.9 L804.1 637.9 L814.9 637.9 L815.1 637.9 L822.9 637.9 L817.1 637.8 L817.3 637.8 L814.7 637.8 L821.2 637.8 L821.6 637.8 L819.1 637.8 L821.5 637.8 L820.3 637.8 L830.1 637.8 L822.4 637.7 L817.9 637.7 L821.6 637.7 L837.1 637.7 L831 637.7 L836.6 637.7 L838.4 637.7 L830.3 637.7 L836.5 637.6 L836.2 637.6 L832.2 637.6 L826.5 637.6 L829.2 637.6 L821.5 637.6 L826 637.6 L824.9 637.6 L831.2 637.6 L831.9 637.5 L825.3 637.5 L833.5 637.5 L837.5 637.5 L830.7 637.5 L823.4 637.5 L829.7 637.5 L811.3 637.5 L818.9 637.4 L828.4 637.4 L840.1 637.4 L824.4 637.4 L832.9 637.4 L838 637.4 L834.1 637.4 L802.4 637.4 L815.4 637.3 L810.3 637.3 L812.2 637.3 L802.4 637.3 L794.8 637.3 L793.2 637.3 L802.1 637.3 L797.7 637.3 L788.9 637.3 L791.1 637.2 L794.7 637.2 L793.4 637.2 L788.7 637.2 L783.2 637.2 L781 637.2 L782.3 637.2 L781.6 637.2 L774.3 637.1 L773.3 637.1 L788.3 637.1 L777.6 637.1 L772.4 637.1 L778.6 637.1 L789 637.1 L789.3 637.1 L777 637 L768.7 637 L768.9 637 L765.3 637 L765.7 637 L771.7 637 L761.7 637 L760 637 L762 637 L763 636.9 L758.3 636.9 L757.8 636.9 L756 636.9 L758.6 636.9 L768.5 636.9 L766.3 636.9 L747 636.9 L767.9 636.8 L769.1 636.8 L764.5 636.8 L768.1 636.8 L750.9 636.8 L756.4 636.8 L777.4 636.8 L789.7 636.8 L793.7 636.8 L775.6 636.7 L776.8 636.7 L782.7 636.7 L771.2 636.7 L789 636.7 L777.3 636.7 L782.2 636.7 L773.9 636.7 L782.1 636.7 L780.6 636.7 L787 636.8 L772.7 636.8 L776.2 636.9 L788.8 636.9 L770.9 636.9 L776.2 637 L777.4 637 L770.7 637.1 L769.9 637.1 L780.4 637.2 L780.3 637.2 L774.5 637.3 L769.5 637.3 L757.1 637.4 L760.7 637.4 L771.6 637.5 L767.7 637.5 L748.8 637.6 L737.6 637.6 L742.8 637.7 L748.1 637.7 L743 637.8 L741.8 637.8 L745.6 637.9 L749.6 637.9 L745.2 638 L750.5 638 L733 638 L740.8 638.1 L741.8 638.1 L728.3 638.2 L742.9 638.2 L726.5 638.3 L722.8 638.3 L749.1 638.4 L745.7 638.4 L737.9 638.5 L741.9 638.5 L740.8 638.6 L724.4 638.6 L730.6 638.7 L737.7 638.7 L728.1 638.8 L726.7 638.8 L722 638.9 L728.3 638.9 L720.4 639 L719.4 639 L716 639 L718.2 639 L727.6 639 L732.8 639 L729.3 639 L724.9 639 L734.4 639 L737.9 639.1 L746.1 639.1 L737.2 639.1 L736.6 639.1 L743.8 639.1 L753.6 639.1 L746.3 639.1 L745.3 639.1 L740.3 639.1 L744 639.2 L751.3 639.2 L748.7 639.2 L746.5 639.2 L723.9 639.2 L731.9 639.2 L718.5 639.2 L722.3 639.2 L699.7 639.2 L706.3 639.3 L699.3 639.3 L709 639.3 L705.6 639.3 L715.7 639.3 L708.5 639.3 L725.5 639.3 L715.5 639.3 L731.3 639.3 L721.2 639.3 L717.6 639.4 L731.8 639.4 L728.8 639.4 L732.6 639.4 L727 639.4 L734.8 639.4 L742.1 639.4 L740.6 639.4 L750 639.4 L736.2 639.5 L756.9 639.5 L755.4 639.5 L769 639.5 L758.8 639.5 L753.8 639.5 L753.4 639.5 L757.9 639.5 L760.7 639.5 L753.7 639.5 L749.2 639.5 L756.1 639.4 L760 639.4 L742.9 639.3 L743 639.3 L745.1 639.2 L761.6 639.2 L761.9 639.2 L758.6 639.1 L755.2 639.1 L742.8 639 L754.8 639 L747.5 638.9 L743.5 638.9 L761.5 638.8 L742.9 638.8 L758 638.7 L753.8 638.7 L745.3 638.6 L751 638.6 L745.6 638.5 L751.6 638.5 L747.6 638.4 L743 638.4 L766.6 638.3 L749.6 638.3 L754.4 638.2 L747.2 638.2 L749.2 638.1 L735.2 638.1 L731.9 638.1 L714.6 638 L738.4 638 L739.4 637.9 L727.2 637.9 L736.8 637.8 L736.3 637.8 L751.1 637.7 L735 637.7 L734.5 637.6 L731 637.6 L730.1 637.5 L723.5 637.5 L718.2 637.4 L723.8 637.4 L727.8 637.3 L711.4 637.3 L706.6 637.2 L712 637.3 L725.2 637.4 L713.7 637.5 L699.7 637.6 L712.5 637.7 L714.5 637.8 L722.2 637.9 L711.2 638 L719.8 638.1 L702.5 638.2 L708.4 638.3 L703.7 638.4 L691.4 638.5 L692.4 638.5 L701.6 638.6 L700.3 638.7 L687.5 638.8 L692.5 638.9 L690.2 639 L687.4 639.1 L680.4 639.2 L679.3 639.3 L673.1 639.4 L678.2 639.5 L682.1 639.6 L678.5 639.7 L682.1 639.8 L687.5 639.9 L690.5 640 L698.4 640.1 L687.4 640.2 L690.4 640.4 L697.1 640.5 L695.1 640.7 L699.7 640.8 L695.8 641 L706.5 641.1 L699.9 641.3 L692.4 641.4 L703.9 641.6 L713.5 641.7 L691.6 641.9 L698.9 642 L702.5 642.2 L710.4 642.3 L716 642.5 L706.4 642.7 L694.8 642.8 L707.6 643 L713.5 643.1 L711.7 643.3 L709 643.4 L702.6 643.6 L723.7 643.7 L704.4 643.9 L697.9 644 L713.7 644.2 L713.4 644.3 L716.3 644.5 L715.3 644.6 L724.2 644.8 L723.2 644.8 L708.2 644.9 L714.1 645 L699.5 645 L691.1 645.1 L707.9 645.1 L699.8 645.2 L684.9 645.2 L694.7 645.3 L691.6 645.4 L697.8 645.4 L694.4 645.5 L687.5 645.5 L685.1 645.6 L693.7 645.6 L686.7 645.7 L693.9 645.8 L689.6 645.8 L700.1 645.9 L713.5 645.9 L710.1 646 L714.7 646 L712.9 646.1 L704.4 646.2 L708.4 646.2 L713.6 646.3 L719.1 646.3 L714.9 646.4 L723.9 646.4 L718.6 646.5 L721.1 646.4 L720 646.3 L710.8 646.2 L722.2 646.1 L717.4 646 L715.6 645.9 L713 645.8 L697.1 645.8 L696.8 645.7 L699.2 645.6 L711.6 645.5 L702.9 645.4 L707.7 645.3 L696.6 645.2 L694 645.1 L695 645 L704.8 644.9 L687.8 644.8 L692.7 644.7 L697.1 644.6 L695.4 644.5 L693 644.4 L697 644.3 L693.7 644.2 L683.1 644.2 L690.8 644.3 L682.1 644.3 L683.5 644.3 L697.3 644.4 L708.4 644.4 L705.3 644.5 L698.4 644.5 L689.4 644.6 L688.1 644.6 L705.3 644.6 L701.4 644.7 L689.6 644.7 L707.8 644.8 L706.5 644.8 L712.1 644.9 L708.2 644.9 L690.5 644.9 L696.8 645 L703.3 645 L705.7 645.1 L718.7 645.1 L707.9 645.2 L710 645.2 L712.6 645.2 L715.8 645.3 L712.6 645.3 L713.1 645.3 L706.4 645.3 L727.2 645.2 L731.2 645.1 L737.5 645 L732.9 645 L741.5 644.9 L739.5 644.8 L741.2 644.8 L752.7 644.7 L757.9 644.6 L759.5 644.6 L756.3 644.5 L753.9 644.4 L766.1 644.3 L768.8 644.3 L757.3 644.2 L752 644.1 L761.4 644.1 L764 644 L756.9 643.9 L777.7 643.9 L753.7 643.8 L756.9 643.7 L765.8 643.7 L773.8 643.6 L757 643.5 L763.2 643.4 L778.3 643.4 L782.5 643.3 L772.9 643.2 L773.2 643.2 L767.6 643.1 L775.6 643 L765.7 643 L755.1 643 L754.6 643 L763.9 643 L755.4 642.9 L768.6 642.9 L771.7 642.9 L769.2 642.9 L764.8 642.9 L765.6 642.9 L758.5 642.9 L759.5 642.8 L757.8 642.8 L759.9 642.8 L748.5 642.8 L748.4 642.8 L746.5 642.8 L758.8 642.7 L760.1 642.7 L751.9 642.7 L748.8 642.7 L751.3 642.7 L762.2 642.7 L758.5 642.6 L757.1 642.6 L754 642.6 L757.5 642.6 L770.5 642.6 L758.5 642.6 L758.2 642.5 L772.6 642.5 L769.8 642.5 L756.8 642.5 L769.2 642.5 L756.6 642.5 L766.3 642.5 L748 642.4 L754.3 642.3 L769.4 642.1 L763.2 642 L761.1 641.9 L766.3 641.8 L767.7 641.7 L765.2 641.6 L763.5 641.5 L780.4 641.4 L783 641.3 L776 641.1 L764 641 L764.8 640.9 L766.3 640.8 L771.6 640.7 L780.3 640.6 L767.6 640.5 L768.6 640.4 L764.6 640.3 L767.1 640.1 L761.8 640 L767.4 639.9 L773.8 639.8 L764.4 639.7 L762.2 639.6 L764.3 639.5 L754.7 639.4 L773.4 639.2 L756.1 639.1 L758.2 639 L754.8 638.9 L769.9 638.8 L759.7 638.7 L756.7 638.6 L772 638.5 L762 638.4 L755.5 638.4 L759.5 638.5 L762.2 638.5 L756.8 638.6 L759.7 638.6 L760.5 638.7 L767.5 638.7 L769.9 638.8 L771.3 638.8 L765.4 638.9 L770.6 638.9 L765.3 639 L773.7 639 L771 639.1 L765 639.1 L775.1 639.2 L759.2 639.2 L759.3 639.3 L760.9 639.3 L766.2 639.4 L760.3 639.4 L759.4 639.5 L754.8 639.5 L767.7 639.5 L765.7 639.6 L786.1 639.6 L782.2 639.7 L768.7 639.7 L782.9 639.8 L778.8 639.8 L785.1 639.9 L772.4 639.9 L785.4 640 L788.9 640 L780.1 640.1 L775.6 640.1 L778.4 640.2 L784.2 640.2 L800.9 640.3 L801.7 640.4 L800.5 640.4 L789.1 640.5 L786.1 640.5 L790.8 640.6 L788.3 640.6 L787 640.7 L789.1 640.8 L797.5 640.8 L794.1 640.9 L796 640.9 L793.7 641 L794.3 641 L794.2 641.1 L805.7 641.2 L800.5 641.2 L806.7 641.3 L795.9 641.3 L800.6 641.4 L784.1 641.4 L785.6 641.5 L787.4 641.6 L782.9 641.6 L784.3 641.7 L778.1 641.7 L780.8 641.8 L777 641.8 L779.7 641.8 L777.4 641.7 L771.2 641.6 L772.7 641.5 L775.2 641.4 L766 641.3 L772.2 641.2 L780.7 641.1 L771.8 641 L774 640.9 L774.1 640.8 L763.5 640.8 L774.4 640.7 L784.4 640.6 L761.8 640.5 L776.9 640.4 L760.3 640.3 L770 640.2 L749.3 640.1 L763.5 640 L759.4 639.9 L747.9 639.8 L747.3 639.7 L744.9 639.6 L744.5 639.5 L752.3 639.4 L749.7 639.3 L732.3 639.2 L742.2 639.1 L749.1 639 L747.5 638.9 L757.3 638.8 L734.8 638.7 L742.6 638.6 L742.3 638.6 L746.2 638.5 L732.2 638.4 L728.2 638.3 L734.1 638.2 L736.5 638.1 L723.4 638 L734.2 637.9 L733.7 637.8 L738.4 637.9 L716.3 638 L731.7 638.1 L725.7 638.2 L726.7 638.3 L735.1 638.4 L743.1 638.5 L734.2 638.6 L729.8 638.7 L738.1 638.8 L724.7 638.9 L726.1 639 L723.6 639.1 L719.4 639.2 L726.1 639.3 L741.5 639.4 L733.8 639.5 L734.3 639.5 L731.6 639.6 L739.5 639.7 L735.8 639.8 L728.3 639.9 L733.9 640 L745.1 640.1 L738.3 640.2 L746 640.3 L740 640.4 L753.6 640.5 L745.8 640.6 L747.1 640.7 L741.7 640.7 L748.8 640.6 L744 640.5 L735 640.5 L745.7 640.4 L738.7 640.4 L756.1 640.3 L756.5 640.2 L752 640.2 L756.2 640.1 L735.5 640.1 L759.3 640 L751 639.9 L758.7 639.9 L774.3 639.8 L748.6 639.8 L749.1 639.7 L753.4 639.6 L753.9 639.6 L738.6 639.5 L738.8 639.5 L754.4 639.4 L742.9 639.3 L746.9 639.3 L733.7 639.2 L732.5 639.2 L724.9 639.1 L736.2 639 L744.1 639 L737.7 638.9 L732.5 638.9 L733.7 638.8 L734.5 638.7 L729.2 638.7 L733.8 638.6 L744.6 638.6 L749.1 638.5 L731.1 638.4 L721.9 638.4 L741.3 638.3 L739.8 638.3 L741 638.2 L737.1 638.1 L730.5 638.1 L737.1 638 L739.7 638 L740.7 637.9 L725.5 637.8 L736.2 637.8 L729.4 637.9 L727.7 638 L732.1 638 L728.4 638.1 L745.7 638.1 L738 638.2 L734.1 638.3 L730 638.3 L732 638.4 L729.2 638.4 L734 638.5 L737.4 638.5 L738.6 638.6 L725 638.7 L728.4 638.7 L732.5 638.8 L725.1 638.8 L734.6 638.9 L733.9 639 L735.6 639 L738.6 639.1 L733 639.1 L746.9 639.2 L747.3 639.3 L737 639.3 L741.9 639.4 L745.4 639.4 L736.5 639.5 L737.5 639.6 L745.4 639.6 L725.4 639.7 L729.5 639.7 L742.2 639.8 L747.9 639.9 L739.2 639.9 L749.5 640 L760.5 640 L748.9 640.1 L743.7 640.2 L742.5 640.2 L734.2 640.3 L742.2 640.3 L741.1 640.4 L744.1 640.5 L748.9 640.5 L740 640.6 L738.1 640.6 L738 640.7 L747.1 640.7 L726.9 640.7 L731.2 640.7 L727.4 640.7 L731 640.7 L736.1 640.7 L732.8 640.7 L737 640.7 L734.8 640.7 L728.5 640.7 L727.8 640.7 L723.1 640.7 L733.4 640.7 L732.2 640.7 L740.8 640.7 L744.2 640.7 L732.9 640.7 L729.1 640.7 L739.2 640.7 L730.9 640.7 L735.8 640.7 L739.2 640.7 L732.7 640.7 L745.3 640.7 L730.4 640.7 L734.4 640.7 L729.1 640.7 L710.4 640.7 L723.7 640.7 L726.5 640.7 L731.7 640.7 L727.6 640.7 L722 640.7 L721.1 640.7 L721.2 640.7 L727.4 640.7 L720.8 640.7 L728.4 640.8 L726.7 640.9 L714.3 641 L722.2 641 L700.6 641.1 L709.8 641.2 L704.2 641.3 L707.7 641.3 L716.1 641.4 L709.3 641.5 L705.3 641.6 L713.2 641.6 L700.2 641.7 L695.4 641.8 L705.6 641.9 L705.1 641.9 L690.4 642 L696.8 642.1 L702 642.2 L696.2 642.2 L692.4 642.3 L694.5 642.4 L694.8 642.5 L688 642.5 L696.1 642.6 L681 642.7 L687.6 642.8 L706.2 642.8 L690.4 642.9 L694.8 643 L682 643.1 L690 643.1 L691.2 643.2 L701.1 643.3 L701.1 643.4 L718.4 643.4 L705.3 643.5 L709.5 643.6 L713 643.7 L715.5 643.7 L717.2 643.8 L700.1 643.9 L720.7 644 L708.1 644 L701.4 644.1 L692.6 644.2 L697.9 644.2 L689.5 644.3 L700 644.4 L696.5 644.5 L701.2 644.5 L694.1 644.6 L697.4 644.7 L712.3 644.8 L708.8 644.9 L700.8 645 L690.8 645.1 L704.8 645.2 L686.6 645.3 L683.8 645.5 L701.4 645.6 L692.7 645.7 L703.6 645.8 L700.9 645.9 L711 646 L710.6 646.1 L702.2 646.3 L691.6 646.4 L697.1 646.5 L701.6 646.6 L692 646.7 L666.9 646.8 L675.7 647 L676 647.1 L676.1 647.2 L672.1 647.3 L679.2 647.4 L662.5 647.5 L667.9 647.6 L650.7 647.8 L643 647.9 L648.9 648 L652.1 648.1 L651.7 648.2 L652.7 648.4 L661.7 648.5 L663.5 648.6 L660.4 648.8 L660.2 648.9 L653.8 649.1 L650.1 649.2 L646 649.4 L651.6 649.5 L647.9 649.6 L652.3 649.8 L660.3 649.9 L660.9 650.1 L666.2 650.2 L651.9 650.4 L639.5 650.5 L643.6 650.6 L665.6 650.8 L662.1 650.9 L653.2 651.1 L662.8 651.2 L653.2 651.4 L664.8 651.5 L653.3 651.7 L650.2 651.9 L656.5 652.2 L645.2 652.6 L648.7 652.9 L663.6 653.3 L656.7 653.6 L644.2 654 L646.5 654.3 L648.3 654.7 L643.4 655 L649.8 655.3 L656.8 655.7 L650 656 L653.7 656.4 L650.2 656.7 L647.9 657.1 L641 657.4 L650.6 657.8 L655.3 658.1 L643.8 658.4 L637.7 658.8 L645.4 659.1 L644.1 659.5 L650.4 659.8 L647.1 660.2 L640.7 660.5 L629.5 660.9 L639.3 661.2 L637.1 661.5 L626.1 661.9 L620.8 662.2 L616 662.5 L630.4 662.9 L625.7 663.2 L603.8 663.5 L613.9 663.8 L617 664.1 L620.2 664.5 L620.9 664.8 L617.7 665.1 L625.8 665.4 L630.6 665.7 L624.3 666.1 L635.8 666.4 L628.1 666.7 L622 667 L628.3 667.3 L620 667.7 L626.5 668 L623.9 668.3 L628.5 668.6 L634.8 668.9 L619.2 669.2 L635.6 669.6 L639.7 669.9 L638.4 670.2 L645.3 670.5 L645.4 670.8 L640.7 671.2 L635.4 671.5 L646.1 671.8 L649.2 672.1 L635 672.4 L636.7 672.8 L634.3 673.1 L647.6 673.4 L641.6 673.7 L635.8 674.1 L653.3 674.5 L650.7 674.9 L646.9 675.3 L644.2 675.8 L639 676.2 L637.5 676.6 L641.4 677 L637.6 677.4 L628.9 677.8 L628.9 678.2 L639.3 678.6 L623.8 679 L613 679.5 L618.5 679.9 L609.6 680.3 L631.5 680.7 L621.7 681.1 L618.9 681.5 L617.2 681.9 L628 682.3 L610.6 682.7 L613.1 683.2 L602.9 683.6 L620.5 684 L616.1 684.4 L627.9 684.8 L617.1 685.2 L609.5 685.6 L610.2 686 L620.9 686.5 L612.7 686.9 L618.3 687.3 L613.3 687.7 L612.3 688.1 L613.4 688.5 L628.8 688.9 L614.5 689.3 L620.7 689.7 L626.1 690.2 L617.5 690.6 L610.9 691 L630.4 691.4 L637.5 691.8 L626.4 692.2 L617.8 692.6 L630.4 693 L628 693.4 L622.7 693.9 L625 694.3 L612.5 694.7 L620.8 695.1 L620.8 695.5 L620.7 695.9 L634.4 696.3 L636.3 696.7 L647.1 697.2 L620.6 697.6 L628.4 698 L629.8 698.4 L645.3 698.8 L646.4 699.1 L640 699.5 L637.7 699.9 L630.9 700.2 L630.4 700.6 L630.3 700.9 L615.6 701.3 L641.7 701.6 L639.8 702 L648.1 702.3 L644 702.7 L637.8 703 L642.2 703.4 L628.8 703.7 L632.8 704.1 L649.3 704.5 L647.7 704.8 L641.6 705.2 L653.7 705.5 L650.8 705.9 L661.6 706.2 L677.8 706.6 L666 706.9 L670.5 707.3 L681.2 707.6 L682.6 708 L687.2 708.3 L679.7 708.7 L680.4 709.1 L665.9 709.4 L676.6 709.8 L688.6 710.1 L674.4 710.5 L676.5 710.8 L682.5 711.2 L686.8 711.5 L686.7 711.9 L671.9 712.2 L670.7 712.6 L684.6 713 L672.1 713.3 L673.4 713.7 L665.2 714 L663.7 714.4 L646.7 714.7 L658.4 715.1 L649.2 715.4 L654.3 715.8 L655.1 716.1 L670.6 716.5 L669.7 716.8 L666.3 717.2 L658.4 717.6 L649.7 717.9 L659.6 718.3 L652.4 718.6 L654.8 719 L661.2 719.3 L653.3 719.7 L650.8 720 L642 720.4 L652.2 720.7 L649.6 721 L648.6 721.2 L653.1 721.5 L630.2 721.8 L634.3 722.1 L637.9 722.4 L635.1 722.7 L634.8 723 L637.8 723.3 L626.4 723.6 L635 723.9 L647.2 724.2 L643.4 724.5 L643 724.8 L651.6 725.1 L637.4 725.4 L650.1 725.7 L662.5 726 L655 726.3 L650.7 726.6 L660.4 726.9 L657.6 727.2 L655.9 727.5 L663.8 727.8 L654.7 728.1 L669.8 728.4 L661.8 728.7 L665.5 729 L676.3 729.3 L675 729.6 L677.8 729.9 L687.4 730.2 L692 730.5 L698.2 730.8 L682.7 731.1 L690.2 731.4 L675.5 731.7 L689.9 732 L698.1 732.3 L687.3 732.6 L694 732.9 L699.4 733.2 L695.1 733.5 L691.9 733.8 L707 734.1 L692.5 734.4 L700.3 734.6 L709.1 734.9 L707.7 735.2 L718 735.5 L721.3 735.8 L716.5 736.1 L725.6 736.4 L722.2 736.6 L709.1 736.8 L713.4 737 L720 737.2 L722.4 737.4 L711.4 737.6 L733 737.8 L709.7 738 L704.8 738.2 L712.4 738.3 L710.6 738.5 L717.3 738.7 L707.9 738.9 L704.5 739.1 L704.1 739.3 L691.8 739.5 L682.9 739.7 L684.3 739.9 L693.7 740.1 L685.9 740.3 L693.2 740.4 L681.4 740.6 L686.1 740.8 L681.1 741 L684.1 741.2 L677.9 741.4 L676.4 741.6 L670.1 741.8 L679.1 742 L671.2 742.2 L671.7 742.4 L671.5 742.6 L659.6 742.7 L656.9 742.9 L661.6 743.1 L671.7 743.3 L658.1 743.6 L654.8 744 L654.1 744.3 L657.9 744.7 L654 745 L654.6 745.3 L664 745.7 L655 746 L660.1 746.4 L653.2 746.7 L658 747.1 L664.1 747.4 L648.1 747.8 L658.1 748.1 L661.7 748.4 L660.5 748.8 L662.3 749.1 L663.6 749.5 L650.3 749.8 L651.9 750.2 L654.9 750.5 L657.3 750.9 L636.9 751.2 L634.4 751.5 L625.7 751.9 L630.1 752.2 L621.2 752.6 L618.9 752.9 L631.7 753.3 L645.8 753.6 L620.5 754 L640.4 754.3 L628.5 754.6 L637.3 755 L637.9 755.3 L644.9 755.6 L637.5 756 L632.1 756.3 L636.8 756.6 L644.5 757 L635.7 757.3 L643.1 757.6 L642.9 758 L644.8 758.3 L644.9 758.6 L649.7 759 L653.1 759.3 L647.1 759.6 L646 760 L634.1 760.3 L640.6 760.6 L638.5 761 L653.9 761.3 L646.4 761.7 L647.9 762 L657.4 762.3 L663.8 762.7 L667.6 763 L655.1 763.3 L660.2 763.7 L667.8 764 L655.5 764.3 L656.2 764.7 L649 765 L650.6 765.3 L659.7 765.7 L657.1 766 L652.8 766.3 L649.8 766.7 L662.8 767 L660.2 767.3 L645.3 767.7 L664.4 768 L650.9 768.4 L648.7 768.7 L645.3 769 L643.3 769.4 L650.6 769.7 L637.5 770 L643.8 770.4 L642.3 770.7 L655.6 771 L649.1 771.4 L647.2 771.7 L646.8 772 L646.7 772.4 L643 772.7 L624 773 L638.5 773.4 L636.5 773.7 L642.6 774 L641 774.4 L634.3 774.8 L629.7 775.2 L627.3 775.6 L635.2 776 L634 776.4 L627.9 776.8 L629.5 777.2 L634.3 777.6 L628.1 778 L629.8 778.4 L626.5 778.8 L612.8 779.2 L628.9 779.6 L633.6 780 L640.8 780.4 L646.9 780.8 L635.4 781.2 L642.5 781.6 L643 782 L642.7 782.4 L648.7 782.8 L651.4 783.2 L638.3 783.6 L654.7 784 L648.4 784.4 L644.4 784.8 L645 785.2 L650.6 785.6 L648 786 L664.6 786.4 L666.4 786.8 L659.8 787.2 L672.1 787.6 L673.3 788 L674.7 788.4 L682.5 788.8 L677.9 789.1 L676.5 789.5 L682.3 789.8 L668.7 790.1 L670.5 790.5 L683.5 790.8 L691.5 791.2 L675.6 791.5 L684.2 791.8 L682.6 792.2 L685.7 792.5 L693.4 792.9 L702.4 793.2 L707.4 793.6 L703.9 793.9 L701.9 794.2 L698.9 794.6 L685.3 794.9 L698.3 795.3 L691.6 795.6 L691.4 795.9 L700.7 796.3 L692.3 796.6 L714 797 L712.3 797.3 L711.2 797.7 L712.6 798 L712.3 798.3 L711.9 798.7 L716.8 799 L707.7 799.4 L711.4 799.7 L711.1 800 L714.6 800.4 L702.2 800.7 L707.7 801.1 L706 801.4 L710.3 801.8 L710.2 802.1 L707.2 802.4 L707.9 802.8 L707.4 803.1 L713 803.4 L706.7 803.7 L706.2 803.9 L695.5 804.2 L697.3 804.5 L703.8 804.8 L706.9 805 L693.3 805.3 L695.8 805.6 L693.5 805.9 L694 806.1 L689.4 806.4 L687.5 806.7 L688.3 807 L688.7 807.2 L693.7 807.5 L681.1 807.8 L676 808 L685.6 808.3 L684.9 808.6 L678.9 808.9 L672.4 809.1 L687.4 809.4 L678.1 809.7 L692.3 810 L691.3 810.2 L689.8 810.5 L690.7 810.8 L699.1 811.1 L697.2 811.3 L686.2 811.6 L692 811.9 L685.1 812.1 L702.1 812.4 L711.5 812.7 L716 813 L701.7 813.2 L722.5 813.5 L726.4 813.8 L715 814.1 L700.1 814.3 L704.7 814.6 L719.7 814.9 L731.2 815.1 L717 815.3 L705.3 815.6 L709.2 815.8 L730.5 816 L723.5 816.3 L713 816.5 L706.4 816.7 L724.2 817 L730.5 817.2 L724.1 817.4 L725.1 817.6 L727.9 817.9 L726.4 818.1 L725.3 818.3 L725.6 818.6 L726.2 818.8 L739.4 819 L737.8 819.3 L742.3 819.5 L749.7 819.7 L724.1 820 L733.5 820.2 L743.5 820.4 L738.7 820.7 L735.6 820.9 L742.2 821.1 L738.3 821.4 L735.8 821.6 L739.6 821.8 L743.6 822.1 L745 822.3 L752.1 822.5 L748.6 822.8 L745 823 L768.8 823.2 L752.9 823.5 L749.2 823.7 L749.7 823.9 L746.5 824.2 L740.3 824.4 L751.4 824.6 L763.3 824.7 L744.5 824.9 L747.6 825 L757 825.2 L752.3 825.3 L759.9 825.4 L758.5 825.6 L751.5 825.7 L756.3 825.8 L756 826 L763.7 826.1 L745.2 826.2 L761.2 826.4 L772 826.5 L767.2 826.7 L767.1 826.8 L762.4 826.9 L767.7 827.1 L766.3 827.2 L758.7 827.3 L758.1 827.5 L750.7 827.6 L768.2 827.8 L771.3 827.9 L779 828 L776 828.2 L778.9 828.3 L766.4 828.4 L760.4 828.6 L768.4 828.7 L772.7 828.8 L779.2 829 L778.1 829.1 L778.3 829.3 L780.5 829.4 L783.1 829.5 L783.4 829.7 L784.2 829.8 L778.9 829.9 L780.3 830.1 L771.3 830.2 L771.4 830.3 L777.2 830.4 L783.4 830.5 L776.9 830.5 L770.9 830.6 L785.4 830.6 L776.9 830.7 L769.7 830.7 L774.1 830.8 L774.9 830.8 L767.7 830.9 L780.8 830.9 L799.3 830.9 L788.4 831 L786.2 831 L800.1 831.1 L797.4 831.1 L796.5 831.2 L807.3 831.2 L793.8 831.3 L799.1 831.3 L805.3 831.4 L805.9 831.4 L797.7 831.5 L798.4 831.5 L819.7 831.6 L816.4 831.6 L818.1 831.7 L831.2 831.7 L818.6 831.8 L831 831.8 L826.1 831.9 L849.9 831.9 L843.3 832 L852.8 832 L851.8 832 L862.3 832.1 L867.5 832.1 L864.4 831.9 L860.1 831.7 L861.6 831.5 L857.4 831.3 L853.3 831.1 L858.7 830.9 L860.3 830.7 L844.4 830.5 L841.5 830.3 L841.1 830.1 L847 830 L835.6 829.8 L851.6 829.6 L844.1 829.4 L842.6 829.2 L850 829 L842.8 828.8 L850.7 828.6 L854.8 828.4 L863.9 828.2 L852.3 828 L867.9 827.8 L868.5 827.7 L868.3 827.4 L875.7 826.7 L870.7 826 L871.8 825.4 L881.1 824.7 L877.3 824 L887.9 823.3 L890.2 822.6 L881.6 821.9 L878 821.3 L870.2 820.6 L865.1 819.9 L878.6 819.2 L863.9 818.5 L866.5 817.8 L867.4 817.1 L858.2 816.5 L856.1 815.8 L854.1 815.1 L871.6 814.4 L862.8 813.7 L866.2 813 L871 811.6 L864.8 810.2 L864.8 808.7 L852.3 807.2 L846.9 805.7 L859.6 804.3 L862.3 802.8 L845.6 801.3 L855.5 799.8 L851.7 798.4 L853.6 796.9 L854.7 795.4 L860.8 793.9 L844.6 792.4 L844.3 791 L851.4 789.5 L841.4 788 L843 786.5 L837.9 785.1 L824.2 783.6 L827.2 782.1 L836.3 780.4 L827.6 778.7 L817.3 777 L820.4 775.2 L823.9 773.5 L826 771.7 L824.1 770 L823.6 768.2 L811.4 766.5 L810 764.7 L807.2 763 L807.4 761.2 L814.8 759.5 L825.4 757.7 L819.6 756 L829.2 754.2 L834.1 752.5 L822.3 750.7 L823.7 749 L832.9 747.3 L827 745.5 L849.8 743.8 L832.3 742 L834.5 740.3 L850.9 738.5 L846.9 736.7 L857.9 735 L851.4 733.2 L865.8 731.4 L860.5 729.6 L870.3 727.8 L876.8 726.1 L863.7 724.3 L866.8 722.5 L863.9 720.7 L869.8 719 L887.2 717.2 L886.6 715.4 L889 713.6 L891.4 711.8 L887.3 710.1 L882 708.3 L870.7 706.5 L866.1 704.7 L867.6 703 L869.6 701.3 L869.4 699.9 L861.9 698.5 L854.2 697.2 L853 695.8 L863.4 694.4 L855.6 693.1 L864.2 691.7 L846.9 690.3 L852.3 689 L848.2 687.6 L849.7 686.2 L838.8 684.9 L842.4 683.5 L839.5 682.1 L836.3 680.8 L828.2 679.4 L823.6 678 L828.8 676.7 L835 675.3 L833.5 673.9 L832 672.6 L831.1 671.7 L818.4 670.8 L830.6 669.9 L825.8 669 L818 668.1 L816.4 667.2 L825.3 666.3 L821.1 665.4 L806.4 664.5 L827.2 663.7 L807.1 662.8 L822.6 661.9 L819.6 661 L805.2 660.1 L815.8 659.2 L817.5 658.3 L815.4 657.4 L811.1 656.5 L809.8 656 L810.4 655.7 L807 655.3 L813.2 654.9 L823.1 654.5 L817.8 654.1 L832 653.7 L813.3 653.4 L821 653 L814.1 652.6 L812.2 652.2 L826.8 651.8 L828.1 651.4 L828.5 651.1 L826.7 650.7 L833.4 650.3 L827.3 649.9 L836.9 649.5 L838.7 649.2 L835.8 648.8 L847.8 648.4 L835.3 648 L846.8 647.6 L848.1 647.2 L849.6 646.9 L846.7 646.5 L850 646.1 L843.1 645.7 L835.3 645.3 L842.6 644.9 L836 644.7 L836.7 644.5 L839.6 644.3 L832.7 644.2 L843.4 644 L828.4 643.8 L842.3 643.6 L835.8 643.5 L844.5 643.3 L841.3 643.1 L836.2 643 L831 642.8 L827.1 642.6 L814.7 642.4 L815.8 642.3 L812.1 642.1 L811.3 641.9 L813.7 641.7 L808.5 641.6 L812.1 641.4 L809 641.2 L805.4 641.1 L809 640.9 L809 640.7 L795.4 640.5 L797.6 640.4 L818.7 640.2 L802.9 640 L800.6 639.8 L789.6 639.7 L798.6 639.5 L805.4 639.5 L800.9 639.5 L795.2 639.4 L795.2 639.4 L782.5 639.3 L796.5 639.3 L794.2 639.2 L798.7 639.2 L799.9 639.2 L799.4 639.1 L812.4 639.1 L808 639 L796.5 639 L802.5 639 L804.4 638.9 L801.2 638.9 L810 638.8 L800.5 638.8 L789.6 638.8 L792.2 638.7 L803.3 638.7 L797.5 638.6 L804.4 638.6 L795.6 638.6 L806.9 638.5 L806.1 638.5 L802.1 638.4 L804.2 638.4 L807.3 638.3 L816.8 638.3 L815.3 638.3 L812.6 638.2 L815.1 638.2 L821.3 638.1 L820.7 638.1 L829.9 638.1 L816.2 638 L823.8 638 L821.7 637.9 L816.8 637.9 L824.5 637.9 L828.7 637.8 L829.1 637.8 L824.3 637.8 L812.4 637.8 L815.1 637.8 L815.7 637.8 L823.1 637.8 L813.1 637.8 L809.3 637.8 L816.4 637.8 L806.7 637.8 L799.3 637.8 L800.9 637.8 L803.2 637.8 L798.1 637.8 L783 637.8 L787.4 637.8 L797.9 637.8 L788.4 637.8 L796.5 637.8 L793.6 637.8 L786 637.8 L794.6 637.8 L776.6 637.8 L772.1 637.8 L774.4 637.8 L788.7 637.8 L786.5 637.8 L791.8 637.8 L788 637.8 L788.2 637.8 L783.5 637.8 L782.9 637.8 L791.8 637.8 L792.2 637.8 L777.8 637.8 L786.8 637.8 L798.5 637.8 L792.6 637.8 L779.3 637.8 L787.1 637.8 L785.2 637.8 L780.8 637.8 L787.8 637.8 L790.5 637.8 L778.6 637.8 L779.2 637.8 L775.1 637.8 L776 637.8 L786.2 637.8 L774.3 637.8 L777.4 637.8 L775.3 637.8 L772.8 637.8 L763.3 637.8 L771.9 637.8 L761.8 637.8 L770.7 637.8 L766.7 637.8 L766.5 637.8 L761.7 637.8 L757.7 637.8 L757.8 637.8 L766.4 637.8 L769.5 637.8 L774.3 637.8 L773.3 637.8 L781.7 637.8 L781.2 637.8 L782.5 637.8 L782 637.8 L784.9 637.8 L791.8 637.8 L785.6 637.8 L777.8 637.8 L784.7 637.8 L784.8 637.8 L780.4 637.8 L778.9 637.8 L766.4 637.8 L763.7 637.8 L767.6 637.8 L766.6 637.8 L756.5 637.8 L763.5 637.8 L747.6 637.8 L762.9 637.8 L749.5 637.8 L747.6 637.8 L744.4 637.8 L741.6 637.8 L747.8 637.8 L738.8 637.8 L746.9 637.8 L752.4 637.8 L750.6 637.8 L752 637.8 L742.8 637.8 L737.8 637.8 L740.1 637.9 L756.6 637.9 L755.7 638 L741.4 638 L761.3 638.1 L756.8 638.1 L756.4 638.2 L753.7 638.2 L752.9 638.3 L730.5 638.3 L734.6 638.4 L727.8 638.4 L742.2 638.5 L735.3 638.5 L726.8 638.6 L720.9 638.6 L704.8 638.7 L713.5 638.7 L707.3 638.8 L718.3 638.8 L714.8 638.9 L706.3 638.9 L700 638.9 L709.2 639 L702.4 639 L713 639.1 L711.1 639.1 L708.8 639.2 L714 639.2 L725.9 639.3 L707.9 639.3 L720.6 639.4 L725.1 639.4 L721 639.5 L732.9 639.5 L732 639.6 L732.4 639.6 L723.5 639.7 L733.3 639.7 L724.6 639.8 L735.9 639.8 L751.2 639.9 L735.2 639.9 L745.5 640 L729.1 640 L731.3 640 L734.8 640.1 L719.8 640.1 L726.5 640.1 L719.5 640.2 L717.3 640.2 L725.2 640.2 L719.6 640.2 L720.1 640.2 L716.2 640.2 L716.3 640.3 L723.5 640.3 L716.8 640.3 L713 640.3 L714.8 640.3 L720.5 640.3 L720.7 640.4 L704 640.4 L714.3 640.4 L720.9 640.4 L737.4 640.4 L719.4 640.4 L716.5 640.5 L709.4 640.5 L714.5 640.5 L703.9 640.5 L707.1 640.5 L712.5 640.5 L703.8 640.6 L709.5 640.6 L707.7 640.6 L719.8 640.6 L724.6 640.6 L729.5 640.6" fill="none" stroke="#FF0000" stroke-width="1.5" stroke-linejoin="bevel" stroke-linecap="butt" opacity="0.2"/>
<path d="M737.8 847.2 L747.3 847.2 L754.3 847.2 L746.3 847.2 L739.3 847.1 L746.6 847.1 L752.6 847.1 L758.8 847.1 L745.1 847.1 L741.6 847 L754.9 847 L757.1 847 L765.3 847 L764.1 846.9 L756.9 846.9 L754.4 846.9 L774.1 846.9 L760.5 846.9 L754.7 846.8 L751.7 846.8 L760.3 846.8 L763.7 846.8 L762.1 846.7 L764.5 846.6 L768.3 846.5 L773 846.3 L777.9 846.2 L774 846.1 L760.3 846 L774.7 845.9 L764.8 845.8 L771.7 845.7 L765.5 845.6 L774.9 845.5 L773.1 845.3 L780.5 845.2 L804.5 845.1 L788.9 845 L792.2 844.9 L779.4 844.8 L784.4 844.7 L793.2 844.6 L791.4 844.5 L795.3 844.3 L795.5 844.2 L789.2 844.1 L799.4 844 L793.8 843.9 L811.7 843.8 L801.2 843.7 L807.8 843.6 L806 843.4 L813.1 843.3 L804.6 843.2 L811.5 843.1 L804.3 843 L810.7 842.9 L806.7 842.8 L801.1 842.7 L792.2 842.6 L799.2 842.4 L797.7 842.3 L804 842.2 L790.6 842.1 L793.3 842 L794.7 842 L794.2 842 L794.3 842 L794.8 842 L790.3 842 L787 842 L791.1 842 L799.5 842 L808.6 842 L807.9 842 L808.9 842 L807.6 842 L806.2 842 L802.1 842 L804.7 842 L811.9 842 L799.1 842 L793.1 842 L809.4 842 L801.5 842 L804.1 842 L803.8 842 L789.8 842 L810.2 842 L810.6 842 L799.5 842 L800.3 842 L796 842 L787.7 842 L790.6 842 L793.9 842 L799.1 842 L797 842 L791.5 842 L798.3 842 L785 842 L791.6 842 L794.8 842 L785.4 842 L772.3 842 L774.4 842 L782.1 842 L785.3 842 L792.1 842 L775.3 842 L776.9 842 L780.7 842 L775.1 842 L757.6 842 L773.7 842 L787 842 L780.3 842 L764.6 842 L763 842 L765.9 842 L781 842 L771 842 L764 842 L771 842 L763.4 842 L776 842 L762.9 842 L762.3 842 L771.4 842 L779.7 842 L777.6 842 L775.9 842 L761.6 842 L765.6 842 L767.6 842 L768.8 842 L776.9 842 L772.9 842 L779.8 842 L777 842 L773.6 842 L776.1 842 L779.1 842 L783 842 L775.1 842 L775 842 L767.5 842 L786 842 L789.9 842 L779.6 842 L774.6 842 L767.9 842 L775.5 842 L777.3 842 L790.9 842 L780.9 842 L771.1 842 L757 842 L779.4 842 L776.4 842 L763.1 842 L771.6 842 L761.3 842 L793 842 L784.6 842 L778.5 842 L771.5 842 L755.5 842 L763.2 842 L753.8 842 L764.3 842 L746.7 842 L749 842 L762.3 842.1 L766.9 842.1 L747.1 842.2 L738.1 842.2 L750.6 842.3 L751.8 842.3 L738.9 842.4 L740.3 842.5 L742.3 842.5 L741.2 842.6 L746.1 842.6 L762.1 842.7 L764 842.8 L775.5 842.8 L765.5 842.9 L764.4 842.9 L760.1 843 L766.5 843.1 L761.8 843.1 L759.1 843.2 L777 843.2 L788.2 843.3 L787.3 843.3 L791.1 843.4 L785.5 843.5 L778.2 843.5 L782.6 843.6 L781.3 843.6 L776.7 843.7 L772.3 843.8 L773.4 843.8 L784.4 843.6 L788.9 843.4 L786.6 843.2 L799.6 843 L795.1 842.8 L797.5 842.6 L803.9 842.5 L793 842.3 L783.8 842.1 L801.4 841.9 L797.4 841.7 L811.3 841.5 L809.6 841.3 L815 841.1 L816.1 840.9 L798.4 840.7 L814.4 840.5 L807.8 840.3 L805.2 840.1 L806.3 839.9 L814.2 839.7 L816.6 839.8 L817.6 839.9 L799.2 840 L801.4 840.1 L789.4 840.2 L801.4 840.3 L808.7 840.4 L800.8 840.5 L805.2 840.6 L805.8 840.7 L810.1 840.8 L796.9 840.9 L791.9 841 L789.6 841.1 L804.5 841.2 L802.1 841.3 L791.6 841.4 L789.8 841.5 L787 841.6 L785.3 841.8 L780.5 841.9 L776.8 842 L768 842.1 L768.4 842.2 L782.5 842.3 L776.9 842.4 L770.6 842.5 L765.6 842.6 L764.6 842.7 L764.7 842.8 L758.6 842.9 L765.5 843 L769.5 843.1 L765.8 843.2 L766.6 843.3 L767.4 843.4 L769.2 843.5 L785 843.6 L768.9 843.7 L781.1 843.8 L783.8 843.7 L786.5 843.6 L794 843.5 L805 843.5 L802.6 843.4 L802.5 843.3 L801.3 843.2 L806.4 843.1 L816.7 843.1 L812.5 843 L808.3 842.9 L807.8 842.8 L807.9 842.7 L805.8 842.6 L821.9 842.6 L820.7 842.5 L816.1 842.4 L826.3 842.3 L814.2 842.2 L820.6 842.2 L822.2 842.1 L806.5 842 L802.2 841.9 L805.2 841.8 L817.9 841.8 L823.2 841.7 L806.9 841.6 L817.8 841.5 L810.4 841.4 L807.9 841.3 L805.8 841.3 L806.3 841.2 L795.8 841.1 L798.3 841 L796.8 840.9 L807.7 840.9 L820.9 840.7 L828 840.6 L808.5 840.4 L795.9 840.3 L802.9 840.1 L802.2 840 L823.1 839.8 L819.9 839.7 L811.5 839.5 L821.9 839.4 L823 839.2 L809.8 839.1 L815.1 839 L819.6 838.8 L823.7 838.7 L826.7 838.5 L825.5 838.4 L829.9 838.2 L827.3 838.1 L826.1 837.9 L843.7 837.8 L841.8 837.6 L843.3 837.5 L831.4 837.3 L839.7 837.1 L849.9 836.8 L839.7 836.4 L854.9 836.1 L850.1 835.8 L853.1 835.5 L849.4 835.2 L850.2 834.9 L856.4 834.5 L846.3 834.2 L856.5 833.9 L842.4 833.6 L837.1 833.3 L846.3 833 L835.8 832.6 L837.2 832.3 L845.5 832 L848.9 831.7 L828.8 831.4 L838.5 831.1 L849.6 830.7 L846.9 830.4 L835.8 830.1 L829.8 829.8 L829.7 829.5 L823.1 829.1 L826.8 828.8 L827.5 828.5 L827.2 828.1 L835.4 827.8 L827.2 827.5 L816 827.1 L829.6 826.8 L819 826.5 L822.5 826.1 L827 825.8 L828.1 825.5 L825.4 825.2 L831.3 824.8 L850.7 824.5 L838.1 824.2 L839.6 823.8 L850 823.5 L851.5 823.2 L853.4 822.8 L855.3 822.5 L835.8 822.2 L838.1 821.8 L845.2 821.5 L849.1 821.2 L855.2 820.8 L850.8 820.5 L844.6 820.2 L844.6 819.8 L842.6 819.5 L844.9 819 L848.1 818.5 L841.7 818 L836.5 817.5 L834.6 817 L847.1 816.6 L851.2 816.1 L849.9 815.6 L848.4 815.1 L847.5 814.6 L841.3 814.1 L844.1 813.6 L834 813.1 L837.9 812.7 L835.9 812.2 L845.9 811.7 L840.2 811.2 L842.6 810.7 L847.2 810.2 L855.5 809.8 L843.6 809.3 L840.2 808.9 L852 808.4 L842.4 807.9 L851.3 807.5 L847.1 807 L849.9 806.5 L839.8 806.1 L855.3 805.6 L851.7 805.1 L849 804.7 L869.3 804.2 L865.9 803.8 L884.9 803.3 L869.4 802.8 L861.2 802.4 L863.1 801.9 L874.6 801.4 L867.1 801 L869.4 800.5 L871.2 800.1 L862.8 799.6 L868.5 798.8 L866.5 798 L861.8 797.2 L874.4 796.4 L875.5 795.5 L871.2 794.7 L862.9 793.9 L852.8 793 L866.7 792.2 L865.7 791.4 L854.1 790.6 L861.7 789.7 L853.1 788.9 L860.6 788.1 L863 787.2 L865.5 786.4 L866 785.6 L866.4 784.8 L858.2 783.9 L861.9 783.1 L862.5 782.3 L865.2 781.4 L869.9 780.6 L874 779.8 L881.2 778.8 L852.9 777.7 L864.7 776.7 L862.3 775.6 L877.3 774.5 L870.6 773.5 L850.1 772.4 L857.6 771.3 L852 770.2 L859.6 769.2 L846.3 768.1 L848.2 767 L847.2 765.9 L845.9 764.9 L841 763.8 L829.7 762.7 L840.8 761.7 L845.5 760.6 L837.7 759.5 L827.7 758.4 L831.8 757.4 L833.5 756.3 L827.3 755.2 L825.1 754.1 L832.6 753.1 L815.5 752.3 L813.4 751.4 L802 750.5 L805.7 749.6 L804.7 748.7 L801.2 747.9 L800.5 747 L815.5 746.1 L804 745.2 L800 744.4 L813.1 743.5 L799.7 742.6 L785.3 741.7 L796.1 740.8 L789.7 740 L805.4 739.1 L789.7 738.2 L790.2 737.3 L783.3 736.5 L793 735.6 L787.8 734.7 L792.8 733.8 L791.9 733 L789.9 732.1 L798.4 731.2 L799.3 730.3 L792.4 729.4 L783 728.5 L778.3 727.6 L785.1 726.7 L800 725.8 L783.2 724.9 L775.6 724 L773.1 723.1 L768.6 722.2 L767.1 721.3 L771.8 720.3 L783.7 719.4 L776.6 718.5 L771 717.6 L761.7 716.7 L771.5 715.8 L771.9 714.9 L763.5 714 L762 713.1 L768.3 712.2 L776.7 711.3 L775.9 710.4 L772.4 709.8 L767.6 709.3 L770.4 708.7 L767 708.2 L779.2 707.6 L758 707 L756.2 706.5 L765.1 705.9 L755.2 705.4 L762.4 704.8 L752.5 704.3 L749.6 703.7 L743.6 703.2 L733.5 702.6 L732 702.1 L751.6 701.5 L744.1 701 L740.2 700.4 L739.8 700.2 L735.4 700.2 L735.6 700.2 L725.2 700.2 L721.1 700.2 L726.6 700.2 L719.1 700.2 L711.9 700.2 L718.5 700.2 L718.9 700.2 L727.8 700.2 L721.9 700.2 L719 699.9 L724.1 699.3 L739.1 698.6 L732.9 698 L733.7 697.4 L733.7 696.8 L736.4 696.2 L742 695.5 L747.2 694.9 L728.4 694.3 L744.8 693.7 L740.2 693 L737.5 692.4 L756 691.8 L743.7 691.2 L755.7 690.4 L752.6 689.4 L738.9 688.5 L746.4 687.5 L750.6 686.5 L746.4 685.5 L730.3 684.6 L738.5 683.6 L740.5 682.6 L733.9 681.6 L751.1 680.7 L740.4 679.7 L735.7 678.9 L734.2 678.7 L729.6 678.4 L727.5 678.2 L731.9 678 L733.5 677.7 L727.3 677.5 L727.7 677.2 L717.9 677 L727.5 676.8 L720.1 676.5 L723.7 676.3 L715.9 676.1 L715.5 675.8 L719.3 675.6 L709.5 675.4 L730.9 675.7 L718.2 676 L713.6 676.2 L706.9 676.5 L720 676.8 L720.7 677 L712.4 677.3 L697.9 677.6 L699.1 677.8 L702.8 678.1 L692.6 678.3 L682 678.6 L675.9 678.9 L673.7 679.8 L675 681 L667.4 682.2 L666.6 683.4 L681.8 684.6 L680.4 685.8 L661.9 687 L667.4 688.2 L667.9 689.3 L667.3 690.5 L676 691.7 L669.7 692.9 L668.9 694.1 L669.2 695.3 L672 696.2 L682.9 697 L683 697.8 L669.5 698.7 L673 699.5 L672.3 700.4 L683.9 701.2 L683.6 702 L688.9 702.9 L682.9 703.7 L667.7 704.5 L679.1 705.4 L679.5 706.2 L680.6 707 L667.7 707.9 L672.9 708.7 L668.1 709.5 L666 710.4 L671.6 711.2 L672.1 712.1 L662.9 712.9 L653.5 714 L644.2 715.4 L653.2 716.7 L665.3 718.1 L658.7 719.4 L640.5 720.7 L643.8 722.1 L651.7 723.4 L660.5 724.8 L659.6 726.1 L655.6 727.4 L654.7 728.8 L647.1 730.1 L650.5 731.5 L653.4 732.8 L652.4 734.1 L659 735.5 L658.8 736.8 L664.9 738.2 L675.1 739.5 L674.1 740.8 L672.9 742.2 L669.4 743.5 L661 744.9 L669.7 746 L677.5 746.9 L670.1 747.7 L684 748.6 L675.3 749.4 L677.1 750.3 L672 751.1 L663.6 752 L683.2 752.9 L665.3 753.7 L674.2 754.6 L665.5 755.4 L668.2 756.3 L660.7 757.1 L660.6 758 L668.8 758.8 L677 759.7 L659.2 760.5 L659.7 761.4 L665.1 762.2 L654.7 763.1 L660.1 763.9 L650.2 764.8 L656.2 765.7 L655.4 766.5 L659.5 767.4 L653.6 768.3 L640.5 769.2 L648.8 770.1 L637.8 771 L646.6 771.9 L652.9 772.8 L647.2 773.7 L636.9 774.6 L645.1 775.5 L639.2 776.4 L627 777.3 L631.3 778.2 L645 779.1 L637.4 780 L639 780.9 L636.9 781.8 L627.9 782.7 L634.3 783.6 L642.5 784.5 L644.1 785.5 L642.6 786.4 L629.6 787.3 L649.8 788.2 L652 788.8 L655.3 789.4 L658.7 790 L648.3 790.6 L645.3 791.2 L651.4 791.8 L662.8 792.4 L643.5 793 L649.2 793.6 L645.4 794.2 L651.1 794.8 L656.9 795.4 L644.5 796.1 L633.2 796.7 L637.3 797.3 L634.3 797.9 L623.1 798.5 L635 799.1 L628.9 799.7 L636.6 800.3 L625.6 800.9 L639.9 801.5 L626.9 802.1 L641.3 802.7 L626.1 803.3 L644.7 803.9 L638.1 804.5 L629.1 805.1 L636.5 805.7 L642.9 806.3 L636.5 806.8 L639.3 807.2 L646.3 807.7 L646.1 808.1 L627.5 808.5 L641.8 808.9 L652.2 809.3 L655 809.7 L661.6 810.1 L652.8 810.6 L673.7 811 L668.1 811.4 L664.4 811.8 L669.8 812.2 L671.3 812.6 L667 813 L662 813.5 L673 813.9 L672.4 814.3 L656.8 814.7 L658.6 815.1 L670.1 815.5 L671 815.9 L672.8 816.4 L676.1 816.7 L673.9 817 L683.5 817.3 L671.6 817.5 L670.3 817.8 L675.2 818.1 L679.7 818.4 L681.5 818.6 L687.2 818.9 L675.6 819.2 L684.3 819.5 L682.1 819.7 L672.1 820 L678 820.3 L696.5 820.5 L694.2 820.7 L687 820.5 L673.9 820.3 L683.9 820 L688.5 819.8 L696.8 819.6 L716 819.3 L712 819.1 L710 818.9 L702.9 818.7 L701.3 818.4 L709.4 817.4 L711.5 816.3 L735.4 815.2 L718.5 814.1 L713.1 813 L723.9 811.9 L719.7 810.8 L710.1 809.7 L725.1 808.6 L718.3 807.5 L709.9 806.4 L719.4 805.3 L723.2 804.2 L718.8 803.1 L725 802.1 L727.7 801.1 L717.1 800.2 L705.5 799.2 L699.6 798.2 L712.9 797.2 L724.7 796.3 L725.4 795.3 L727.5 794.3 L730.5 793.3 L718.1 792.4 L721.3 791.4 L703.9 790.8 L713.9 790.3 L713.7 789.8 L709.6 789.4 L705.6 788.9 L699.3 788.4 L705.5 787.9 L714.1 787.4 L704.4 786.9 L708.8 786.4 L702.7 785.9 L708.2 785.5 L701.8 785 L710.4 784.5 L709.2 784 L713.4 783.5 L708.9 783 L704.7 782.5 L710.2 782 L721.6 781.6 L728.9 781.1 L718.6 780.6 L724.5 780.1 L726.4 779.6 L725.2 778.4 L712.5 776.7 L722.8 775 L717.4 773.3 L731.4 771.5 L733 769.8 L731.8 768.1 L708.9 766.4 L723.6 764.7 L726.8 763 L713.2 761.3 L724.1 759.5 L719.8 757.8 L715.9 756.1 L710.4 754.4 L705.9 753.3 L707.8 752.9 L731.2 752.5 L716.5 752.2 L711.9 751.8 L703.9 751.5 L700.8 751.1 L698.5 750.8 L694 750.4 L703 750.1 L695.8 749.7 L699.9 749.4 L685.5 749 L694.3 748.7 L688.3 749.4 L689.7 750 L683.1 750.6 L674.4 751.2 L684.7 751.9 L674.4 752.5 L672 753.1 L665.4 753.7 L672.6 754.4 L671.3 755 L676.4 755.6 L678.9 756.3 L673.4 756.9 L667.9 757.5 L679.9 758.1 L687.1 758.8 L688.2 759.3 L676.8 759.6 L686.7 759.9 L688.5 760.2 L689.2 760.4 L691.2 760.7 L687.4 761 L691 761.3 L697.5 761.5 L690.2 761.8 L681.2 762.1 L687.5 762.3 L690.7 762.6 L677.1 762.9 L681.2 763.2 L690.3 763.4 L687.1 763.9 L687.5 764.4 L677.9 764.8 L689.8 765.3 L698 765.8 L686.3 766.2 L679.3 766.7 L674.2 767.2 L686.4 767.6 L686.2 768.1 L681.9 768.6 L696.3 769 L698.6 769.5 L699.8 770 L685.9 770.5 L695.4 770.1 L704.5 769.7 L696 769.2 L710.2 768.7 L719 768.2 L716.6 767.7 L703 767.2 L698.7 766.7 L707.8 766.2 L709.4 765.8 L710.4 765.3 L709.4 765.4 L699.2 765.6 L693.6 765.8 L681.3 766 L695.1 766.2 L707.7 766.4 L691.2 766.6 L685.5 766.8 L690 767 L687.7 767.2 L673.7 767.3 L673 767.5 L668.7 768.3 L687.2 769.1 L671.6 770 L676.8 770.9 L683.8 771.7 L683.7 772.6 L679 773.5 L679.2 774.3 L661 775.2 L663.3 776.1 L662 776.9 L665.5 777.8 L686.9 778.7 L663.9 779.5 L674.1 780.4 L665.3 781.3 L681.3 781.9 L685.9 782.3 L675.5 782.7 L691.3 783.1 L682.4 783.5 L689.4 783.9 L685.2 784.3 L679 784.7 L679.5 785.1 L682.2 785.4 L688.6 785.8 L687.7 786.2 L703.4 786.6 L690.8 787 L686.6 787.4 L683.7 787.8 L680.1 788.2 L672.9 788.6 L672.4 789 L683.3 789.3 L678.4 789.7 L673.8 790.1 L674.4 790.5 L677.6 790.9 L673.5 791.3 L671.7 792 L660.4 792.7 L657.8 793.3 L651.8 794 L653.1 794.7 L646.7 795.4 L646.3 796 L645.8 796.7 L643.5 797.4 L640.8 798 L636.8 798.7 L646.4 799.4 L639.3 800 L633.9 800.7 L641.7 801.4 L635.8 802 L635.4 802.7 L644 803.4 L635.2 804 L623.4 804.7 L645.1 805.4 L656.6 805.9 L642 806.4 L644.5 806.9 L656 807.3 L642.4 807.8 L647.5 808.3 L647.4 808.8 L655.1 809.3 L645.9 809.8 L664 810.3 L662.4 810.8 L665.9 811.2 L663.4 811.7 L651.5 812.2 L662.8 812.7 L658.5 813.2 L667.5 813.7 L664.8 814.2 L668.7 814.7 L671.3 815.1 L679.5 815.6 L682.4 816.1 L672 816.6 L677.1 817.1 L689.3 817.3 L686.7 817.5 L678.6 817.7 L681.5 817.8 L681.5 818 L691.1 818.2 L688.1 818.3 L690.5 818.5 L704.4 818.6 L684.3 818.8 L682.5 819 L678 819.1 L678.7 819.3 L696.3 819.5 L697.7 819.6 L707.9 819.8 L686.8 819.9 L689.7 820.1 L707.1 820.3 L709.4 820.4 L709.8 820.6 L710.6 820.8 L705.9 820.9 L705.3 821.1 L706.2 821.2 L712.8 821.2 L708.4 820.7 L711.4 820.1 L720.6 819.6 L706.2 819 L705.7 818.5 L714.6 817.9 L711.4 817.3 L711.6 816.8 L727.2 816.2 L719.8 815.7 L712.6 815.1 L721.3 814.6 L733.3 814 L711.9 813.4 L709.8 812.8 L714.8 812.1 L710.3 811.4 L725.7 810.7 L716.4 810 L705.8 809.3 L707.2 808.6 L696.8 807.9 L693.5 807.3 L695.5 806.6 L709.5 807 L679.5 807.4 L688.1 807.9 L694.6 808.3 L690.1 808.7 L695 809.1 L684.2 809.5 L677.9 809.9 L675.5 810.4 L670.4 810.8 L686.4 811.2 L671.7 811.6 L675.6 812 L674.2 812.4 L672.5 812.9 L662.7 813.3 L673.1 813.7 L679.6 813.7 L681.7 813.8 L687.3 813.9 L682.3 813.9 L678.2 814 L684 814.1 L688.2 814.1 L679 814.2 L672.9 814.3 L675.2 814.3 L690.3 814.4 L694 814.5 L682.5 814.5 L686.8 814.6 L693.2 814.7 L699.7 814.7 L689.1 814.8 L690.7 814.8 L703.6 814.9 L714.9 814.9 L713.1 814.9 L695.8 814.9 L703.6 814.9 L701.8 814.9 L704.3 814.9 L702.1 814.9 L704.1 814.9 L709.2 814.9 L724.1 814.9 L721.6 814.9 L720.4 814.9 L718.8 814.9 L714.4 814.9 L718.1 813.4 L730.4 811.3 L732 809.3 L741.4 807.2 L733.5 805.2 L730.9 803.1 L719.5 801.1 L730.1 799 L718.2 797 L737.3 794.9 L727.3 792.9 L729 790.8 L720.1 789.2 L723.6 787.7 L721.5 786.3 L734.8 784.9 L732.1 783.4 L721.6 782 L712.1 780.6 L719.6 779.1 L716.3 777.7 L708.8 776.3 L716 775.3 L710.2 775.4 L708.3 775.5 L700.7 775.5 L696.5 775.6 L693.8 775.7 L682.9 775.8 L693 775.9 L693.1 776 L679.5 776.1 L688.8 776.1 L698.6 776.2 L695.1 776.3 L701.7 776.4 L693 776.5 L693 776.6 L684.5 776.6 L685.3 776.7 L679.6 776.8 L684.8 776.9 L694.1 777 L698.6 777.1 L704.4 777.1 L699.2 777.2 L690.5 777.3 L698.3 777.4 L696.7 777.5 L709.7 777.6 L714.4 777.6 L709.1 777.7 L693.8 777.8 L694.5 777.9 L699.8 778 L695.3 778.1 L702.9 778.1 L706.5 778.1 L710.4 777.2 L709 776.3 L702.7 775.4 L703.1 774.5 L709.7 773.7 L722.9 772.8 L729.6 771.9 L728.8 771 L726.1 770.1 L729.3 769.2 L732.7 768.3 L738.4 767.4 L738.6 766.6 L724 764.2 L739 761.5 L740.5 758.8 L736.8 756.1 L744.2 753.4 L741.7 750.6 L736.8 747.9 L722.7 745.2 L729.6 742.5 L732.5 739.8 L727.3 737.1 L713.7 735.1 L722.4 733.1 L724.5 731.2 L723.4 729.2 L726.4 727.3 L723.3 725.3 L721.9 723.4 L731.1 721.4 L728.8 719.5 L733.4 717.5 L756.8 715.6 L746.9 713.6 L741.9 711.7 L730.2 709.7 L740.4 707.8 L748.9 705.6 L742.5 703.5 L745.6 701.3 L732.5 699.1 L748 696.9 L743.9 694.7 L751.4 692.5 L757.7 690.3 L748.7 688.1 L754.1 685.9 L750.2 683.7 L746 681.5 L744.2 679.9 L739.7 678.6 L752.9 677.2 L753.3 675.9 L740.4 674.6 L749.6 673.3 L739.3 672 L728.7 670.7 L742 669.3 L726 668 L736.4 666.7 L729.8 665.4 L730.6 664.4 L725.7 663.6 L726.4 662.8 L720.1 662 L720.4 661.2 L718 660.5 L723 659.7 L714 658.9 L721.2 658.1 L726.2 657.3 L716.6 656.6 L717.5 655.8 L711.1 655.2 L710.8 654.9 L714.4 654.7 L711 654.4 L706.3 654.1 L710.8 653.8 L713.3 653.6 L714.6 653.3 L717.5 653 L701.4 652.7 L719.6 652.5 L713.9 652.2 L708.8 651.9 L710.7 651.7 L717.2 651.4 L722.1 651.1 L715.4 650.7 L717.8 650.2 L706.9 649.8 L716.6 649.4 L717.6 649 L716.1 648.6 L725.2 648.2 L734.1 647.8 L731.6 647.3 L719.1 646.9 L732.1 646.5 L723.1 646.1 L723.4 645.7 L720.2 645.3 L726.9 644.9 L729.7 644.4 L728.1 644 L725.6 643.6 L724.1 643.2 L721.1 642.8 L728.7 642.4 L719.6 642 L718.9 641.5 L717.4 641.1 L712.5 641.1 L713.9 641.1 L704.9 641.1 L714.5 641.1 L716.9 641.1 L710.9 641.1 L724.1 641.1 L713 641.1 L721.1 641.1 L724.2 641.1 L719.7 641.1 L722.2 641.1 L732.1 640.7 L730.5 640.3 L733.2 639.9 L743 639.4 L739.1 639 L726.9 638.5 L729.5 638.1 L740.1 637.7 L735.6 637.2 L727.6 636.8 L718.9 636.4 L731.8 635.9 L742.4 635.5 L725.9 635 L715 634.6 L729.8 634.2 L725.9 633.7 L726.1 633.3 L725.4 632.8 L720.7 632.4 L728.1 632 L733.5 631.5 L731.6 631.1 L725.2 630.6 L734.8 630.3 L729.9 630 L733.7 629.7 L724.8 629.4 L733.7 629.1 L736.9 628.8 L741.8 628.5 L734.9 628.3 L736.3 628 L730.2 627.7 L738.9 627.4 L740.8 627.1 L743.7 626.8 L734.9 626.5 L727.5 626.2 L733.8 625.9 L734.8 625.6 L731.8 625.3 L740.9 625 L746.4 624.7 L745 624.5 L750.4 624.2 L747.8 623.9 L738.9 623.6 L740.2 623.3 L743 623 L751.6 622.7 L756.2 622.4 L753 622.1 L759 621.8 L749.1 621.5 L752.3 621.2 L764.8 620.9 L761.8 620.6 L766 620.4 L748.2 620.1 L746.2 619.7 L752 619.4 L766.9 619 L775.7 618.6 L763.7 618.2 L759.2 617.8 L758.4 617.4 L758.3 617 L767.5 616.6 L763.6 616.2 L776.9 615.8 L772.1 615.5 L761.1 615.1 L764.1 614.7 L761.8 614.3 L767.2 613.9 L768.9 613.5 L760.5 613.1 L766.3 612.7 L765.2 612.3 L760.1 611.9 L760.7 611.6 L763.3 611.5 L756.9 611.4 L752.5 611.3 L764 611.2 L758 611.2 L752.1 611.1 L757.3 611 L745.2 610.9 L752 610.8 L743.9 610.7 L747.7 610.7 L739.1 610.6 L745.4 610.5 L758.7 610.4 L755.7 610.3 L749 610.2 L767.9 610.2 L757.7 610.1 L770.2 610 L760.8 609.9 L753.1 609.8 L774.2 609.6 L765.2 609.4 L771.8 609.2 L777.2 609 L762.8 608.7 L769.3 608.5 L767.6 608.3 L775.9 608.1 L774.8 607.9 L767.1 607.6 L774.9 607.4 L782.4 607.2 L777.2 607 L781.4 606.8 L775 606.5 L776.5 606.3 L779.5 606.1 L778.7 605.9 L785.9 605.7 L785.5 605.5 L784.6 605.2 L783.4 605 L779.2 604.8 L769.3 604.6 L781.5 604.4 L789 604.1 L780.7 603.9 L776.9 603.7 L779.6 603.5 L790.6 603.3 L789.1 603.1 L782.2 602.9 L787.9 602.6 L787.3 602.4 L792.9 602.2 L791.6 602 L793.4 601.8 L811.5 601.6 L815 601.4 L799.5 601.1 L800.3 600.9 L804.7 600.7 L807 600.5 L801.7 600.3 L816.1 600.1 L803.9 599.9 L816.9 599.6 L820.9 599.4 L815.5 599.2 L813 599 L817.8 598.8 L820.4 598.6 L806.8 598.4 L809.8 598.1 L822.5 598 L820.3 598.1 L816.9 598.2 L811.4 598.2 L811.2 598.3 L810 598.4 L832.5 598.4 L810.5 598.5 L822.7 598.6 L818 598.7 L814.3 598.7 L812.4 598.8 L807.4 598.9 L818.5 599 L813.3 599 L807.6 599.1 L804.8 599.2 L805.4 599.3 L795.9 599.3 L798.2 599.4 L796 599.5 L803.1 599.5 L805.6 599.6 L790.4 599.7 L798 599.7 L808.5 599.6 L796.5 599.4 L794.7 599.2 L809.3 599.1 L806 598.9 L803.5 598.7 L798.3 598.5 L806.8 598.4 L804.6 598.2 L809.6 598 L812.9 597.8 L816 597.7 L810.5 597.5 L808.3 597.3 L812 597.1 L812.5 597 L815 596.8 L811.5 596.6 L814.2 596.5 L814.2 596.3 L815.6 596.1 L822.5 595.9 L832.3 595.8 L825.1 595.6 L832.2 595.4 L833.9 595.2 L834.3 595.1 L837.7 595.1 L829.9 595.2 L835 595.3 L834.2 595.4 L808.4 595.5 L827.2 595.5 L833.1 595.6 L843.2 595.7 L825.4 595.8 L828.2 595.9 L830.3 596 L821.6 596.1 L833.5 596.2 L831.2 596.3 L821.9 596.3 L815.1 596.4 L816.4 596.5 L833.2 596.6 L833.9 596.7 L801.2 596.8 L795.4 596.9 L808.4 597 L804.5 597.1 L797.9 597.1 L802.5 597.2 L798.2 597.3 L796.4 597.4 L795.8 597.5 L788 597.6 L802.9 597.7 L795.8 597.8 L805.5 597.9 L805.9 597.9 L802.6 597.9 L803.3 597.9 L803.2 597.8 L792.1 597.7 L800.3 597.6 L808.3 597.5 L797.6 597.4 L796.7 597.3 L814.5 597.2 L818 597.1 L804.1 597.1 L814.9 597 L815.1 596.9 L822.9 596.8 L817.1 596.7 L817.3 596.6 L814.7 596.5 L821.2 596.4 L821.6 596.4 L819.1 596.3 L821.5 596.2 L820.3 596.1 L830.1 596 L822.4 595.9 L817.9 595.8 L821.6 595.7 L837.1 595.6 L831 595.6 L836.6 595.5 L838.4 595.4 L830.3 595.3 L836.5 595.2 L836.2 595.1 L832.2 595 L826.5 595.1 L829.2 595.1 L821.5 595.2 L826 595.2 L824.9 595.3 L831.2 595.3 L831.9 595.3 L825.3 595.4 L833.5 595.4 L837.5 595.5 L830.7 595.5 L823.4 595.6 L829.7 595.6 L811.3 595.6 L818.9 595.7 L828.4 595.7 L840.1 595.8 L824.4 595.8 L832.9 595.9 L838 595.9 L834.1 595.9 L802.4 596 L815.4 596 L810.3 596.1 L812.2 596.1 L802.4 596.2 L794.8 596.2 L793.2 596.4 L802.1 596.6 L797.7 596.8 L788.9 597 L791.1 597.3 L794.7 597.5 L793.4 597.7 L788.7 597.9 L783.2 598.1 L781 598.3 L782.3 598.5 L781.6 598.8 L774.3 599 L773.3 599.2 L788.3 599.4 L777.6 599.6 L772.4 599.8 L778.6 600 L789 600.3 L789.3 600.5 L777 600.7 L768.7 600.9 L768.9 601.1 L765.3 601.3 L765.7 601.5 L771.7 601.8 L761.7 602 L760 602.2 L762 602.4 L763 602.6 L758.3 602.7 L757.8 602.8 L756 602.8 L758.6 602.9 L768.5 602.9 L766.3 603 L747 603 L767.9 603.1 L769.1 603.1 L764.5 603.2 L768.1 603.2 L750.9 603.3 L756.4 603.3 L777.4 603.4 L789.7 603.4 L793.7 603.5 L775.6 603.5 L776.8 603.6 L782.7 603.6 L771.2 603.7 L789 603.7 L777.3 603.8 L782.2 603.8 L773.9 603.9 L782.1 603.9 L780.6 604 L787 604 L772.7 604.1 L776.2 604.1 L788.8 604.2 L770.9 604.2 L776.2 604.3 L777.4 604.3 L770.7 604.3 L769.9 604.4 L780.4 604.4 L780.3 604.5 L774.5 604.8 L769.5 605.1 L757.1 605.4 L760.7 605.7 L771.6 606 L767.7 606.3 L748.8 606.6 L737.6 606.9 L742.8 607.2 L748.1 607.5 L743 607.8 L741.8 608.1 L745.6 608.3 L749.6 608.6 L745.2 608.9 L750.5 609.2 L733 609.5 L740.8 609.8 L741.8 610.2 L728.3 610.7 L742.9 611.1 L726.5 611.5 L722.8 611.9 L749.1 612.3 L745.7 612.8 L737.9 613.2 L741.9 613.6 L740.8 614 L724.4 614.5 L730.6 614.9 L737.7 615.3 L728.1 615.7 L726.7 616.1 L722 616.6 L728.3 617 L720.4 617.4 L719.4 617.7 L716 618 L718.2 618.3 L727.6 618.5 L732.8 618.8 L729.3 619.1 L724.9 619.3 L734.4 619.6 L737.9 619.9 L746.1 620.2 L737.2 620.4 L736.6 620.7 L743.8 621 L753.6 621.3 L746.3 621.5 L745.3 621.4 L740.3 621 L744 620.6 L751.3 620.2 L748.7 619.9 L746.5 619.5 L723.9 619.1 L731.9 618.7 L718.5 619.5 L722.3 620.7 L699.7 621.8 L706.3 622.9 L699.3 624 L709 625.1 L705.6 626.2 L715.7 627.3 L708.5 628.1 L725.5 628.1 L715.5 628 L731.3 627.9 L721.2 627.9 L717.6 627.8 L731.8 627.8 L728.8 627.7 L732.6 627.7 L727 627.6 L734.8 627.6 L742.1 627.2 L740.6 626.5 L750 625.8 L736.2 625.1 L756.9 624.3 L755.4 623.6 L769 622.9 L758.8 622.1 L753.8 621.4 L753.4 620.7 L757.9 619.9 L760.7 619.2 L753.7 618.6 L749.2 618.4 L756.1 618.3 L760 618.1 L742.9 617.9 L743 617.8 L745.1 617.6 L761.6 617.4 L761.9 617.2 L758.6 617.1 L755.2 616.9 L742.8 616.7 L754.8 616.5 L747.5 616.4 L743.5 616.2 L761.5 616 L742.9 615.8 L758 615.7 L753.8 615.5 L745.3 615.3 L751 615.2 L745.6 615 L751.6 614.8 L747.6 614.6 L743 614.5 L766.6 614.3 L749.6 614.1 L754.4 613.9 L747.2 614.3 L749.2 614.6 L735.2 614.9 L731.9 615.2 L714.6 615.6 L738.4 615.9 L739.4 616.2 L727.2 616.5 L736.8 616.9 L736.3 617.2 L751.1 617.5 L735 617.8 L734.5 618.2 L731 618.5 L730.1 618.8 L723.5 619.1 L718.2 619.5 L723.8 619.8 L727.8 620.4 L711.4 621 L706.6 621.7 L712 622.3 L725.2 623 L713.7 623.6 L699.7 624.3 L712.5 624.9 L714.5 625.6 L722.2 626.2 L711.2 626.9 L719.8 627.5 L702.5 628.2 L708.4 628.8 L703.7 629.5 L691.4 630.1 L692.4 630.8 L701.6 631.4 L700.3 632.3 L687.5 633.3 L692.5 634.3 L690.2 635.4 L687.4 636.4 L680.4 637.4 L679.3 638.4 L673.1 639.4 L678.2 640.4 L682.1 641.4 L678.5 642.5 L682.1 643.5 L687.5 644.5 L690.5 645.5 L698.4 646.5 L687.4 647.3 L690.4 648 L697.1 648.6 L695.1 649.2 L699.7 649.8 L695.8 650.4 L706.5 651.1 L699.9 651.7 L692.4 652.3 L703.9 652.9 L713.5 653.5 L691.6 654.2 L698.9 654.8 L702.5 655.3 L710.4 655.1 L716 654.9 L706.4 654.7 L694.8 654.5 L707.6 654.2 L713.5 654 L711.7 653.8 L709 653.6 L702.6 653.4 L723.7 653.2 L704.4 653 L697.9 652.8 L713.7 652.6 L713.4 652.4 L716.3 652.2 L715.3 652 L724.2 651.8 L723.2 651.6 L708.2 651.4 L714.1 651.2 L699.5 651 L691.1 650.8 L707.9 650.6 L699.8 651 L684.9 651.4 L694.7 651.8 L691.6 652.2 L697.8 652.6 L694.4 653 L687.5 653.4 L685.1 653.7 L693.7 654.1 L686.7 654.5 L693.9 654.9 L689.6 655.3 L700.1 655.7 L713.5 656.1 L710.1 656.5 L714.7 655.7 L712.9 655 L704.4 654.2 L708.4 653.4 L713.6 652.6 L719.1 651.8 L714.9 651.1 L723.9 650.3 L718.6 649.5 L721.1 648.7 L720 647.9 L710.8 647.2 L722.2 647 L717.4 647 L715.6 647 L713 647 L697.1 647 L696.8 647 L699.2 647 L711.6 647 L702.9 647 L707.7 647 L696.6 647 L694 647 L695 647.5 L704.8 648.3 L687.8 649 L692.7 649.7 L697.1 650.4 L695.4 651.1 L693 651.8 L697 652.5 L693.7 653.2 L683.1 653.9 L690.8 654.6 L682.1 655.4 L683.5 656.1 L697.3 656.8 L708.4 657.5 L705.3 658.2 L698.4 658.9 L689.4 659.6 L688.1 660.3 L705.3 661 L701.4 661 L689.6 660.8 L707.8 660.5 L706.5 660.3 L712.1 660 L708.2 659.8 L690.5 659.5 L696.8 659.3 L703.3 659 L705.7 658.8 L718.7 658.5 L707.9 658.3 L710 658 L712.6 657.7 L715.8 657.5 L712.6 657.2 L713.1 656.6 L706.4 655.3 L727.2 654 L731.2 652.7 L737.5 651.4 L732.9 650.1 L741.5 648.7 L739.5 647.4 L741.2 646.1 L752.7 644.8 L757.9 643.5 L759.5 642.2 L756.3 640.9 L753.9 639.6 L766.1 638.3 L768.8 637 L757.3 635.7 L752 634.3 L761.4 633 L764 631.7 L756.9 630.4 L777.7 629.2 L753.7 628.4 L756.9 627.7 L765.8 627 L773.8 626.2 L757 625.5 L763.2 624.7 L778.3 624 L782.5 623.2 L772.9 622.5 L773.2 621.7 L767.6 621 L775.6 620.2 L765.7 619.5 L755.1 618.7 L754.6 618 L763.9 617.2 L755.4 616.5 L768.6 615.7 L771.7 615.6 L769.2 615.4 L764.8 615.3 L765.6 615.2 L758.5 615 L759.5 614.9 L757.8 614.8 L759.9 614.6 L748.5 614.5 L748.4 614.4 L746.5 614.2 L758.8 614.1 L760.1 613.9 L751.9 613.8 L748.8 613.7 L751.3 613.5 L762.2 613.4 L758.5 613.3 L757.1 613.1 L754 613 L757.5 612.9 L770.5 612.7 L758.5 612.6 L758.2 612.4 L772.6 612.3 L769.8 612.2 L756.8 612 L769.2 611.9 L756.6 611.8 L766.3 611.6 L748 611.4 L754.3 611.3 L769.4 611.1 L763.2 610.9 L761.1 610.7 L766.3 610.5 L767.7 610.3 L765.2 610.1 L763.5 609.9 L780.4 609.7 L783 609.5 L776 609.3 L764 609.1 L764.8 608.9 L766.3 608.7 L771.6 608.5 L780.3 608.3 L767.6 608.1 L768.6 607.9 L764.6 607.7 L767.1 607.5 L761.8 607.4 L767.4 607.2 L773.8 607 L764.4 606.9 L762.2 606.9 L764.3 606.9 L754.7 607 L773.4 607 L756.1 607 L758.2 607.1 L754.8 607.1 L769.9 607.1 L759.7 607.2 L756.7 607.2 L772 607.2 L762 607.3 L755.5 607.3 L759.5 607.3 L762.2 607.4 L756.8 607.4 L759.7 607.4 L760.5 607.4 L767.5 607.5 L769.9 607.5 L771.3 607.5 L765.4 607.6 L770.6 607.6 L765.3 607.6 L773.7 607.7 L771 607.7 L765 607.7 L775.1 607.8 L759.2 607.8 L759.3 607.8 L760.9 607.9 L766.2 607.9 L760.3 607.9 L759.4 608 L754.8 608 L767.7 608 L765.7 607.9 L786.1 607.7 L782.2 607.5 L768.7 607.4 L782.9 607.2 L778.8 607 L785.1 606.9 L772.4 606.7 L785.4 606.5 L788.9 606.4 L780.1 606.2 L775.6 606 L778.4 605.8 L784.2 605.7 L800.9 605.5 L801.7 605.3 L800.5 605.2 L789.1 605 L786.1 604.8 L790.8 604.7 L788.3 604.5 L787 604.3 L789.1 604.2 L797.5 604 L794.1 603.8 L796 603.7 L793.7 603.5 L794.3 603.3 L794.2 603.2 L805.7 603 L800.5 602.8 L806.7 602.7 L795.9 602.5 L800.6 602.3 L784.1 602.2 L785.6 602 L787.4 601.8 L782.9 601.7 L784.3 601.5 L778.1 601.3 L780.8 601.2 L777 601 L779.7 601 L777.4 601.2 L771.2 601.3 L772.7 601.4 L775.2 601.6 L766 601.7 L772.2 601.9 L780.7 602 L771.8 602.1 L774 602.3 L774.1 602.4 L763.5 602.6 L774.4 602.7 L784.4 602.8 L761.8 603 L776.9 603.1 L760.3 603.3 L770 603.4 L749.3 603.5 L763.5 603.7 L759.4 603.8 L747.9 604.1 L747.3 604.5 L744.9 604.9 L744.5 605.3 L752.3 605.7 L749.7 606.1 L732.3 606.6 L742.2 607 L749.1 607.4 L747.5 607.8 L757.3 608.2 L734.8 608.6 L742.6 609 L742.3 609.5 L746.2 609.9 L732.2 610.3 L728.2 610.7 L734.1 611.1 L736.5 611.5 L723.4 611.9 L734.2 612.4 L733.7 612.8 L738.4 613.2 L716.3 613.6 L731.7 614 L725.7 614.1 L726.7 614.3 L735.1 614.5 L743.1 614.6 L734.2 614.8 L729.8 615 L738.1 615.1 L724.7 615.3 L726.1 615.5 L723.6 615.6 L719.4 615.8 L726.1 616 L741.5 616.1 L733.8 616.3 L734.3 616.5 L731.6 616.6 L739.5 616.8 L735.8 617 L728.3 617.1 L733.9 617.3 L745.1 617.5 L738.3 617.4 L746 617.3 L740 617.2 L753.6 617.1 L745.8 616.9 L747.1 616.8 L741.7 616.7 L748.8 616.6 L744 616.5 L735 616.4 L745.7 616.3 L738.7 616.2 L756.1 616.1 L756.5 616 L752 615.9 L756.2 615.8 L735.5 615.6 L759.3 615.5 L751 615.4 L758.7 615.3 L774.3 615.2 L748.6 615.1 L749.1 615 L753.4 614.9 L753.9 614.8 L738.6 614.7 L738.8 614.6 L754.4 614.7 L742.9 614.9 L746.9 615.1 L733.7 615.4 L732.5 615.6 L724.9 615.8 L736.2 616.1 L744.1 616.3 L737.7 616.5 L732.5 616.7 L733.7 617 L734.5 617.2 L729.2 617.4 L733.8 617.6 L744.6 617.9 L749.1 618.1 L731.1 618.3 L721.9 618.6 L741.3 618.7 L739.8 618.8 L741 618.9 L737.1 619.1 L730.5 619.2 L737.1 619.3 L739.7 619.4 L740.7 619.5 L725.5 619.6 L736.2 619.7 L729.4 619.8 L727.7 619.9 L732.1 620 L728.4 620.1 L745.7 620.2 L738 620.4 L734.1 620.5 L730 620.6 L732 620.7 L729.2 620.8 L734 620.9 L737.4 621 L738.6 621.1 L725 621.2 L728.4 621.3 L732.5 621.4 L725.1 621.5 L734.6 621.6 L733.9 621.6 L735.6 621.5 L738.6 621.5 L733 621.5 L746.9 621.4 L747.3 621.4 L737 621.3 L741.9 621.3 L745.4 621.3 L736.5 621.2 L737.5 621.2 L745.4 621.1 L725.4 621.1 L729.5 621.1 L742.2 621 L747.9 621 L739.2 621 L749.5 620.9 L760.5 620.9 L748.9 620.8 L743.7 620.8 L742.5 620.8 L734.2 620.7 L742.2 620.7 L741.1 620.6 L744.1 620.6 L748.9 620.6 L740 620.5 L738.1 620.5 L738 620.4 L747.1 620.4 L726.9 620.3 L731.2 620.2 L727.4 620.1 L731 620 L736.1 619.9 L732.8 619.9 L737 619.8 L734.8 619.7 L728.5 619.6 L727.8 619.5 L723.1 619.4 L733.4 619.4 L732.2 619.3 L740.8 619.2 L744.2 619.1 L732.9 619 L729.1 618.9 L739.2 618.9 L730.9 618.8 L735.8 618.7 L739.2 618.8 L732.7 619 L745.3 619.1 L730.4 619.3 L734.4 619.4 L729.1 619.6 L710.4 619.8 L723.7 619.9 L726.5 620.1 L731.7 620.3 L727.6 620.4 L722 620.6 L721.1 620.7 L721.2 620.9 L727.4 621.1 L720.8 621.2 L728.4 621.4 L726.7 621.6 L714.3 621.9 L722.2 622.5 L700.6 623.1 L709.8 623.7 L704.2 624.3 L707.7 624.9 L716.1 625.5 L709.3 626 L705.3 626.6 L713.2 627.2 L700.2 627.8 L695.4 628.4 L705.6 629 L705.1 629.5 L690.4 630.1 L696.8 630.8 L702 631.7 L696.2 632.6 L692.4 633.5 L694.5 634.4 L694.8 635.3 L688 636.2 L696.1 637 L681 637.9 L687.6 638.8 L706.2 639.7 L690.4 640.6 L694.8 641.5 L682 642.3 L690 642.4 L691.2 642.6 L701.1 642.7 L701.1 642.8 L718.4 643 L705.3 643.1 L709.5 643.2 L713 643.3 L715.5 643.5 L717.2 643.6 L700.1 643.7 L720.7 643.9 L708.1 644 L701.4 644.1 L692.6 644.2 L697.9 644.4 L689.5 644.5 L700 644.6 L696.5 644.8 L701.2 644.9 L694.1 645 L697.4 645.1 L712.3 645.3 L708.8 646.5 L700.8 647.8 L690.8 649 L704.8 650.3 L686.6 651.5 L683.8 652.8 L701.4 654 L692.7 655.3 L703.6 656.5 L700.9 657.8 L711 658.9 L710.6 659.5 L702.2 660.1 L691.6 660.6 L697.1 661.2 L701.6 661.8 L692 662.4 L666.9 662.9 L675.7 663.5 L676 664.1 L676.1 664.7 L672.1 666.1 L679.2 667.7 L662.5 669.4 L667.9 671 L650.7 672.7 L643 674.3 L648.9 675.9 L652.1 677.6 L651.7 679.2 L652.7 680.8 L661.7 682.5 L663.5 684.1 L660.4 685.8 L660.2 687.4 L653.8 689 L650.1 690.6 L646 692.1 L651.6 693.7 L647.9 695.2 L652.3 696.7 L660.3 698.3 L660.9 699.8 L666.2 701.3 L651.9 702.9 L639.5 704.4 L643.6 705.9 L665.6 707.5 L662.1 709 L653.2 710.5 L662.8 712.1 L653.2 713.6 L664.8 715.1 L653.3 716.6 L650.2 718.2 L656.5 719.7 L645.2 721.2 L648.7 722.6 L663.6 723.9 L656.7 725.1 L644.2 726.3 L646.5 727.6 L648.3 728.8 L643.4 730.1 L649.8 731.3 L656.8 732.5 L650 733.8 L653.7 735 L650.2 736.2 L647.9 737.5 L641 738.7 L650.6 739.9 L655.3 741.2 L643.8 742.4 L637.7 743.6 L645.4 744.9 L644.1 746.1 L650.4 747.3 L647.1 748.6 L640.7 749.8 L629.5 751 L639.3 752.3 L637.1 753.5 L626.1 754.8 L620.8 755.9 L616 756.9 L630.4 757.8 L625.7 758.7 L603.8 759.7 L613.9 760.6 L617 761.6 L620.2 762.5 L620.9 763.4 L617.7 764.4 L625.8 765.3 L630.6 766.2 L624.3 767.2 L635.8 768.1 L628.1 769 L622 770 L628.3 770.9 L620 771.8 L626.5 772.8 L623.9 773.7 L628.5 774.7 L634.8 775.6 L619.2 776.5 L635.6 777.5 L639.7 778.4 L638.4 779.3 L645.3 780.3 L645.4 781.2 L640.7 782.1 L635.4 783.1 L646.1 784 L649.2 784.8 L635 785.6 L636.7 786.4 L634.3 787.2 L647.6 787.9 L641.6 788.7 L635.8 789.5 L653.3 790.3 L650.7 791.1 L646.9 791.8 L644.2 792.6 L639 793.4 L637.5 794.2 L641.4 795 L637.6 795.7 L628.9 796.5 L628.9 797.3 L639.3 798.1 L623.8 798.9 L613 799.6 L618.5 800.4 L609.6 801.2 L631.5 802 L621.7 802.8 L618.9 803.4 L617.2 803.9 L628 804.4 L610.6 804.9 L613.1 805.4 L602.9 805.9 L620.5 806.4 L616.1 806.9 L627.9 807.4 L617.1 807.9 L609.5 808.4 L610.2 808.9 L620.9 809.4 L612.7 810 L618.3 810.5 L613.3 811 L612.3 811.5 L613.4 812 L628.8 812.5 L614.5 813 L620.7 813.5 L626.1 814 L617.5 814.5 L610.9 815 L630.4 815.5 L637.5 816 L626.4 816.5 L617.8 817.1 L630.4 817.6 L628 818.1 L622.7 818.5 L625 818.9 L612.5 819.2 L620.8 819.6 L620.8 819.9 L620.7 820.3 L634.4 820.6 L636.3 821 L647.1 821.3 L620.6 821.7 L628.4 822 L629.8 822.4 L645.3 822.7 L646.4 823.1 L640 823.4 L637.7 823.8 L630.9 824.1 L630.4 824.5 L630.3 824.8 L615.6 825.2 L641.7 825.5 L639.8 825.9 L648.1 826.2 L644 826.6 L637.8 826.9 L642.2 827.3 L628.8 827.6 L632.8 828 L649.3 828.3 L647.7 828.7 L641.6 829 L653.7 829.3 L650.8 829.6 L661.6 829.8 L677.8 830.1 L666 830.3 L670.5 830.6 L681.2 830.9 L682.6 831.1 L687.2 831.4 L679.7 831.6 L680.4 831.9 L665.9 832.2 L676.6 832.4 L688.6 832.7 L674.4 832.9 L676.5 833.2 L682.5 833.5 L686.8 833.7 L686.7 834 L671.9 834.2 L670.7 834.5 L684.6 834.8 L672.1 835 L673.4 835.3 L665.2 835.5 L663.7 835.8 L646.7 836.1 L658.4 836.3 L649.2 836.6 L654.3 836.8 L655.1 837.1 L670.6 837.4 L669.7 837.6 L666.3 837.9 L658.4 838.1 L649.7 838.4 L659.6 838.6 L652.4 838.8 L654.8 838.9 L661.2 839.1 L653.3 839.2 L650.8 839.4 L642 839.5 L652.2 839.7 L649.6 839.8 L648.6 840 L653.1 840.2 L630.2 840.3 L634.3 840.5 L637.9 840.6 L635.1 840.8 L634.8 840.9 L637.8 841.1 L626.4 841.3 L635 841.4 L647.2 841.6 L643.4 841.7 L643 841.9 L651.6 842 L637.4 842.2 L650.1 842.3 L662.5 842.5 L655 842.7 L650.7 842.8 L660.4 843 L657.6 843.1 L655.9 843.3 L663.8 843.4 L654.7 843.6 L669.8 843.8 L661.8 844 L665.5 844.1 L676.3 844.3 L675 844.5 L677.8 844.6 L687.4 844.8 L692 845 L698.2 845.1 L682.7 845.3 L690.2 845.5 L675.5 845.6 L689.9 845.8 L698.1 846 L687.3 846.1 L694 846.3 L699.4 846.5 L695.1 846.6 L691.9 846.7 L707 846.3 L692.5 845.9 L700.3 845.5 L709.1 845.1 L707.7 844.8 L718 844.4 L721.3 844 L716.5 843.6 L725.6 843.2 L722.2 842.8 L709.1 842.4 L713.4 842 L720 841.3 L722.4 840.6 L711.4 839.9 L733 839.2 L709.7 838.4 L704.8 837.7 L712.4 837 L710.6 836.3 L717.3 835.6 L707.9 835.7 L704.5 835.9 L704.1 836.1 L691.8 836.3 L682.9 836.5 L684.3 836.7 L693.7 836.9 L685.9 837.1 L693.2 837.3 L681.4 837.5 L686.1 837.7 L681.1 837.9 L684.1 838.1 L677.9 838.3 L676.4 838.5 L670.1 838.6 L679.1 838.8 L671.2 839 L671.7 839.2 L671.5 839.4 L659.6 839.6 L656.9 839.9 L661.6 840.1 L671.7 840.4 L658.1 840.6 L654.8 840.8 L654.1 841.1 L657.9 841.3 L654 841.6 L654.6 841.8 L664 842.1 L655 842.3 L660.1 842.6 L653.2 842.8 L658 843.1 L664.1 843.3 L648.1 843.6 L658.1 843.8 L661.7 844.1 L660.5 844.3 L662.3 844.6 L663.6 844.8 L650.3 845.1 L651.9 845.3 L654.9 845.6 L657.3 845.8 L636.9 846.1 L634.4 846.3 L625.7 846.6 L630.1 846.8 L621.2 847.1 L618.9 847.3 L631.7 847.6 L645.8 847.8 L620.5 848 L640.4 848.2 L628.5 848.4 L637.3 848.6 L637.9 848.8 L644.9 849 L637.5 849.2 L632.1 849.4 L636.8 849.6 L644.5 849.8 L635.7 850 L643.1 850.2 L642.9 850.4 L644.8 850.6 L644.9 850.8 L649.7 851 L653.1 851.1 L647.1 851.3 L646 851.5 L634.1 851.7 L640.6 851.9 L638.5 852.1 L653.9 852.3 L646.4 852.5 L647.9 852.7 L657.4 852.9 L663.8 853.1 L667.6 853.3 L655.1 853.5 L660.2 853.7 L667.8 853.9 L655.5 854 L656.2 854.1 L649 854.3 L650.6 854.4 L659.7 854.6 L657.1 854.7 L652.8 854.8 L649.8 855 L662.8 855.1 L660.2 855.2 L645.3 855.4 L664.4 855.5 L650.9 855.6 L648.7 855.8 L645.3 855.9 L643.3 856.1 L650.6 856.2 L637.5 856.3 L643.8 856.5 L642.3 856.6 L655.6 856.7 L649.1 856.9 L647.2 857 L646.8 857.1 L646.7 857.3 L643 857.4 L624 857.6 L638.5 857.7 L636.5 857.8 L642.6 858 L641 858.1 L634.3 858.3 L629.7 858.5 L627.3 858.7 L635.2 858.8 L634 859 L627.9 859.2 L629.5 859.4 L634.3 859.5 L628.1 859.7 L629.8 859.9 L626.5 860.1 L612.8 860.2 L628.9 860.4 L633.6 860.6 L640.8 860.8 L646.9 860.9 L635.4 861.1 L642.5 861.3 L643 861.5 L642.7 861.6 L648.7 861.8 L651.4 862 L638.3 862.2 L654.7 862.3 L648.4 862.5 L644.4 862.7 L645 862.9 L650.6 863 L648 863.2 L664.6 863.3 L666.4 863.3 L659.8 863.3 L672.1 863.2 L673.3 863.2 L674.7 863.2 L682.5 863.2 L677.9 863.2 L676.5 863.1 L682.3 863.1 L668.7 863.1 L670.5 863.1 L683.5 863.1 L691.5 863.1 L675.6 863 L684.2 863 L682.6 863 L685.7 863 L693.4 863 L702.4 862.9 L707.4 862.9 L703.9 862.9 L701.9 862.9 L698.9 862.9 L685.3 862.8 L698.3 862.8 L691.6 862.8 L691.4 862.8 L700.7 862.8 L692.3 862.7 L714 862.7 L712.3 862.6 L711.2 862.4 L712.6 862.3 L712.3 862.2 L711.9 862 L716.8 861.9 L707.7 861.7 L711.4 861.6 L711.1 861.5 L714.6 861.3 L702.2 861.2 L707.7 861.1 L706 860.9 L710.3 860.8 L710.2 860.7 L707.2 860.5 L707.9 860.4 L707.4 860.2 L713 860.1 L706.7 860 L706.2 859.8 L695.5 859.7 L697.3 859.6 L703.8 859.4 L706.9 859.3 L693.3 859.1 L695.8 859 L693.5 858.9 L694 858.7 L689.4 858.6 L687.5 858.6 L688.3 858.6 L688.7 858.6 L693.7 858.6 L681.1 858.7 L676 858.7 L685.6 858.7 L684.9 858.7 L678.9 858.7 L672.4 858.7 L687.4 858.7 L678.1 858.8 L692.3 858.8 L691.3 858.8 L689.8 858.8 L690.7 858.8 L699.1 858.8 L697.2 858.8 L686.2 858.8 L692 858.9 L685.1 858.9 L702.1 858.9 L711.5 858.9 L716 858.9 L701.7 858.9 L722.5 858.9 L726.4 859 L715 859 L700.1 859 L704.7 859 L719.7 859 L731.2 859 L717 859 L705.3 859.1 L709.2 859.1 L730.5 859.1 L723.5 859.1 L713 859.1 L706.4 859.1 L724.2 859.1 L730.5 859.2 L724.1 859.2 L725.1 859.1 L727.9 858.8 L726.4 858.5 L725.3 858.3 L725.6 858 L726.2 857.7 L739.4 857.5 L737.8 857.2 L742.3 856.9 L749.7 856.7 L724.1 856.4 L733.5 856.1 L743.5 855.9 L738.7 855.6 L735.6 855.3 L742.2 855.1 L738.3 854.8 L735.8 854.5 L739.6 854.3 L743.6 854 L745 853.7 L752.1 853.5 L748.6 853.2 L745 852.9 L768.8 852.7 L752.9 852.4 L749.2 852.1 L749.7 851.9 L746.5 851.6 L740.3 851.3 L751.4 851.1 L763.3 850.8 L744.5 850.5 L747.6 850.2 L757 849.7 L752.3 849.2 L759.9 848.7 L758.5 848.2 L751.5 847.6 L756.3 847.1 L756 846.6 L763.7 846.1 L745.2 845.6 L761.2 845 L772 844.5 L767.2 844 L767.1 843.5 L762.4 843 L767.7 842.4 L766.3 841.9 L758.7 841.4 L758.1 840.9 L750.7 840.4 L768.2 839.8 L771.3 839.3 L779 838.8 L776 838.3 L778.9 837.8 L766.4 837.2 L760.4 836.7 L768.4 836.2 L772.7 835.7 L779.2 835.2 L778.1 834.6 L778.3 834.1 L780.5 833.6 L783.1 833.1 L783.4 832.6 L784.2 832 L778.9 831.5 L780.3 830.8 L771.3 830.1 L771.4 829.3 L777.2 828.6 L783.4 827.8 L776.9 827.1 L770.9 826.4 L785.4 825.6 L776.9 824.9 L769.7 824.1 L774.1 823.4 L774.9 822.6 L767.7 821.9 L780.8 821.1 L799.3 820.4 L788.4 819.6 L786.2 818.9 L800.1 818.1 L797.4 817.2 L796.5 816.2 L807.3 815.1 L793.8 814.1 L799.1 813.1 L805.3 812 L805.9 811 L797.7 809.9 L798.4 808.9 L819.7 807.9 L816.4 806.8 L818.1 805.8 L831.2 804.7 L818.6 803.7 L831 802.7 L826.1 801.6 L849.9 800.6 L843.3 799.5 L852.8 798.1 L851.8 796 L862.3 793.9 L867.5 791.9 L864.4 789.8 L860.1 787.7 L861.6 785.7 L857.4 783.6 L853.3 781.5 L858.7 779.4 L860.3 777.4 L844.4 775.3 L841.5 773.2 L841.1 771.2 L847 769.1 L835.6 767 L851.6 764.9 L844.1 762.9 L842.6 760.8 L850 758.7 L842.8 756.6 L850.7 754.6 L854.8 752.5 L863.9 750.4 L852.3 748.3 L867.9 745.5 L868.5 742.7 L868.3 740 L875.7 737.2 L870.7 734.4 L871.8 731.7 L881.1 728.9 L877.3 726.2 L887.9 723.4 L890.2 720.6 L881.6 717.9 L878 715.1 L870.2 712.3 L865.1 709.6 L878.6 706.8 L863.9 704.1 L866.5 701.3 L867.4 698.5 L858.2 696.3 L856.1 694.1 L854.1 691.8 L871.6 689.6 L862.8 687.4 L866.2 685.2 L871 683 L864.8 680.7 L864.8 678.5 L852.3 676.3 L846.9 674.1 L859.6 671.8 L862.3 669.6 L845.6 667.4 L855.5 665.2 L851.7 663.6 L853.6 662.1 L854.7 660.6 L860.8 659.1 L844.6 657.6 L844.3 656.2 L851.4 654.7 L841.4 653.2 L843 651.7 L837.9 650.3 L824.2 648.8 L827.2 647.3 L836.3 645.8 L827.6 644.4 L817.3 642.9 L820.4 641.4 L823.9 639.9 L826 638.5 L824.1 637 L823.6 635.5 L811.4 634 L810 632.8 L807.2 631.8 L807.4 630.8 L814.8 629.7 L825.4 628.7 L819.6 627.7 L829.2 626.6 L834.1 625.6 L822.3 624.6 L823.7 623.5 L832.9 622.5 L827 621.5 L849.8 620.4 L832.3 619.4 L834.5 618.4 L850.9 617.4 L846.9 616.3 L857.9 615.3 L851.4 614.3 L865.8 613.2 L860.5 612.2 L870.3 611.3 L876.8 610.5 L863.7 609.7 L866.8 608.9 L863.9 608.2 L869.8 607.4 L887.2 606.6 L886.6 605.8 L889 605 L891.4 604.3 L887.3 603.5 L882 602.7 L870.7 601.9 L866.1 601.1 L867.6 600.4 L869.6 599.7 L869.4 599.6 L861.9 599.5 L854.2 599.4 L853 599.3 L863.4 599.2 L855.6 599.1 L864.2 599 L846.9 598.8 L852.3 598.7 L848.2 598.6 L849.7 598.5 L838.8 598.4 L842.4 598.3 L839.5 598.2 L836.3 598.1 L828.2 598 L823.6 597.8 L828.8 597.7 L835 597.6 L833.5 597.5 L832 597.4 L831.1 597.4 L818.4 597.5 L830.6 597.5 L825.8 597.6 L818 597.6 L816.4 597.6 L825.3 597.7 L821.1 597.7 L806.4 597.7 L827.2 597.8 L807.1 597.8 L822.6 597.9 L819.6 597.9 L805.2 597.9 L815.8 598 L817.5 598 L815.4 598.1 L811.1 598.1 L809.8 598.1 L810.4 598.2 L807 598.2 L813.2 598.3 L823.1 598.3 L817.8 598.3 L832 598.4 L813.3 598.4 L821 598.5 L814.1 598.5 L812.2 598.5 L826.8 598.6 L828.1 598.4 L828.5 598.2 L826.7 598 L833.4 597.7 L827.3 597.5 L836.9 597.3 L838.7 597.1 L835.8 596.9 L847.8 596.6 L835.3 596.4 L846.8 596.2 L848.1 596 L849.6 595.7 L846.7 595.5 L850 595.3 L843.1 595.1 L835.3 594.9 L842.6 594.6 L836 594.4 L836.7 594.2 L839.6 594 L832.7 593.9 L843.4 594 L828.4 594.1 L842.3 594.2 L835.8 594.3 L844.5 594.4 L841.3 594.6 L836.2 594.7 L831 594.8 L827.1 594.9 L814.7 595 L815.8 595.1 L812.1 595.2 L811.3 595.3 L813.7 595.4 L808.5 595.5 L812.1 595.6 L809 595.7 L805.4 595.9 L809 596 L809 596.1 L795.4 596.2 L797.6 596.3 L818.7 596.4 L802.9 596.5 L800.6 596.6 L789.6 596.7 L798.6 596.8 L805.4 596.9 L800.9 597 L795.2 597.1 L795.2 597.2 L782.5 597.3 L796.5 597.4 L794.2 597.5 L798.7 597.6 L799.9 597.7 L799.4 597.8 L812.4 597.9 L808 598 L796.5 598.1 L802.5 598.2 L804.4 598.3 L801.2 598.4 L810 598.5 L800.5 598.6 L789.6 598.7 L792.2 598.8 L803.3 598.9 L797.5 599 L804.4 599.1 L795.6 599.2 L806.9 599.3 L806.1 599.4 L802.1 599.5 L804.2 599.6 L807.3 599.7 L816.8 599.8 L815.3 599.7 L812.6 599.7 L815.1 599.7 L821.3 599.6 L820.7 599.6 L829.9 599.6 L816.2 599.5 L823.8 599.5 L821.7 599.5 L816.8 599.4 L824.5 599.4 L828.7 599.4 L829.1 599.3 L824.3 599.3 L812.4 599.3 L815.1 599.2 L815.7 599.2 L823.1 599.2 L813.1 599.1 L809.3 599.1 L816.4 599.1 L806.7 599 L799.3 599 L800.9 599 L803.2 598.9 L798.1 598.9 L783 598.9 L787.4 598.9 L797.9 598.8 L788.4 598.8 L796.5 598.8 L793.6 598.7 L786 598.7 L794.6 598.7 L776.6 598.6 L772.1 598.6 L774.4 598.6 L788.7 598.8 L786.5 598.9 L791.8 599 L788 599.1 L788.2 599.2 L783.5 599.3 L782.9 599.5 L791.8 599.6 L792.2 599.7 L777.8 599.8 L786.8 599.9 L798.5 600 L792.6 600.2 L779.3 600.3 L787.1 600.4 L785.2 600.5 L780.8 600.6 L787.8 600.8 L790.5 600.9 L778.6 601 L779.2 601.1 L775.1 601.2 L776 601.3 L786.2 601.5 L774.3 601.6 L777.4 601.7 L775.3 601.8 L772.8 601.9 L763.3 602 L771.9 602.2 L761.8 602.2 L770.7 602.3 L766.7 602.4 L766.5 602.5 L761.7 602.6 L757.7 602.7 L757.8 602.8 L766.4 602.9 L769.5 603 L774.3 603.1 L773.3 603.2 L781.7 603.3 L781.2 603.4 L782.5 603.5 L782 603.6 L784.9 603.7 L791.8 603.8 L785.6 603.9 L777.8 604 L784.7 604.1 L784.8 604.2 L780.4 604.3 L778.9 604.4 L766.4 604.5 L763.7 604.8 L767.6 605 L766.6 605.3 L756.5 605.6 L763.5 605.9 L747.6 606.1 L762.9 606.4 L749.5 606.7 L747.6 607 L744.4 607.2 L741.6 607.5 L747.8 607.8 L738.8 608 L746.9 608.3 L752.4 608.6 L750.6 608.9 L752 609.1 L742.8 609.4 L737.8 609.7 L740.1 610 L756.6 610.2 L755.7 610.5 L741.4 610.8 L761.3 611 L756.8 611.3 L756.4 611.6 L753.7 611.9 L752.9 612.1 L730.5 612.4 L734.6 612.7 L727.8 613.3 L742.2 614 L735.3 614.7 L726.8 615.4 L720.9 616.1 L704.8 616.9 L713.5 617.6 L707.3 618.3 L718.3 619 L714.8 619.7 L706.3 620.4 L700 621.1 L709.2 621.9 L702.4 622.6 L713 623.3 L711.1 624 L708.8 624.7 L714 625.4 L725.9 625.9 L707.9 626.3 L720.6 626.6 L725.1 626.9 L721 627.2 L732.9 627.6 L732 627.9 L732.4 628.2 L723.5 628.5 L733.3 628.9 L724.6 629.2 L735.9 629.2 L751.2 629.1 L735.2 629 L745.5 628.9 L729.1 628.8 L731.3 628.7 L734.8 628.5 L719.8 628.4 L726.5 628.3 L719.5 628.2 L717.3 628.2 L725.2 628.5 L719.6 628.9 L720.1 629.2 L716.2 629.5 L716.3 629.8 L723.5 630.1 L716.8 630.4 L713 630.7 L714.8 631 L720.5 631.3 L720.7 631.7 L704 632 L714.3 632.3 L720.9 632.6 L737.4 632.9 L719.4 633.2 L716.5 633.5 L709.4 633.8 L714.5 634.2 L703.9 634.5 L707.1 634.8 L712.5 635.1 L703.8 635.4 L709.5 635.7 L707.7 636 L719.8 636.3 L724.6 636.7 L729.5 637" fill="none" stroke="#0000FF" stroke-width="1.5" stroke-linejoin="bevel" stroke-linecap="butt" opacity="0.2"/>
</g>
<path d="M616 864.9 C620.7 864.7 634 864.1 644 863.5 C654 862.9 666.7 862.1 676 861.4 C685.3 860.6 693.2 859.9 699.9 859 C706.5 858.1 711.4 857.2 715.9 856.3 C720.4 855.4 724.2 854.4 727.1 853.4 C730 852.4 731.5 852 733.5 850.5 C735.5 849 738.2 845.6 739.1 844.6" fill="none" stroke="#0000FF" stroke-width="4.2" stroke-linejoin="round" stroke-linecap="butt" />
<path d="M616 859 C620.7 858.9 634 858.6 644 858.2 C654 857.9 665.4 857.4 676 856.9 C686.6 856.4 699.9 855.6 707.9 855 C715.9 854.4 719.6 853.9 723.9 853.1 C728.2 852.4 731 851.2 733.5 850.5 C736 849.8 738.2 848.9 739.1 848.6" fill="none" stroke="#FF0000" stroke-width="4.2" stroke-linejoin="round" stroke-linecap="butt" />
<path d="M881.9 588.8 C876.9 589.3 862.2 590.7 851.9 592 C841.6 593.3 830.6 594.8 819.9 596.5 C809.2 598.2 797.2 600.4 787.9 602.4 C778.6 604.4 770.6 606.8 763.9 608.8 C757.2 610.8 753.2 612.3 747.9 614.4 C742.6 616.5 736.4 619.2 731.9 621.6 C727.4 624 723.9 626.4 720.7 628.8 C717.5 631.2 715.1 633.3 712.7 636 C710.3 638.7 708.2 641.5 706.3 644.8 C704.4 648.1 703 652 701.5 656 C700 660 698.6 664.5 697.5 668.7 C696.4 673 695.5 677 694.8 681.5 C694.1 686 693.6 690.3 693.2 695.9 C692.8 701.5 692.5 707.4 692.3 715.1 C692.1 722.9 692 737.9 691.9 742.4" fill="none" stroke="#0000FF" stroke-width="4.2" stroke-linejoin="round" stroke-linecap="butt" />
<path d="M881.9 622.4 C874.2 622.5 851.6 622.5 835.9 622.8 C820.2 623.1 801.2 623.6 787.9 624 C774.6 624.4 765.2 624.8 755.9 625.2 C746.6 625.6 738.6 625.9 731.9 626.4 C725.2 626.9 720.4 627.3 715.9 628 C711.4 628.7 707.8 629.3 704.7 630.4 C701.6 631.5 699.4 632.8 697.5 634.4 C695.6 636 694.4 638 693.5 640 C692.6 642 692.2 644.3 691.9 646.4 C691.6 648.5 691.9 651.4 691.9 652.4" fill="none" stroke="#FF0000" stroke-width="4.2" stroke-linejoin="round" stroke-linecap="butt" />
<path d="M691.9 742.4 C691.9 744.4 691.8 749.5 691.9 754.4 C692 759.3 692.5 766.1 692.7 772 C692.9 777.9 693.1 783.5 693.2 789.6 C693.3 795.7 693.2 803.7 693.5 808.7 C693.8 813.8 694.3 817.4 695.1 819.9 C695.9 822.4 696.2 823.2 698.3 823.9 C700.4 824.6 705 823.6 707.9 823.9 C710.8 824.2 713.2 824.6 715.9 825.5 C718.6 826.4 721.6 827.8 723.9 829.5 C726.2 831.2 727 833.5 729.5 835.9 C732 838.3 737.5 842.6 739.1 844" fill="none" stroke="#0000FF" stroke-width="4.2" stroke-linejoin="round" stroke-linecap="butt" stroke-dasharray="8.3 8.6" stroke-dashoffset="-4"/>
<path d="M691.9 652.4 C691.9 654 691.8 659 691.9 662.3 C692 665.5 692.4 667.6 692.7 671.9 C693 676.2 693.5 682.6 693.9 687.9 C694.2 693.2 694.5 699.2 694.8 703.9 C695.1 708.6 695.2 711.3 695.5 716 C695.8 720.7 696.1 726.7 696.4 732 C696.7 737.3 696.9 742.7 697.5 748 C698.1 753.3 699 758.7 699.9 764 C700.8 769.3 702 775.2 703.1 780 C704.2 784.8 705.1 788.3 706.3 792.8 C707.5 797.3 708.7 802.6 710.3 807.1 C711.9 811.6 713.9 816.2 715.9 819.9 C717.9 823.6 720.2 826.8 722.3 829.5 C724.4 832.2 725.9 833.1 728.7 835.9 C731.5 838.6 737.4 844.3 739.1 846" fill="none" stroke="#FF0000" stroke-width="4.2" stroke-linejoin="round" stroke-linecap="butt" stroke-dasharray="8.3 8.6" stroke-dashoffset="-2"/>
<circle cx="739.2" cy="844.2" r="7.7" fill="#1F77B4" stroke="#1C1C2E" stroke-width="3"/>
<circle cx="739.2" cy="848.8" r="7.7" fill="#FF0000" stroke="#1C1C2E" stroke-width="3"/>
<circle cx="691.9" cy="742.4" r="7.7" fill="#1F77B4" stroke="#1C1C2E" stroke-width="3"/>
<circle cx="691.9" cy="652.4" r="7.7" fill="#D40F2F" stroke="#1C1C2E" stroke-width="3"/>
<line x1="697.2" y1="735.5" x2="697.9" y2="747.5" stroke="#FF0000" stroke-width="4.2" stroke-linecap="butt" />
<line x1="605" y1="569.6" x2="605" y2="887.6" stroke="#0000FF" stroke-width="3.2" stroke-linecap="butt" />
<line x1="893.3" y1="569.6" x2="893.3" y2="887.6" stroke="#FF0000" stroke-width="3.2" stroke-linecap="butt" />
<line x1="603.4" y1="886" x2="894.9" y2="886" stroke="#000" stroke-width="3.2" stroke-linecap="butt" />
<line x1="594" y1="870.7" x2="603.4" y2="870.7" stroke="#000" stroke-width="3.2" stroke-linecap="butt" />
<text x="582" y="879.6" font-family='"DejaVu Sans", "Liberation Sans", sans-serif' font-size="20.8" text-anchor="end" fill="#000" >0</text>
<line x1="894.9" y1="870.7" x2="904.3" y2="870.7" stroke="#000" stroke-width="3.2" stroke-linecap="butt" />
<text x="917.5" y="879.6" font-family='"DejaVu Sans", "Liberation Sans", sans-serif' font-size="20.8" text-anchor="start" fill="#000" >0</text>
<line x1="594" y1="780.8" x2="603.4" y2="780.8" stroke="#000" stroke-width="3.2" stroke-linecap="butt" />
<text x="582" y="789.7" font-family='"DejaVu Sans", "Liberation Sans", sans-serif' font-size="20.8" text-anchor="end" fill="#000" >0.3</text>
<line x1="894.9" y1="780.8" x2="904.3" y2="780.8" stroke="#000" stroke-width="3.2" stroke-linecap="butt" />
<text x="917.5" y="789.7" font-family='"DejaVu Sans", "Liberation Sans", sans-serif' font-size="20.8" text-anchor="start" fill="#000" >0.3</text>
<line x1="594" y1="690.9" x2="603.4" y2="690.9" stroke="#000" stroke-width="3.2" stroke-linecap="butt" />
<text x="582" y="699.8" font-family='"DejaVu Sans", "Liberation Sans", sans-serif' font-size="20.8" text-anchor="end" fill="#000" >0.6</text>
<line x1="894.9" y1="690.9" x2="904.3" y2="690.9" stroke="#000" stroke-width="3.2" stroke-linecap="butt" />
<text x="917.5" y="699.8" font-family='"DejaVu Sans", "Liberation Sans", sans-serif' font-size="20.8" text-anchor="start" fill="#000" >0.6</text>
<line x1="594" y1="601.1" x2="603.4" y2="601.1" stroke="#000" stroke-width="3.2" stroke-linecap="butt" />
<text x="582" y="610" font-family='"DejaVu Sans", "Liberation Sans", sans-serif' font-size="20.8" text-anchor="end" fill="#000" >0.9</text>
<line x1="894.9" y1="601.1" x2="904.3" y2="601.1" stroke="#000" stroke-width="3.2" stroke-linecap="butt" />
<text x="917.5" y="610" font-family='"DejaVu Sans", "Liberation Sans", sans-serif' font-size="20.8" text-anchor="start" fill="#000" >0.9</text>
<line x1="683.6" y1="886" x2="683.6" y2="897" stroke="#000" stroke-width="3.2" stroke-linecap="butt" />
<text x="683.6" y="928" font-family='"DejaVu Sans", "Liberation Sans", sans-serif' font-size="20.8" text-anchor="middle" fill="#000" >0</text>
<line x1="814.3" y1="886" x2="814.3" y2="897" stroke="#000" stroke-width="3.2" stroke-linecap="butt" />
<text x="814.3" y="928" font-family='"DejaVu Sans", "Liberation Sans", sans-serif' font-size="20.8" text-anchor="middle" fill="#000" >1</text>
<text x="729" y="965.3" font-family='"DejaVu Sans", "Liberation Sans", sans-serif' font-size="27" text-anchor="start" fill="#000" >C<tspan font-size="18.9" dy="4.4">12</tspan></text>
<text x="513" y="741" font-family='"DejaVu Sans", "Liberation Sans", sans-serif' font-size="27" text-anchor="start" fill="#000" >S<tspan font-size="18.9" dy="4.4">1</tspan></text>
<text x="952.5" y="741" font-family='"DejaVu Sans", "Liberation Sans", sans-serif' font-size="27" text-anchor="start" fill="#000" >S<tspan font-size="18.9" dy="4.4">2</tspan></text>
<text x="609.4" y="621.6" font-family='"Liberation Sans", "DejaVu Sans", sans-serif' font-size="22.5" text-anchor="start" fill="#231F20" >SN2</text>
<line x1="663.2" y1="624.8" x2="676" y2="639.2" stroke="#231F20" stroke-width="1.7" stroke-linecap="butt" />
<line x1="652.8" y1="630.4" x2="677.9" y2="724" stroke="#231F20" stroke-width="1.7" stroke-linecap="butt" />
<text x="795" y="879" font-family='"Liberation Sans", "DejaVu Sans", sans-serif' font-size="22.5" text-anchor="start" fill="#231F20" >SN1</text>
<line x1="755.9" y1="846.5" x2="790.3" y2="865.4" stroke="#231F20" stroke-width="1.7" stroke-linecap="butt" />
<line x1="757.2" y1="860.3" x2="789.2" y2="871.8" stroke="#231F20" stroke-width="1.7" stroke-linecap="butt" />
<clipPath id="clipE"><rect x="1135.2" y="571.2" width="302.8" height="314.5"/></clipPath>
<g clip-path="url(#clipE)">
<rect x="1135" y="571" width="303.5" height="315" fill="#f6fcf4"/>
<path d="M1135.2 885.7 L1150.3 885.7 L1165.4 885.7 L1180.5 885.7 L1195.7 885.7 L1210.8 885.7 L1225.9 885.7 L1241 885.7 L1256.1 885.7 L1271.2 885.7 L1286.4 885.7 L1301.5 885.7 L1316.6 885.7 L1331.7 885.7 L1346.8 885.7 L1361.9 885.7 L1377 885.7 L1392.2 885.7 L1407.3 885.7 L1422.4 885.7 L1437.5 885.7 L1437.5 873.1 L1437.5 860.5 L1437.5 847.9 L1437.5 835.3 L1437.5 822.7 L1437.5 810.1 L1437.5 797.5 L1437.5 784.9 L1437.5 772.3 L1437.5 759.7 L1437.5 747.1 L1437.5 734.5 L1437.5 721.9 L1437.5 709.3 L1437.5 696.7 L1437.5 684.1 L1437.5 671.5 L1437.5 658.9 L1437.5 646.3 L1437.5 633.7 L1437.5 621.1 L1437.5 608.5 L1437.5 595.9 L1437.5 583.3 L1437.5 570.7 L1422.4 570.7 L1407.3 570.7 L1392.2 570.7 L1377 570.7 L1361.9 570.7 L1346.8 570.7 L1331.7 570.7 L1316.6 570.7 L1301.5 570.7 L1286.4 570.7 L1271.2 570.7 L1256.1 570.7 L1241 570.7 L1225.9 570.7 L1210.8 570.7 L1195.7 570.7 L1180.5 570.7 L1165.4 570.7 L1150.3 570.7 L1135.2 570.7 L1135.2 583.3 L1135.2 595.9 L1135.2 608.5 L1135.2 621.1 L1135.2 633.7 L1135.2 646.3 L1135.2 658.9 L1135.2 671.5 L1135.2 684.1 L1135.2 696.7 L1135.2 709.3 L1135.2 721.9 L1135.2 734.5 L1135.2 747.1 L1135.2 759.7 L1135.2 772.3 L1135.2 784.9 L1135.2 797.5 L1135.2 810.1 L1135.2 822.7 L1135.2 835.3 L1135.2 847.9 L1135.2 860.5 L1135.2 873.1 L1135.2 885.7ZM1225.9 661 L1222.5 658.9 L1225.9 654.7 L1230.6 658.9 L1225.9 661Z" fill="#eef8ea" fill-rule="evenodd" stroke="#eef8ea" stroke-width="0.6"/>
<path d="M1135.2 885.7 L1150.3 885.7 L1165.4 885.7 L1180.5 885.7 L1195.7 885.7 L1210.8 885.7 L1225.9 885.7 L1241 885.7 L1256.1 885.7 L1271.2 885.7 L1286.4 885.7 L1301.5 885.7 L1316.6 885.7 L1331.7 885.7 L1346.8 885.7 L1361.9 885.7 L1377 885.7 L1392.2 885.7 L1407.3 885.7 L1422.4 885.7 L1437.5 885.7 L1437.5 873.1 L1437.5 860.5 L1437.5 847.9 L1437.5 835.3 L1437.5 822.7 L1437.5 810.1 L1437.5 797.5 L1437.5 784.9 L1437.5 772.3 L1437.5 759.7 L1437.5 747.1 L1437.5 734.5 L1437.5 721.9 L1437.5 709.3 L1437.5 700.5 L1435.1 696.7 L1431.4 684.1 L1437.5 681.3 L1437.5 671.5 L1437.5 658.9 L1437.5 648.8 L1433.3 646.3 L1437.5 640.4 L1437.5 633.7 L1437.5 621.1 L1437.5 608.5 L1437.5 595.9 L1437.5 583.3 L1437.5 570.7 L1425.8 570.7 L1422.4 576.1 L1407.5 570.7 L1407.3 570.7 L1392.2 570.7 L1377 570.7 L1361.9 570.7 L1346.8 570.7 L1331.7 570.7 L1316.6 570.7 L1301.5 570.7 L1286.4 570.7 L1271.2 570.7 L1261.5 570.7 L1271.2 581.2 L1272.3 583.3 L1271.2 584.4 L1256.1 585 L1241 589.8 L1231.7 583.3 L1239 570.7 L1225.9 570.7 L1210.8 570.7 L1195.7 570.7 L1180.5 570.7 L1165.4 570.7 L1150.3 570.7 L1135.2 570.7 L1135.2 583.3 L1135.2 595.9 L1135.2 608.5 L1135.2 621.1 L1135.2 633.7 L1135.2 646.3 L1135.2 658.9 L1135.2 671.5 L1135.2 684.1 L1135.2 696.7 L1135.2 709.3 L1135.2 721.9 L1135.2 734.5 L1135.2 747.1 L1135.2 759.7 L1135.2 772.3 L1135.2 784.9 L1135.2 797.5 L1135.2 810.1 L1135.2 822.7 L1135.2 835.3 L1135.2 847.9 L1135.2 860.5 L1135.2 873.1 L1135.2 885.7ZM1165.4 862.2 L1159.6 860.5 L1165.4 851.2 L1180.5 849.7 L1185 860.5 L1180.5 864.9 L1165.4 862.2ZM1195.7 873.2 L1195.6 873.1 L1195.7 873.1 L1195.7 873.1 L1195.7 873.2ZM1210.8 773.7 L1207.1 772.3 L1210.8 769.9 L1211.9 772.3 L1210.8 773.7ZM1225.9 685.9 L1222.1 684.1 L1225.9 680.8 L1236.7 684.1 L1225.9 685.9ZM1241 674.2 L1240.4 671.5 L1225.9 668.7 L1210.8 659.3 L1210.5 658.9 L1210.8 658.6 L1218.9 646.3 L1225.4 633.7 L1225.9 633.5 L1226.3 633.7 L1230.1 646.3 L1241 655.7 L1246.6 658.9 L1242.1 671.5 L1241 674.2ZM1256.1 724.7 L1248.8 721.9 L1249.9 709.3 L1245.7 696.7 L1248.2 684.1 L1256.1 681 L1257.5 684.1 L1257.3 696.7 L1260.6 709.3 L1271.2 719.3 L1274.4 721.9 L1271.2 723.8 L1256.1 724.7ZM1271.2 816.9 L1266.8 810.1 L1271.2 804 L1274.2 810.1 L1271.2 816.9ZM1377 623.9 L1374.7 621.1 L1377 617.9 L1381.6 621.1 L1377 623.9ZM1392.2 689.5 L1388.9 684.1 L1392.2 681.1 L1397.2 684.1 L1392.2 689.5ZM1165.4 797.6 L1165.2 797.5 L1165.4 797 L1165.6 797.5 L1165.4 797.6ZM1195.7 800.4 L1192.9 797.5 L1195.7 795.1 L1198.4 797.5 L1195.7 800.4ZM1210.8 728.5 L1205.4 721.9 L1210.8 717.3 L1214.3 721.9 L1210.8 728.5ZM1256.1 629.7 L1251 621.1 L1256.1 616.3 L1266.7 621.1 L1256.1 629.7Z" fill="#edf8ea" fill-rule="evenodd" stroke="#edf8ea" stroke-width="0.6"/>
<path d="M1135.2 885.7 L1150.3 885.7 L1165.4 885.7 L1180.5 885.7 L1182.3 885.7 L1180.5 882.9 L1176.3 873.1 L1165.4 868.3 L1152.6 873.1 L1150.3 884.5 L1146.1 873.1 L1142.3 860.5 L1146.2 847.9 L1135.2 835.6 L1135.2 847.9 L1135.2 860.5 L1135.2 873.1 L1135.2 885.7ZM1211.4 885.7 L1225.9 885.7 L1241 885.7 L1256.1 885.7 L1271.2 885.7 L1286.4 885.7 L1301.5 885.7 L1316.6 885.7 L1331.7 885.7 L1346.8 885.7 L1361.9 885.7 L1377 885.7 L1392.2 885.7 L1407.3 885.7 L1422.4 885.7 L1437.5 885.7 L1437.5 873.1 L1437.5 860.5 L1437.5 847.9 L1437.5 835.3 L1437.5 822.7 L1437.5 810.1 L1437.5 797.5 L1437.5 784.9 L1437.5 772.3 L1437.5 759.7 L1437.5 747.1 L1437.5 734.5 L1437.5 725.3 L1434.7 721.9 L1427.8 709.3 L1422.4 698.3 L1407.3 702.8 L1398.2 709.3 L1392.2 716 L1377 716.3 L1372.4 721.9 L1377 732.6 L1378.7 734.5 L1384.7 747.1 L1377 748.4 L1375.8 747.1 L1371.6 734.5 L1361.9 733 L1357.5 734.5 L1353.5 747.1 L1359.5 759.7 L1361.2 772.3 L1346.8 780.7 L1331.7 782.1 L1320.7 784.9 L1316.6 786.7 L1314 784.9 L1316.6 783.1 L1322.6 772.3 L1322.8 759.7 L1331.7 756.1 L1338.6 747.1 L1338.9 734.5 L1337.3 721.9 L1340.5 709.3 L1346.8 699.7 L1361.9 697 L1377 697.1 L1377.4 696.7 L1378 684.1 L1391.8 671.5 L1392.2 670.9 L1407.3 660.4 L1422.4 663 L1430.4 671.5 L1437.5 675.3 L1437.5 671.5 L1437.5 658.9 L1437.5 654 L1424.4 646.3 L1422.4 639.2 L1417 633.7 L1422.4 628.1 L1431.6 621.1 L1437.5 613 L1437.5 608.5 L1437.5 595.9 L1437.5 583.3 L1437.5 570.7 L1436.5 570.7 L1433.8 583.3 L1422.4 591.5 L1417.9 595.9 L1407.3 602.2 L1400.5 595.9 L1402.4 583.3 L1397.6 570.7 L1392.2 570.7 L1377.3 570.7 L1382.4 583.3 L1377 593.2 L1374.6 595.9 L1374.2 608.5 L1377 609.4 L1380.6 608.5 L1392.2 604.9 L1397.1 608.5 L1396.1 621.1 L1392.2 625.2 L1377 631.4 L1369 633.7 L1365.3 646.3 L1377 652.1 L1384.6 658.9 L1377 663.4 L1361.9 663.2 L1355.7 671.5 L1346.8 674.5 L1337.8 671.5 L1337.3 658.9 L1331.7 652.4 L1327.8 646.3 L1331.7 640.4 L1346.8 637.2 L1355.1 633.7 L1361.9 631 L1368.3 621.1 L1361.9 612.6 L1356.3 608.5 L1346.8 597.3 L1344.5 595.9 L1331.7 590.9 L1316.6 592.4 L1313.1 595.9 L1316.6 599.6 L1324 608.5 L1331.7 619.3 L1333.7 621.1 L1331.7 623.8 L1316.6 629.8 L1301.5 624.2 L1293 633.7 L1287.7 646.3 L1286.4 648.6 L1282.5 646.3 L1271.2 642.5 L1267 646.3 L1271.2 655 L1274.7 658.9 L1273.6 671.5 L1280.3 684.1 L1271.2 694.9 L1270.3 696.7 L1271.2 700 L1276 709.3 L1286.4 717.6 L1290.6 721.9 L1297 734.5 L1294 747.1 L1286.4 757 L1271.2 748.6 L1268 747.1 L1271.2 743.2 L1273.2 734.5 L1271.2 733.1 L1256.1 731.2 L1241 730.3 L1230.8 734.5 L1241 741.1 L1248.6 747.1 L1251.8 759.7 L1250.6 772.3 L1241 783.3 L1237.4 784.9 L1225.9 791.1 L1216.9 797.5 L1225.9 807 L1230.3 810.1 L1225.9 813.6 L1213 822.7 L1210.8 824 L1195.7 823.1 L1195.3 822.7 L1184.6 810.1 L1180.5 805.5 L1165.4 805.6 L1150.3 806.4 L1135.2 808.4 L1135.2 810.1 L1135.2 814.2 L1138.8 822.7 L1150.3 831.8 L1165.4 831.8 L1168 835.3 L1180.5 840.9 L1195.7 843.2 L1210.8 847.5 L1225.9 843.1 L1229.5 847.9 L1225.9 854.7 L1210.8 848.1 L1197.1 860.5 L1210.8 869.1 L1224.6 873.1 L1211.4 885.7ZM1286.4 836.6 L1271.3 835.3 L1271.2 835.3 L1259.8 822.7 L1256.1 818.5 L1246.8 810.1 L1256.1 805.6 L1264.4 797.5 L1271.2 789.4 L1278.1 784.9 L1286.4 775.8 L1290.1 772.3 L1301.5 767.6 L1309.7 772.3 L1301.5 779.8 L1294.8 784.9 L1286.4 793.1 L1282.3 797.5 L1286.4 804.8 L1301.5 803.5 L1316.6 801.8 L1326.2 797.5 L1331.7 790.4 L1336.8 797.5 L1331.7 804.3 L1328.6 810.1 L1323 822.7 L1316.6 823 L1307.7 822.7 L1301.5 822.3 L1298.3 822.7 L1289.8 835.3 L1286.4 836.6ZM1346.8 860.6 L1345.9 860.5 L1346.8 860.1 L1347.2 860.5 L1346.8 860.6ZM1377 849.9 L1369.9 847.9 L1363.2 835.3 L1365.6 822.7 L1374.1 810.1 L1372.9 797.5 L1377 789.6 L1381.1 784.9 L1392.2 775.8 L1407.3 779 L1414.1 784.9 L1407.3 790.6 L1392.2 795 L1387.8 797.5 L1392.2 801.3 L1407.3 805 L1420.5 810.1 L1407.3 816.2 L1392.2 815.8 L1381.9 822.7 L1380.1 835.3 L1379.7 847.9 L1377 849.9ZM1422.4 835.6 L1421.9 835.3 L1422.4 834.5 L1422.8 835.3 L1422.4 835.6ZM1407.3 653.6 L1394.5 646.3 L1407.3 642.7 L1412.8 646.3 L1407.3 653.6ZM1301.5 707.1 L1287.5 696.7 L1301.5 690.2 L1307.1 696.7 L1301.5 707.1ZM1392.2 764.2 L1388.7 759.7 L1392.2 750.5 L1393.9 747.1 L1407.3 740 L1417.3 747.1 L1407.3 756.7 L1400.2 759.7 L1392.2 764.2ZM1422.4 802 L1421.6 797.5 L1422.4 796.8 L1423.1 797.5 L1422.4 802ZM1301.5 674.7 L1296.5 671.5 L1301.5 664 L1316.6 661.1 L1327.6 671.5 L1316.6 677.5 L1301.5 674.7ZM1204.1 784.9 L1210.8 790.8 L1216.5 784.9 L1210.8 782.7 L1204.1 784.9ZM1135.2 772.3 L1135.2 775.2 L1146.1 772.3 L1135.2 768.9 L1135.2 772.3ZM1173.6 772.3 L1180.5 781.1 L1187.1 772.3 L1195.7 763.8 L1202 759.7 L1210.8 754.6 L1221.3 747.1 L1210.8 741.5 L1195.7 737.8 L1191.4 734.5 L1180.5 723.1 L1179.4 721.9 L1180.5 719.2 L1195.7 718.2 L1206.3 709.3 L1210.8 702.6 L1220.5 696.7 L1210.8 692.4 L1205.2 684.1 L1203.1 671.5 L1195.7 663.5 L1180.5 660 L1179.5 658.9 L1169.5 646.3 L1166 633.7 L1165.4 633 L1161.4 621.1 L1165.4 614.4 L1175.3 621.1 L1180.5 624.1 L1186.5 621.1 L1195.7 609.9 L1196.7 608.5 L1195.7 600.9 L1180.5 600.3 L1165.4 603.6 L1159.9 608.5 L1150.3 612.9 L1135.2 617.5 L1135.2 621.1 L1135.2 627.4 L1150.3 628.7 L1164.9 633.7 L1150.3 645.6 L1135.2 638 L1135.2 646.3 L1135.2 658.9 L1135.2 671.3 L1150.3 667.1 L1165.4 665.8 L1173 671.5 L1175.1 684.1 L1180.5 687.2 L1185.6 696.7 L1180.5 702 L1165.4 697 L1165.1 696.7 L1150.3 687.9 L1137.6 684.1 L1135.2 671.7 L1135.2 684.1 L1135.2 689 L1137 696.7 L1137.6 709.3 L1141.8 721.9 L1141.3 734.5 L1142.7 747.1 L1150.3 755.7 L1156.4 759.7 L1165.4 764.7 L1173.6 772.3ZM1180.5 759.7 L1180.5 759.7 L1180.5 759.7 L1180.6 759.7 L1180.5 759.7ZM1219.7 772.3 L1225.9 780.7 L1233.1 772.3 L1225.9 763.9 L1219.7 772.3ZM1223.9 721.9 L1225.9 729.7 L1230.1 721.9 L1225.9 710.9 L1223.9 721.9ZM1239.8 646.3 L1241 647.4 L1243.8 646.3 L1241 642.6 L1239.8 646.3ZM1204.1 621.1 L1210.8 625 L1225.9 622.5 L1241 627.4 L1243.4 621.1 L1241 613.5 L1225.9 610.2 L1210.8 616.8 L1204.1 621.1ZM1251.3 608.5 L1256.1 609.2 L1262.9 608.5 L1271.2 605.6 L1279.4 595.9 L1271.2 592.7 L1256.1 594.4 L1253 595.9 L1251.3 608.5ZM1135.2 595.9 L1135.2 599.4 L1141.8 595.9 L1135.2 588.4 L1135.2 595.9ZM1142.4 583.3 L1150.3 588 L1153.9 583.3 L1162.8 570.7 L1150.3 570.7 L1135.2 570.7 L1135.2 581.5 L1142.4 583.3ZM1178.5 583.3 L1180.5 587 L1195.7 595.5 L1210.8 588 L1213.1 583.3 L1222.3 570.7 L1210.8 570.7 L1195.7 570.7 L1180.5 570.7 L1173.3 570.7 L1178.5 583.3ZM1280.7 583.3 L1286.4 591.8 L1299 583.3 L1301.5 581.5 L1315.1 570.7 L1301.5 570.7 L1292.8 570.7 L1286.4 576.5 L1280.7 583.3Z" fill="#e1f3dc" fill-rule="evenodd" stroke="#e1f3dc" stroke-width="0.6"/>
<path d="M1135.2 885.7 L1138.8 885.7 L1135.2 881.6 L1135.2 885.7ZM1212.8 885.7 L1225.9 885.7 L1241 885.7 L1256.1 885.7 L1271.2 885.7 L1286.4 885.7 L1301.5 885.7 L1316.6 885.7 L1331.7 885.7 L1346.8 885.7 L1361.9 885.7 L1377 885.7 L1392.2 885.7 L1407.3 885.7 L1422.4 885.7 L1437.5 885.7 L1437.5 873.1 L1437.5 860.5 L1437.5 854.9 L1427.7 860.5 L1422.4 861.2 L1417.6 860.5 L1422.3 847.9 L1407.3 838.2 L1392.2 842.1 L1389.8 847.9 L1377 857.2 L1361.9 858.2 L1359.9 860.5 L1346.8 864.5 L1331.7 864.3 L1316.6 862.3 L1301.5 861.9 L1286.4 861.6 L1271.2 862.7 L1266 860.5 L1256.1 855.5 L1250.6 860.5 L1241 865.9 L1232.9 873.1 L1225.9 874.3 L1212.8 885.7ZM1210.7 860.5 L1210.8 860.6 L1210.9 860.5 L1210.8 860.4 L1210.7 860.5ZM1240.6 847.9 L1241 848.4 L1241.7 847.9 L1241 846.6 L1240.6 847.9ZM1283.3 847.9 L1286.4 852.9 L1301.5 856.9 L1308.4 847.9 L1316.6 843 L1331.7 836.4 L1332.3 835.3 L1331.7 835 L1316.6 830.5 L1308.5 835.3 L1301.5 843.1 L1286.4 846.4 L1283.3 847.9ZM1177.7 822.7 L1180.5 827.2 L1182.3 822.7 L1180.5 820.9 L1177.7 822.7ZM1344 822.7 L1346.8 825.8 L1349.7 822.7 L1346.8 820.4 L1344 822.7ZM1436.9 822.7 L1437.5 825.5 L1437.5 822.7 L1437.5 822.3 L1436.9 822.7ZM1355.2 797.5 L1361.9 803.1 L1364.7 797.5 L1361.9 785.5 L1355.2 797.5ZM1300.1 759.7 L1301.5 760.2 L1302.6 759.7 L1301.5 755 L1300.1 759.7ZM1313.8 734.5 L1316.6 736.9 L1318.9 734.5 L1316.6 732.3 L1313.8 734.5ZM1419.8 734.5 L1422.4 736.3 L1426.4 734.5 L1423.1 721.9 L1422.4 720.9 L1420.8 721.9 L1419.8 734.5ZM1153.7 709.3 L1165.4 717.8 L1169.9 709.3 L1165.4 706.4 L1153.7 709.3ZM1145.4 696.7 L1150.3 707.6 L1155.8 696.7 L1150.3 693.5 L1145.4 696.7ZM1195.2 684.1 L1195.7 684.6 L1195.9 684.1 L1195.7 683.4 L1195.2 684.1ZM1315.4 684.1 L1316.6 689.6 L1317.2 684.1 L1316.6 683.8 L1315.4 684.1ZM1340.1 684.1 L1346.8 690.2 L1361.9 688 L1366.8 684.1 L1361.9 679 L1346.8 680 L1340.1 684.1ZM1375.8 671.5 L1377 672.3 L1377.8 671.5 L1377 671.1 L1375.8 671.5ZM1361.5 621.1 L1361.9 621.2 L1362 621.1 L1361.9 621 L1361.5 621.1ZM1135.2 570.7 L1135.2 573 L1148.5 570.7 L1135.2 570.7Z" fill="#e0f3db" fill-rule="evenodd" stroke="#e0f3db" stroke-width="0.6"/>
<path d="M1214.3 885.7 L1225.9 885.7 L1241 885.7 L1256.1 885.7 L1271.2 885.7 L1286.4 885.7 L1301.5 885.7 L1316.6 885.7 L1331.7 885.7 L1346.8 885.7 L1361.9 885.7 L1377 885.7 L1392.2 885.7 L1407.3 885.7 L1422.4 885.7 L1437.5 885.7 L1437.5 873.1 L1437.5 861.9 L1422.4 863.7 L1407.3 861.8 L1399.3 860.5 L1392.2 856.5 L1386.3 860.5 L1377 862 L1361.9 864.1 L1346.8 868.4 L1331.7 870.9 L1316.6 867.1 L1301.5 871.6 L1286.4 866.6 L1271.2 871.2 L1256.1 872.8 L1241 872.5 L1240.3 873.1 L1225.9 875.6 L1214.3 885.7Z" fill="#d6efd0" fill-rule="evenodd" stroke="#d6efd0" stroke-width="0.6"/>
<path d="M1215.7 885.7 L1225.9 885.7 L1241 885.7 L1256.1 885.7 L1271.2 885.7 L1286.4 885.7 L1301.5 885.7 L1316.6 885.7 L1331.7 885.7 L1346.8 885.7 L1361.9 885.7 L1377 885.7 L1392.2 885.7 L1407.3 885.7 L1422.4 885.7 L1437.5 885.7 L1437.5 873.1 L1437.5 864.7 L1422.4 866.1 L1407.3 865 L1392.2 862.4 L1377 864.7 L1361.9 868.3 L1346.8 872.2 L1343.1 873.1 L1331.7 873.5 L1320.4 873.1 L1316.6 872 L1313.4 873.1 L1301.5 873.7 L1290.3 873.1 L1286.4 871.6 L1282.1 873.1 L1271.2 873.7 L1256.1 874 L1241 874.1 L1225.9 876.8 L1215.7 885.7Z" fill="#d5efcf" fill-rule="evenodd" stroke="#d5efcf" stroke-width="0.6"/>
<path d="M1217.2 885.7 L1225.9 885.7 L1241 885.7 L1256.1 885.7 L1271.2 885.7 L1286.4 885.7 L1301.5 885.7 L1316.6 885.7 L1331.7 885.7 L1346.8 885.7 L1361.9 885.7 L1377 885.7 L1392.2 885.7 L1407.3 885.7 L1422.4 885.7 L1437.5 885.7 L1437.5 873.1 L1437.5 867.5 L1422.4 868.6 L1407.3 868.3 L1392.2 865.2 L1377 867.4 L1361.9 872.5 L1359.5 873.1 L1346.8 873.5 L1331.7 874 L1316.6 873.6 L1301.5 874.5 L1286.4 873.6 L1271.2 874.4 L1256.1 874.8 L1241 875.3 L1225.9 878.1 L1217.2 885.7Z" fill="#c7e9c0" fill-rule="evenodd" stroke="#c7e9c0" stroke-width="0.6"/>
<path d="M1218.6 885.7 L1225.9 885.7 L1241 885.7 L1256.1 885.7 L1271.2 885.7 L1286.4 885.7 L1301.5 885.7 L1316.6 885.7 L1331.7 885.7 L1346.8 885.7 L1361.9 885.7 L1377 885.7 L1392.2 885.7 L1407.3 885.7 L1422.4 885.7 L1437.5 885.7 L1437.5 873.1 L1437.5 870.3 L1422.4 871.1 L1407.3 871.5 L1392.2 868.1 L1377 870.1 L1368.5 873.1 L1361.9 873.5 L1346.8 874 L1331.7 874.5 L1316.6 874.3 L1301.5 875.2 L1286.4 874.3 L1271.2 875.1 L1256.1 875.7 L1241 876.5 L1225.9 879.4 L1218.6 885.7Z" fill="#c6e8bf" fill-rule="evenodd" stroke="#c6e8bf" stroke-width="0.6"/>
<path d="M1220.1 885.7 L1225.9 885.7 L1241 885.7 L1256.1 885.7 L1271.2 885.7 L1286.4 885.7 L1301.5 885.7 L1316.6 885.7 L1331.7 885.7 L1346.8 885.7 L1361.9 885.7 L1377 885.7 L1392.2 885.7 L1407.3 885.7 L1422.4 885.7 L1437.5 885.7 L1437.5 873.1 L1437.5 873.1 L1436.9 873.1 L1422.4 873.2 L1407.3 873.3 L1401 873.1 L1392.2 871 L1377 872.9 L1376.3 873.1 L1361.9 874.1 L1346.8 874.4 L1331.7 875 L1316.6 874.9 L1301.5 875.9 L1286.4 875.1 L1271.2 875.8 L1256.1 876.6 L1241 877.6 L1225.9 880.6 L1220.1 885.7Z" fill="#b4e1ad" fill-rule="evenodd" stroke="#b4e1ad" stroke-width="0.6"/>
<path d="M1221.5 885.7 L1225.9 885.7 L1241 885.7 L1256.1 885.7 L1271.2 885.7 L1286.4 885.7 L1301.5 885.7 L1316.6 885.7 L1331.7 885.7 L1346.8 885.7 L1361.9 885.7 L1377 885.7 L1392.2 885.7 L1407.3 885.7 L1422.4 885.7 L1437.5 885.7 L1437.5 873.5 L1422.4 873.6 L1407.3 873.7 L1392.2 873.2 L1377 873.5 L1361.9 874.6 L1346.8 874.9 L1331.7 875.6 L1316.6 875.6 L1301.5 876.7 L1286.4 875.8 L1271.2 876.6 L1256.1 877.5 L1241 878.8 L1225.9 881.9 L1221.5 885.7Z" fill="#b2e0ac" fill-rule="evenodd" stroke="#b2e0ac" stroke-width="0.6"/>
<path d="M1223 885.7 L1225.9 885.7 L1241 885.7 L1256.1 885.7 L1271.2 885.7 L1286.4 885.7 L1301.5 885.7 L1316.6 885.7 L1331.7 885.7 L1346.8 885.7 L1361.9 885.7 L1377 885.7 L1392.2 885.7 L1407.3 885.7 L1422.4 885.7 L1437.5 885.7 L1437.5 873.9 L1422.4 874.1 L1407.3 874.1 L1392.2 873.8 L1377 874 L1361.9 875.1 L1346.8 875.4 L1331.7 876.1 L1316.6 876.2 L1301.5 877.4 L1286.4 876.5 L1271.2 877.3 L1256.1 878.3 L1241 879.9 L1225.9 883.2 L1223 885.7Z" fill="#a0d99b" fill-rule="evenodd" stroke="#a0d99b" stroke-width="0.6"/>
<path d="M1224.5 885.7 L1225.9 885.7 L1241 885.7 L1256.1 885.7 L1271.2 885.7 L1286.4 885.7 L1301.5 885.7 L1316.6 885.7 L1331.7 885.7 L1346.8 885.7 L1361.9 885.7 L1377 885.7 L1392.2 885.7 L1407.3 885.7 L1422.4 885.7 L1437.5 885.7 L1437.5 874.3 L1422.4 874.5 L1407.3 874.5 L1392.2 874.3 L1377 874.5 L1361.9 875.7 L1346.8 875.9 L1331.7 876.6 L1316.6 876.9 L1301.5 878.1 L1286.4 877.3 L1271.2 878 L1256.1 879.2 L1241 881.1 L1225.9 884.4 L1224.5 885.7Z" fill="#9fd899" fill-rule="evenodd" stroke="#9fd899" stroke-width="0.6"/>
<path d="M1226 885.7 L1241 885.7 L1256.1 885.7 L1271.2 885.7 L1286.4 885.7 L1301.5 885.7 L1316.6 885.7 L1331.7 885.7 L1346.8 885.7 L1361.9 885.7 L1377 885.7 L1392.2 885.7 L1407.3 885.7 L1422.4 885.7 L1437.5 885.7 L1437.5 874.7 L1422.4 875 L1407.3 874.9 L1392.2 874.8 L1377 875 L1361.9 876.2 L1346.8 876.4 L1331.7 877.2 L1316.6 877.6 L1301.5 878.9 L1286.4 878 L1271.2 878.7 L1256.1 880.1 L1241 882.3 L1226 885.7Z" fill="#8ace88" fill-rule="evenodd" stroke="#8ace88" stroke-width="0.6"/>
<path d="M1231 885.7 L1241 885.7 L1256.1 885.7 L1271.2 885.7 L1286.4 885.7 L1301.5 885.7 L1316.6 885.7 L1331.7 885.7 L1346.8 885.7 L1361.9 885.7 L1377 885.7 L1392.2 885.7 L1407.3 885.7 L1422.4 885.7 L1437.5 885.7 L1437.5 875.1 L1422.4 875.4 L1407.3 875.2 L1392.2 875.4 L1377 875.5 L1361.9 876.7 L1346.8 876.8 L1331.7 877.7 L1316.6 878.2 L1301.5 879.6 L1286.4 878.7 L1271.2 879.4 L1256.1 881 L1241 883.4 L1231 885.7Z" fill="#88ce87" fill-rule="evenodd" stroke="#88ce87" stroke-width="0.6"/>
<path d="M1236.1 885.7 L1241 885.7 L1256.1 885.7 L1271.2 885.7 L1286.4 885.7 L1301.5 885.7 L1316.6 885.7 L1331.7 885.7 L1346.8 885.7 L1361.9 885.7 L1377 885.7 L1392.2 885.7 L1407.3 885.7 L1422.4 885.7 L1437.5 885.7 L1437.5 875.6 L1422.4 875.9 L1407.3 875.6 L1392.2 875.9 L1377 876 L1361.9 877.2 L1346.8 877.3 L1331.7 878.2 L1316.6 878.9 L1301.5 880.3 L1286.4 879.4 L1271.2 880.2 L1256.1 881.8 L1241 884.6 L1236.1 885.7Z" fill="#73c476" fill-rule="evenodd" stroke="#73c476" stroke-width="0.6"/>
<path d="M1241.2 885.7 L1256.1 885.7 L1271.2 885.7 L1286.4 885.7 L1301.5 885.7 L1316.6 885.7 L1331.7 885.7 L1346.8 885.7 L1361.9 885.7 L1377 885.7 L1392.2 885.7 L1407.3 885.7 L1422.4 885.7 L1437.5 885.7 L1437.5 876 L1422.4 876.3 L1407.3 876 L1392.2 876.4 L1377 876.5 L1361.9 877.8 L1346.8 877.8 L1331.7 878.8 L1316.6 879.5 L1301.5 881.1 L1286.4 880.2 L1271.2 880.9 L1256.1 882.7 L1241.2 885.7Z" fill="#72c375" fill-rule="evenodd" stroke="#72c375" stroke-width="0.6"/>
<path d="M1245.6 885.7 L1256.1 885.7 L1271.2 885.7 L1286.4 885.7 L1301.5 885.7 L1316.6 885.7 L1331.7 885.7 L1346.8 885.7 L1361.9 885.7 L1377 885.7 L1392.2 885.7 L1407.3 885.7 L1422.4 885.7 L1437.5 885.7 L1437.5 876.4 L1422.4 876.8 L1407.3 876.4 L1392.2 877 L1377 876.9 L1361.9 878.3 L1346.8 878.3 L1331.7 879.3 L1316.6 880.2 L1301.5 881.8 L1286.4 880.9 L1271.2 881.6 L1256.1 883.6 L1245.6 885.7Z" fill="#5ab769" fill-rule="evenodd" stroke="#5ab769" stroke-width="0.6"/>
<path d="M1250 885.7 L1256.1 885.7 L1271.2 885.7 L1286.4 885.7 L1301.5 885.7 L1316.6 885.7 L1331.7 885.7 L1346.8 885.7 L1361.9 885.7 L1377 885.7 L1392.2 885.7 L1407.3 885.7 L1422.4 885.7 L1437.5 885.7 L1437.5 876.8 L1422.4 877.2 L1407.3 876.8 L1392.2 877.5 L1377 877.4 L1361.9 878.8 L1346.8 878.8 L1331.7 879.8 L1316.6 880.9 L1301.5 882.5 L1286.4 881.6 L1271.2 882.3 L1256.1 884.5 L1250 885.7Z" fill="#58b668" fill-rule="evenodd" stroke="#58b668" stroke-width="0.6"/>
<path d="M1254.4 885.7 L1256.1 885.7 L1271.2 885.7 L1286.4 885.7 L1301.5 885.7 L1316.6 885.7 L1331.7 885.7 L1346.8 885.7 L1361.9 885.7 L1377 885.7 L1392.2 885.7 L1407.3 885.7 L1422.4 885.7 L1437.5 885.7 L1437.5 877.2 L1422.4 877.7 L1407.3 877.2 L1392.2 878 L1377 877.9 L1361.9 879.4 L1346.8 879.2 L1331.7 880.4 L1316.6 881.5 L1301.5 883.3 L1286.4 882.4 L1271.2 883.1 L1256.1 885.4 L1254.4 885.7Z" fill="#40aa5d" fill-rule="evenodd" stroke="#40aa5d" stroke-width="0.6"/>
<path d="M1258.9 885.7 L1271.2 885.7 L1286.4 885.7 L1301.5 885.7 L1316.6 885.7 L1331.7 885.7 L1346.8 885.7 L1361.9 885.7 L1377 885.7 L1392.2 885.7 L1407.3 885.7 L1422.4 885.7 L1437.5 885.7 L1437.5 877.6 L1422.4 878.1 L1407.3 877.6 L1392.2 878.6 L1377 878.4 L1361.9 879.9 L1346.8 879.7 L1331.7 880.9 L1316.6 882.2 L1301.5 884 L1286.4 883.1 L1271.2 883.8 L1258.9 885.7Z" fill="#3fa95c" fill-rule="evenodd" stroke="#3fa95c" stroke-width="0.6"/>
<path d="M1263.6 885.7 L1271.2 885.7 L1286.4 885.7 L1301.5 885.7 L1316.6 885.7 L1331.7 885.7 L1346.8 885.7 L1361.9 885.7 L1377 885.7 L1392.2 885.7 L1407.3 885.7 L1422.4 885.7 L1437.5 885.7 L1437.5 878 L1422.4 878.6 L1407.3 878 L1392.2 879.1 L1377 878.9 L1361.9 880.4 L1346.8 880.2 L1331.7 881.4 L1316.6 882.8 L1301.5 884.7 L1286.4 883.8 L1271.2 884.5 L1263.6 885.7Z" fill="#319a50" fill-rule="evenodd" stroke="#319a50" stroke-width="0.6"/>
<path d="M1268.3 885.7 L1271.2 885.7 L1286.4 885.7 L1301.5 885.7 L1316.6 885.7 L1331.7 885.7 L1346.8 885.7 L1361.9 885.7 L1377 885.7 L1392.2 885.7 L1407.3 885.7 L1422.4 885.7 L1437.5 885.7 L1437.5 878.4 L1422.4 879 L1407.3 878.4 L1392.2 879.6 L1377 879.4 L1361.9 880.9 L1346.8 880.7 L1331.7 882 L1316.6 883.5 L1301.5 885.5 L1286.4 884.5 L1271.2 885.2 L1268.3 885.7Z" fill="#309950" fill-rule="evenodd" stroke="#309950" stroke-width="0.6"/>
<path d="M1277 885.7 L1286.4 885.7 L1293.2 885.7 L1286.4 885.3 L1277 885.7ZM1305 885.7 L1316.6 885.7 L1331.7 885.7 L1346.8 885.7 L1361.9 885.7 L1377 885.7 L1392.2 885.7 L1407.3 885.7 L1422.4 885.7 L1437.5 885.7 L1437.5 878.8 L1422.4 879.5 L1407.3 878.7 L1392.2 880.2 L1377 879.9 L1361.9 881.5 L1346.8 881.2 L1331.7 882.5 L1316.6 884.2 L1305 885.7Z" fill="#228a44" fill-rule="evenodd" stroke="#228a44" stroke-width="0.6"/>
<path d="M1309.9 885.7 L1316.6 885.7 L1331.7 885.7 L1346.8 885.7 L1361.9 885.7 L1377 885.7 L1392.2 885.7 L1407.3 885.7 L1422.4 885.7 L1437.5 885.7 L1437.5 879.2 L1422.4 879.9 L1407.3 879.1 L1392.2 880.7 L1377 880.3 L1361.9 882 L1346.8 881.6 L1331.7 883 L1316.6 884.8 L1309.9 885.7Z" fill="#218944" fill-rule="evenodd" stroke="#218944" stroke-width="0.6"/>
<path d="M1314.9 885.7 L1316.6 885.7 L1331.7 885.7 L1346.8 885.7 L1361.9 885.7 L1377 885.7 L1392.2 885.7 L1407.3 885.7 L1422.4 885.7 L1437.5 885.7 L1437.5 879.7 L1422.4 880.4 L1407.3 879.5 L1392.2 881.2 L1377 880.8 L1361.9 882.5 L1346.8 882.1 L1331.7 883.5 L1316.6 885.5 L1314.9 885.7Z" fill="#117b38" fill-rule="evenodd" stroke="#117b38" stroke-width="0.6"/>
<path d="M1319.3 885.7 L1331.7 885.7 L1346.8 885.7 L1361.9 885.7 L1377 885.7 L1392.2 885.7 L1407.3 885.7 L1422.4 885.7 L1437.5 885.7 L1437.5 880.1 L1422.4 880.8 L1407.3 879.9 L1392.2 881.8 L1377 881.3 L1361.9 883.1 L1346.8 882.6 L1331.7 884.1 L1319.3 885.7Z" fill="#107a37" fill-rule="evenodd" stroke="#107a37" stroke-width="0.6"/>
<path d="M1323.4 885.7 L1331.7 885.7 L1346.8 885.7 L1361.9 885.7 L1377 885.7 L1392.2 885.7 L1407.3 885.7 L1422.4 885.7 L1437.5 885.7 L1437.5 880.5 L1422.4 881.3 L1407.3 880.3 L1392.2 882.3 L1377 881.8 L1361.9 883.6 L1346.8 883.1 L1331.7 884.6 L1323.4 885.7Z" fill="#006c2c" fill-rule="evenodd" stroke="#006c2c" stroke-width="0.6"/>
<path d="M1327.4 885.7 L1331.7 885.7 L1346.8 885.7 L1361.9 885.7 L1377 885.7 L1392.2 885.7 L1407.3 885.7 L1422.4 885.7 L1437.5 885.7 L1437.5 880.9 L1422.4 881.7 L1407.3 880.7 L1392.2 882.8 L1377 882.3 L1361.9 884.1 L1346.8 883.6 L1331.7 885.1 L1327.4 885.7Z" fill="#006b2b" fill-rule="evenodd" stroke="#006b2b" stroke-width="0.6"/>
<path d="M1331.5 885.7 L1331.7 885.7 L1346.8 885.7 L1361.9 885.7 L1377 885.7 L1392.2 885.7 L1407.3 885.7 L1422.4 885.7 L1437.5 885.7 L1437.5 881.3 L1422.4 882.2 L1407.3 881.1 L1392.2 883.4 L1377 882.8 L1361.9 884.6 L1346.8 884 L1331.7 885.7 L1331.5 885.7Z" fill="#005723" fill-rule="evenodd" stroke="#005723" stroke-width="0.6"/>
<path d="M1335.9 885.7 L1346.8 885.7 L1361.9 885.7 L1377 885.7 L1392.2 885.7 L1407.3 885.7 L1422.4 885.7 L1437.5 885.7 L1437.5 881.7 L1422.4 882.6 L1407.3 881.5 L1392.2 883.9 L1377 883.3 L1361.9 885.2 L1346.8 884.5 L1335.9 885.7Z" fill="#005622" fill-rule="evenodd" stroke="#005622" stroke-width="0.6"/>
<path d="M1340.4 885.7 L1346.8 885.7 L1361.9 885.7 L1346.8 885 L1340.4 885.7ZM1361.9 885.7 L1377 885.7 L1392.2 885.7 L1407.3 885.7 L1422.4 885.7 L1437.5 885.7 L1437.5 882.1 L1422.4 883.1 L1407.3 881.9 L1392.2 884.4 L1377 883.7 L1361.9 885.7Z" fill="#00441b" fill-rule="evenodd" stroke="#00441b" stroke-width="0.6"/>
<path d="M1344.8 885.7 L1346.8 885.7 L1351.5 885.7 L1346.8 885.5 L1344.8 885.7ZM1365.7 885.7 L1377 885.7 L1392.2 885.7 L1407.3 885.7 L1422.4 885.7 L1437.5 885.7 L1437.5 882.5 L1422.4 883.5 L1407.3 882.3 L1392.2 885 L1377 884.2 L1365.7 885.7Z" fill="#00441b" fill-rule="evenodd" stroke="#00441b" stroke-width="0.6"/>
</g>
<line x1="1135.2" y1="569" x2="1135.2" y2="887.3" stroke="#000" stroke-width="3.2" stroke-linecap="butt" />
<line x1="1133.6" y1="885.7" x2="1439.1" y2="885.7" stroke="#000" stroke-width="3.2" stroke-linecap="butt" />
<line x1="1135.2" y1="885.7" x2="1135.2" y2="896.7" stroke="#000" stroke-width="3.2" stroke-linecap="butt" />
<text x="1135.2" y="928" font-family='"DejaVu Sans", "Liberation Sans", sans-serif' font-size="20.8" text-anchor="middle" fill="#000" >0</text>
<line x1="1210.8" y1="885.7" x2="1210.8" y2="896.7" stroke="#000" stroke-width="3.2" stroke-linecap="butt" />
<line x1="1286.4" y1="885.7" x2="1286.4" y2="896.7" stroke="#000" stroke-width="3.2" stroke-linecap="butt" />
<text x="1286.4" y="928" font-family='"DejaVu Sans", "Liberation Sans", sans-serif' font-size="20.8" text-anchor="middle" fill="#000" >0.05</text>
<line x1="1361.9" y1="885.7" x2="1361.9" y2="896.7" stroke="#000" stroke-width="3.2" stroke-linecap="butt" />
<line x1="1437.5" y1="885.7" x2="1437.5" y2="896.7" stroke="#000" stroke-width="3.2" stroke-linecap="butt" />
<text x="1437.5" y="928" font-family='"DejaVu Sans", "Liberation Sans", sans-serif' font-size="20.8" text-anchor="middle" fill="#000" >0.1</text>
<line x1="1124.2" y1="885.7" x2="1135.2" y2="885.7" stroke="#000" stroke-width="3.2" stroke-linecap="butt" />
<text x="1112.6" y="894.5" font-family='"DejaVu Sans", "Liberation Sans", sans-serif' font-size="20.8" text-anchor="end" fill="#000" >0.0</text>
<line x1="1124.2" y1="822.7" x2="1135.2" y2="822.7" stroke="#000" stroke-width="3.2" stroke-linecap="butt" />
<text x="1112.6" y="831.5" font-family='"DejaVu Sans", "Liberation Sans", sans-serif' font-size="20.8" text-anchor="end" fill="#000" >0.1</text>
<line x1="1124.2" y1="759.7" x2="1135.2" y2="759.7" stroke="#000" stroke-width="3.2" stroke-linecap="butt" />
<text x="1112.6" y="768.5" font-family='"DejaVu Sans", "Liberation Sans", sans-serif' font-size="20.8" text-anchor="end" fill="#000" >0.2</text>
<line x1="1124.2" y1="696.7" x2="1135.2" y2="696.7" stroke="#000" stroke-width="3.2" stroke-linecap="butt" />
<text x="1112.6" y="705.5" font-family='"DejaVu Sans", "Liberation Sans", sans-serif' font-size="20.8" text-anchor="end" fill="#000" >0.3</text>
<line x1="1124.2" y1="633.7" x2="1135.2" y2="633.7" stroke="#000" stroke-width="3.2" stroke-linecap="butt" />
<text x="1112.6" y="642.5" font-family='"DejaVu Sans", "Liberation Sans", sans-serif' font-size="20.8" text-anchor="end" fill="#000" >0.4</text>
<text x="1021" y="735.6" font-family='"DejaVu Sans", "Liberation Sans", sans-serif' font-size="27" text-anchor="start" fill="#000" >σ<tspan font-size="18.9" dy="4.4">12</tspan></text>
<text x="1266.3" y="962.6" font-family='"DejaVu Sans", "Liberation Sans", sans-serif' font-size="27" text-anchor="start" fill="#000" >η<tspan font-size="18.9" dy="4.4">12</tspan></text>
<rect x="1446.8" y="876.7" width="15.4" height="9.8" fill="#f7fcf5"/>
<rect x="1446.8" y="867.4" width="15.4" height="9.8" fill="#f6fcf4"/>
<rect x="1446.8" y="858.2" width="15.4" height="9.8" fill="#eef8ea"/>
<rect x="1446.8" y="848.9" width="15.4" height="9.8" fill="#edf8ea"/>
<rect x="1446.8" y="839.6" width="15.4" height="9.8" fill="#e1f3dc"/>
<rect x="1446.8" y="830.3" width="15.4" height="9.8" fill="#e0f3db"/>
<rect x="1446.8" y="821.1" width="15.4" height="9.8" fill="#d6efd0"/>
<rect x="1446.8" y="811.8" width="15.4" height="9.8" fill="#d5efcf"/>
<rect x="1446.8" y="802.5" width="15.4" height="9.8" fill="#c7e9c0"/>
<rect x="1446.8" y="793.2" width="15.4" height="9.8" fill="#c6e8bf"/>
<rect x="1446.8" y="784" width="15.4" height="9.8" fill="#b4e1ad"/>
<rect x="1446.8" y="774.7" width="15.4" height="9.8" fill="#b2e0ac"/>
<rect x="1446.8" y="765.4" width="15.4" height="9.8" fill="#a0d99b"/>
<rect x="1446.8" y="756.1" width="15.4" height="9.8" fill="#9fd899"/>
<rect x="1446.8" y="746.9" width="15.4" height="9.8" fill="#8ace88"/>
<rect x="1446.8" y="737.6" width="15.4" height="9.8" fill="#88ce87"/>
<rect x="1446.8" y="728.3" width="15.4" height="9.8" fill="#73c476"/>
<rect x="1446.8" y="719" width="15.4" height="9.8" fill="#72c375"/>
<rect x="1446.8" y="709.7" width="15.4" height="9.8" fill="#5ab769"/>
<rect x="1446.8" y="700.5" width="15.4" height="9.8" fill="#58b668"/>
<rect x="1446.8" y="691.2" width="15.4" height="9.8" fill="#40aa5d"/>
<rect x="1446.8" y="681.9" width="15.4" height="9.8" fill="#3fa95c"/>
<rect x="1446.8" y="672.6" width="15.4" height="9.8" fill="#319a50"/>
<rect x="1446.8" y="663.4" width="15.4" height="9.8" fill="#309950"/>
<rect x="1446.8" y="654.1" width="15.4" height="9.8" fill="#228a44"/>
<rect x="1446.8" y="644.8" width="15.4" height="9.8" fill="#218944"/>
<rect x="1446.8" y="635.5" width="15.4" height="9.8" fill="#117b38"/>
<rect x="1446.8" y="626.3" width="15.4" height="9.8" fill="#107a37"/>
<rect x="1446.8" y="617" width="15.4" height="9.8" fill="#006c2c"/>
<rect x="1446.8" y="607.7" width="15.4" height="9.8" fill="#006b2b"/>
<rect x="1446.8" y="598.4" width="15.4" height="9.8" fill="#005723"/>
<rect x="1446.8" y="589.2" width="15.4" height="9.8" fill="#005622"/>
<rect x="1446.8" y="579.9" width="15.4" height="9.8" fill="#00441b"/>
<rect x="1446.8" y="570.6" width="15.4" height="9.8" fill="#00441b"/>
<rect x="1446.8" y="570.6" width="15.4" height="315.4" fill="none" stroke="#000" stroke-width="3.2"/>
<line x1="1462.2" y1="867.5" x2="1473.4" y2="867.5" stroke="#000" stroke-width="3.2" stroke-linecap="butt" />
<text x="1484" y="875.1" font-family='"DejaVu Sans", "Liberation Sans", sans-serif' font-size="20.8" text-anchor="start" fill="#000" >0.0</text>
<line x1="1462.2" y1="775" x2="1473.4" y2="775" stroke="#000" stroke-width="3.2" stroke-linecap="butt" />
<text x="1484" y="782.6" font-family='"DejaVu Sans", "Liberation Sans", sans-serif' font-size="20.8" text-anchor="start" fill="#000" >0.2</text>
<line x1="1462.2" y1="682.5" x2="1473.4" y2="682.5" stroke="#000" stroke-width="3.2" stroke-linecap="butt" />
<text x="1484" y="690.1" font-family='"DejaVu Sans", "Liberation Sans", sans-serif' font-size="20.8" text-anchor="start" fill="#000" >0.4</text>
<line x1="1462.2" y1="590" x2="1473.4" y2="590" stroke="#000" stroke-width="3.2" stroke-linecap="butt" />
<text x="1484" y="597.6" font-family='"DejaVu Sans", "Liberation Sans", sans-serif' font-size="20.8" text-anchor="start" fill="#000" >0.6</text>
<text x="1500.2" y="550.9" font-family='"DejaVu Sans", "Liberation Sans", sans-serif' font-size="20.8" text-anchor="middle" fill="#000" >R</text>
<clipPath id="clipF"><rect x="1593.2" y="571.2" width="302.6" height="314.6"/></clipPath>
<g clip-path="url(#clipF)">
<rect x="1593" y="571" width="303" height="315" fill="#fff5eb"/>
<path d="M1627.2 873.2 L1638.5 877.3 L1653.7 880 L1668.8 881.2 L1683.9 881.9 L1699 882.4 L1714.1 882.7 L1729.2 882.9 L1744.4 883 L1759.5 883.1 L1774.6 883.2 L1789.7 883.3 L1804.8 883.4 L1819.9 883.5 L1835 883.6 L1850.2 883.6 L1865.3 883.6 L1880.4 883.6 L1895.5 883.6 L1895.5 873.2 L1895.5 860.6 L1895.5 848 L1895.5 835.4 L1895.5 822.8 L1895.5 810.2 L1895.5 797.6 L1895.5 785 L1895.5 772.4 L1895.5 759.8 L1895.5 747.2 L1895.5 734.6 L1895.5 722 L1895.5 709.4 L1895.5 696.8 L1895.5 684.2 L1895.5 671.6 L1895.5 659 L1895.5 646.4 L1895.5 633.8 L1895.5 621.2 L1895.5 608.6 L1895.5 596 L1895.5 583.4 L1895.5 570.8 L1880.4 570.8 L1865.3 570.8 L1850.2 570.8 L1835 570.8 L1819.9 570.8 L1804.8 570.8 L1789.7 570.8 L1774.6 570.8 L1759.5 570.8 L1744.4 570.8 L1729.2 570.8 L1714.1 570.8 L1699 570.8 L1691.4 570.8 L1688.3 583.4 L1686.6 596 L1685.1 608.6 L1684.1 621.2 L1683.9 622.3 L1678.5 633.8 L1674.4 646.4 L1671.8 659 L1670.6 671.6 L1669.5 684.2 L1668.8 689.6 L1666.1 696.8 L1660.8 709.4 L1657.8 722 L1655.9 734.6 L1654.7 747.2 L1653.8 759.8 L1653.7 760.4 L1647.4 772.4 L1643.7 785 L1641.4 797.6 L1640.1 810.2 L1639.2 822.8 L1638.5 826.8 L1635 835.4 L1629.9 848 L1627.3 860.6 L1627.2 873.2Z" fill="#ffefdf" fill-rule="evenodd" stroke="#ffefdf" stroke-width="0.6"/>
<path d="M1650.1 873.2 L1653.7 874.1 L1668.8 876.5 L1683.9 877.9 L1699 878.9 L1714.1 879.6 L1729.2 879.9 L1744.4 880.1 L1759.5 880.4 L1774.6 880.6 L1789.7 880.8 L1804.8 881 L1819.9 881.2 L1835 881.3 L1850.2 881.4 L1865.3 881.5 L1880.4 881.4 L1895.5 881.4 L1895.5 873.2 L1895.5 860.6 L1895.5 848 L1895.5 835.4 L1895.5 822.8 L1895.5 810.2 L1895.5 797.6 L1895.5 785 L1895.5 772.4 L1895.5 759.8 L1895.5 747.2 L1895.5 734.6 L1895.5 722 L1895.5 709.4 L1895.5 696.8 L1895.5 684.2 L1895.5 671.6 L1895.5 659 L1895.5 646.4 L1895.5 633.8 L1895.5 621.2 L1895.5 608.6 L1895.5 596 L1895.5 583.4 L1895.5 570.8 L1880.4 570.8 L1865.3 570.8 L1850.2 570.8 L1835 570.8 L1819.9 570.8 L1804.8 570.8 L1789.7 570.8 L1774.6 570.8 L1759.5 570.8 L1744.4 570.8 L1729.2 570.8 L1714.1 570.8 L1708.9 570.8 L1706.2 583.4 L1704.2 596 L1701.6 608.6 L1699.4 621.2 L1699 622.9 L1696.1 633.8 L1693.2 646.4 L1689.9 659 L1687.2 671.6 L1684.7 684.2 L1683.9 687.9 L1681.7 696.8 L1678.4 709.4 L1675.6 722 L1672.9 734.6 L1670.7 747.2 L1668.8 757.3 L1668.1 759.8 L1664.9 772.4 L1661.6 785 L1659.1 797.6 L1656.6 810.2 L1654 822.8 L1653.7 824.8 L1651.3 835.4 L1648 848 L1645.3 860.6 L1650.1 873.2Z" fill="#fee9d3" fill-rule="evenodd" stroke="#fee9d3" stroke-width="0.6"/>
<path d="M1678 873.2 L1683.9 873.9 L1699 875.5 L1714.1 876.5 L1729.2 877 L1744.4 877.3 L1759.5 877.7 L1774.6 878.1 L1789.7 878.4 L1804.8 878.6 L1819.9 878.8 L1835 879.1 L1850.2 879.2 L1865.3 879.3 L1880.4 879.2 L1895.5 879.2 L1895.5 873.2 L1895.5 860.6 L1895.5 848 L1895.5 835.4 L1895.5 822.8 L1895.5 810.2 L1895.5 797.6 L1895.5 785 L1895.5 772.4 L1895.5 759.8 L1895.5 747.2 L1895.5 734.6 L1895.5 722 L1895.5 709.4 L1895.5 696.8 L1895.5 684.2 L1895.5 671.6 L1895.5 659 L1895.5 646.4 L1895.5 633.8 L1895.5 621.2 L1895.5 608.6 L1895.5 596 L1895.5 583.4 L1895.5 570.8 L1880.4 570.8 L1865.3 570.8 L1850.2 570.8 L1835 570.8 L1819.9 570.8 L1804.8 570.8 L1789.7 570.8 L1774.6 570.8 L1759.5 570.8 L1744.4 570.8 L1729.2 570.8 L1719.9 570.8 L1717.8 583.4 L1716.2 596 L1714.1 606.2 L1713.4 608.6 L1710.5 621.2 L1707.5 633.8 L1705.4 646.4 L1702.4 659 L1700 671.6 L1699 678.1 L1697.6 684.2 L1693.9 696.8 L1690.1 709.4 L1687.8 722 L1685 734.6 L1683.9 738.9 L1681.5 747.2 L1678.9 759.8 L1675.7 772.4 L1672.9 785 L1670.7 797.6 L1668.8 808.8 L1668.4 810.2 L1664.9 822.8 L1662.4 835.4 L1660.4 848 L1658.2 860.6 L1668.8 870 L1678 873.2Z" fill="#fee0c3" fill-rule="evenodd" stroke="#fee0c3" stroke-width="0.6"/>
<path d="M1712.2 873.2 L1714.1 873.4 L1729.2 874.1 L1744.4 874.5 L1759.5 875 L1774.6 875.5 L1789.7 875.9 L1804.8 876.2 L1819.9 876.5 L1835 876.9 L1850.2 877 L1865.3 877.2 L1880.4 877 L1895.5 877 L1895.5 873.2 L1895.5 860.6 L1895.5 848 L1895.5 835.4 L1895.5 822.8 L1895.5 810.2 L1895.5 797.6 L1895.5 785 L1895.5 772.4 L1895.5 759.8 L1895.5 747.2 L1895.5 734.6 L1895.5 722 L1895.5 709.4 L1895.5 696.8 L1895.5 684.2 L1895.5 671.6 L1895.5 659 L1895.5 646.4 L1895.5 633.8 L1895.5 621.2 L1895.5 608.6 L1895.5 596 L1895.5 583.4 L1895.5 570.8 L1880.4 570.8 L1865.3 570.8 L1850.2 570.8 L1835 570.8 L1819.9 570.8 L1804.8 570.8 L1789.7 570.8 L1774.6 570.8 L1759.5 570.8 L1744.4 570.8 L1729.4 570.8 L1729.2 572.4 L1727.4 583.4 L1724.6 596 L1722 608.6 L1719.3 621.2 L1717.1 633.8 L1715.5 646.4 L1714.1 652.7 L1712.3 659 L1708.6 671.6 L1706.6 684.2 L1703.7 696.8 L1700.5 709.4 L1699 719.5 L1698.5 722 L1694.8 734.6 L1691.6 747.2 L1688.4 759.8 L1685.3 772.4 L1683.9 777.9 L1682.1 785 L1679.1 797.6 L1676.6 810.2 L1674.3 822.8 L1672.2 835.4 L1671.7 848 L1671.9 860.6 L1683.9 866 L1699 870.2 L1712.2 873.2Z" fill="#fdd7b1" fill-rule="evenodd" stroke="#fdd7b1" stroke-width="0.6"/>
<path d="M1783.7 873.2 L1789.7 873.4 L1804.8 873.8 L1819.9 874.2 L1835 874.7 L1850.2 874.8 L1865.3 875 L1880.4 874.8 L1895.5 874.8 L1895.5 873.2 L1895.5 860.6 L1895.5 848 L1895.5 835.4 L1895.5 822.8 L1895.5 810.2 L1895.5 797.6 L1895.5 785 L1895.5 772.4 L1895.5 759.8 L1895.5 747.2 L1895.5 734.6 L1895.5 722 L1895.5 709.4 L1895.5 696.8 L1895.5 684.2 L1895.5 671.6 L1895.5 659 L1895.5 646.4 L1895.5 633.8 L1895.5 621.2 L1895.5 608.6 L1895.5 596 L1895.5 583.4 L1895.5 570.8 L1880.4 570.8 L1865.3 570.8 L1850.2 570.8 L1835 570.8 L1819.9 570.8 L1804.8 570.8 L1789.7 570.8 L1774.6 570.8 L1759.5 570.8 L1744.4 570.8 L1736.5 570.8 L1735.2 583.4 L1733.1 596 L1730.4 608.6 L1729.2 612.9 L1727.1 621.2 L1725 633.8 L1723.1 646.4 L1720.7 659 L1717.5 671.6 L1715.2 684.2 L1714.1 688.4 L1712.2 696.8 L1709.2 709.4 L1707.6 722 L1704 734.6 L1701.6 747.2 L1699 753.9 L1697.1 759.8 L1694.6 772.4 L1691.6 785 L1688.4 797.6 L1685.2 810.2 L1683.9 815.7 L1682.7 822.8 L1680.9 835.4 L1681.9 848 L1683.9 852.1 L1697.4 860.6 L1699 861 L1714.1 865.1 L1729.2 867.5 L1744.4 868.9 L1759.5 870.9 L1774.6 872.4 L1783.7 873.2Z" fill="#fdcd9c" fill-rule="evenodd" stroke="#fdcd9c" stroke-width="0.6"/>
<path d="M1739.2 860.6 L1744.4 861.2 L1759.5 863.6 L1774.6 865.5 L1789.7 867.4 L1804.8 868.5 L1819.9 869.9 L1835 871.1 L1850.2 871.7 L1865.3 872.2 L1880.4 871.7 L1895.5 871.6 L1895.5 860.6 L1895.5 848 L1895.5 835.4 L1895.5 822.8 L1895.5 810.2 L1895.5 797.6 L1895.5 785 L1895.5 772.4 L1895.5 759.8 L1895.5 747.2 L1895.5 734.6 L1895.5 722 L1895.5 709.4 L1895.5 696.8 L1895.5 684.2 L1895.5 671.6 L1895.5 659 L1895.5 646.4 L1895.5 633.8 L1895.5 621.2 L1895.5 608.6 L1895.5 596 L1895.5 583.4 L1895.5 570.8 L1880.4 570.8 L1865.3 570.8 L1850.2 570.8 L1835 570.8 L1819.9 570.8 L1804.8 570.8 L1789.7 570.8 L1774.6 570.8 L1759.5 570.8 L1744.4 570.8 L1743.5 570.8 L1742.5 583.4 L1741.5 596 L1738.5 608.6 L1736.5 621.2 L1734.1 633.8 L1731.2 646.4 L1729.2 656.3 L1728.8 659 L1726.8 671.6 L1724.6 684.2 L1723.2 696.8 L1718.9 709.4 L1716.9 722 L1714.1 730.1 L1712.8 734.6 L1711.6 747.2 L1708.2 759.8 L1705.4 772.4 L1702.1 785 L1699.1 797.6 L1699 798.2 L1698.1 810.2 L1696 822.8 L1697.7 835.4 L1699 837.5 L1705.1 848 L1714.1 854.4 L1729.2 859 L1739.2 860.6Z" fill="#fdbf86" fill-rule="evenodd" stroke="#fdbf86" stroke-width="0.6"/>
<path d="M1786.3 860.6 L1789.7 861.1 L1804.8 862.1 L1819.9 864.1 L1835 865 L1850.2 865.9 L1865.3 866 L1880.4 866.1 L1895.5 865.8 L1895.5 860.6 L1895.5 848 L1895.5 835.4 L1895.5 822.8 L1895.5 810.2 L1895.5 797.6 L1895.5 785 L1895.5 772.4 L1895.5 759.8 L1895.5 747.2 L1895.5 734.6 L1895.5 722 L1895.5 709.4 L1895.5 696.8 L1895.5 684.2 L1895.5 671.6 L1895.5 659 L1895.5 646.4 L1895.5 633.8 L1895.5 621.2 L1895.5 608.6 L1895.5 596 L1895.5 583.4 L1895.5 570.8 L1880.4 570.8 L1865.3 570.8 L1850.2 570.8 L1835 570.8 L1819.9 570.8 L1804.8 570.8 L1789.7 570.8 L1774.6 570.8 L1759.5 570.8 L1753.2 570.8 L1751.6 583.4 L1749.8 596 L1747.1 608.6 L1746 621.2 L1744.5 633.8 L1744.4 634.9 L1741.7 646.4 L1739.8 659 L1737 671.6 L1734.8 684.2 L1733.5 696.8 L1729.7 709.4 L1729.2 712.1 L1727.5 722 L1724.6 734.6 L1722.6 747.2 L1720.2 759.8 L1717.1 772.4 L1715.5 785 L1714.1 792.3 L1713.1 797.6 L1711.7 810.2 L1713.3 822.8 L1714.1 825.8 L1717.2 835.4 L1728.9 848 L1729.2 848.1 L1744.4 850.7 L1759.5 854.1 L1774.6 857.4 L1786.3 860.6Z" fill="#fdb06e" fill-rule="evenodd" stroke="#fdb06e" stroke-width="0.6"/>
<path d="M1778.4 848 L1789.7 851.6 L1804.8 853.5 L1819.9 856.7 L1835 858.2 L1850.2 859.9 L1865.3 859.6 L1880.4 860.4 L1895.5 859.8 L1895.5 848 L1895.5 835.4 L1895.5 822.8 L1895.5 810.2 L1895.5 797.6 L1895.5 785 L1895.5 772.4 L1895.5 759.8 L1895.5 747.2 L1895.5 734.6 L1895.5 722 L1895.5 709.4 L1895.5 696.8 L1895.5 684.2 L1895.5 671.6 L1895.5 659 L1895.5 646.4 L1895.5 633.8 L1895.5 621.2 L1895.5 608.6 L1895.5 596 L1895.5 583.4 L1895.5 570.8 L1880.4 570.8 L1865.3 570.8 L1850.2 570.8 L1835 570.8 L1819.9 570.8 L1804.8 570.8 L1789.7 570.8 L1774.6 570.8 L1762 570.8 L1760.8 583.4 L1759.5 590 L1758 596 L1756.5 608.6 L1753.4 621.2 L1752.3 633.8 L1750.1 646.4 L1748.6 659 L1746.7 671.6 L1745.3 684.2 L1744.4 689.1 L1742.3 696.8 L1739.1 709.4 L1736.3 722 L1734.4 734.6 L1732.7 747.2 L1731.4 759.8 L1729.2 767.4 L1727.5 772.4 L1728.1 785 L1723.9 797.6 L1724.4 810.2 L1729.2 819.9 L1731.8 822.8 L1743.3 835.4 L1744.4 836 L1759.5 842.7 L1774.6 846.5 L1778.4 848Z" fill="#fda25a" fill-rule="evenodd" stroke="#fda25a" stroke-width="0.6"/>
<path d="M1826.5 848 L1835 849.5 L1850.2 852.6 L1865.3 851.9 L1880.4 852.4 L1895.5 852.3 L1895.5 848 L1895.5 835.4 L1895.5 822.8 L1895.5 810.2 L1895.5 797.6 L1895.5 785 L1895.5 772.4 L1895.5 759.8 L1895.5 747.2 L1895.5 734.6 L1895.5 722 L1895.5 709.4 L1895.5 696.8 L1895.5 684.2 L1895.5 671.6 L1895.5 659 L1895.5 646.4 L1895.5 633.8 L1895.5 621.2 L1895.5 608.6 L1895.5 596 L1895.5 583.4 L1895.5 570.8 L1880.4 570.8 L1865.3 570.8 L1850.2 570.8 L1835 570.8 L1819.9 570.8 L1804.8 570.8 L1789.7 570.8 L1774.6 570.8 L1768.8 570.8 L1767.3 583.4 L1766 596 L1764.2 608.6 L1761.1 621.2 L1760.1 633.8 L1759.5 637.2 L1757.9 646.4 L1755.8 659 L1754.1 671.6 L1752.2 684.2 L1750.3 696.8 L1748.2 709.4 L1744.8 722 L1744.4 724.2 L1742.8 734.6 L1741.3 747.2 L1740 759.8 L1738 772.4 L1737.9 785 L1737.9 797.6 L1740 810.2 L1744.4 814.8 L1753.6 822.8 L1759.5 828 L1774.6 834.5 L1777.5 835.4 L1789.7 839.5 L1804.8 843.6 L1819.9 846.7 L1826.5 848Z" fill="#fd9446" fill-rule="evenodd" stroke="#fd9446" stroke-width="0.6"/>
<path d="M1814.2 835.4 L1819.9 836.8 L1835 840.4 L1850.2 844.2 L1865.3 842.8 L1880.4 844 L1895.5 844.2 L1895.5 835.4 L1895.5 822.8 L1895.5 810.2 L1895.5 797.6 L1895.5 785 L1895.5 772.4 L1895.5 759.8 L1895.5 747.2 L1895.5 734.6 L1895.5 722 L1895.5 709.4 L1895.5 696.8 L1895.5 684.2 L1895.5 671.6 L1895.5 659 L1895.5 646.4 L1895.5 633.8 L1895.5 621.2 L1895.5 608.6 L1895.5 596 L1895.5 583.4 L1895.5 570.8 L1880.4 570.8 L1865.3 570.8 L1850.2 570.8 L1835 570.8 L1819.9 570.8 L1804.8 570.8 L1789.7 570.8 L1775.9 570.8 L1774.6 578.2 L1773.9 583.4 L1774 596 L1771 608.6 L1770 621.2 L1768.6 633.8 L1767.4 646.4 L1764 659 L1762.3 671.6 L1759.5 682 L1759.1 684.2 L1758.1 696.8 L1756.8 709.4 L1757 722 L1754.8 734.6 L1752.7 747.2 L1751.9 759.8 L1750.5 772.4 L1751.5 785 L1756.7 797.6 L1759.5 803.9 L1762.8 810.2 L1774.6 821.5 L1779.7 822.8 L1789.7 824.6 L1804.8 832.4 L1814.2 835.4Z" fill="#fb8634" fill-rule="evenodd" stroke="#fb8634" stroke-width="0.6"/>
<path d="M1810.6 822.8 L1819.9 826.9 L1835 830.9 L1850.2 833.8 L1865.3 832.6 L1880.4 835 L1895.5 835.2 L1895.5 822.8 L1895.5 810.2 L1895.5 797.6 L1895.5 785 L1895.5 772.4 L1895.5 759.8 L1895.5 747.2 L1895.5 734.6 L1895.5 722 L1895.5 709.4 L1895.5 696.8 L1895.5 684.2 L1895.5 671.6 L1895.5 659 L1895.5 646.4 L1895.5 633.8 L1895.5 621.2 L1895.5 608.6 L1895.5 596 L1895.5 583.4 L1895.5 570.8 L1880.4 570.8 L1865.3 570.8 L1850.2 570.8 L1835 570.8 L1819.9 570.8 L1804.8 570.8 L1789.7 570.8 L1784.2 570.8 L1785 583.4 L1782.9 596 L1779.6 608.6 L1779.5 621.2 L1778 633.8 L1777.7 646.4 L1774.6 654.6 L1773.2 659 L1772.7 671.6 L1771.4 684.2 L1769.3 696.8 L1767.4 709.4 L1767.8 722 L1767.9 734.6 L1766.9 747.2 L1767 759.8 L1768.4 772.4 L1769.8 785 L1774.6 795.6 L1776 797.6 L1784.4 810.2 L1789.7 813.1 L1804.8 819.7 L1810.6 822.8Z" fill="#f57622" fill-rule="evenodd" stroke="#f57622" stroke-width="0.6"/>
<path d="M1845.8 822.8 L1850.2 823.5 L1865.3 823.1 L1880.4 823.4 L1895.5 825 L1895.5 822.8 L1895.5 810.2 L1895.5 797.6 L1895.5 785 L1895.5 772.4 L1895.5 759.8 L1895.5 747.2 L1895.5 734.6 L1895.5 722 L1895.5 709.4 L1895.5 696.8 L1895.5 684.2 L1895.5 671.6 L1895.5 659 L1895.5 646.4 L1895.5 633.8 L1895.5 621.2 L1895.5 608.6 L1895.5 596 L1895.5 583.4 L1895.5 570.8 L1880.4 570.8 L1865.3 570.8 L1850.2 570.8 L1835 570.8 L1819.9 570.8 L1804.8 570.8 L1793.3 570.8 L1794.9 583.4 L1792.2 596 L1790 608.6 L1789.8 621.2 L1789.9 633.8 L1789.7 637 L1789 646.4 L1788 659 L1785.6 671.6 L1783 684.2 L1783.3 696.8 L1782.7 709.4 L1781.2 722 L1781.6 734.6 L1782.9 747.2 L1781.8 759.8 L1786.4 772.4 L1789.7 780.3 L1792.1 785 L1800.9 797.6 L1804.8 803.5 L1812 810.2 L1819.9 813.7 L1835 820.2 L1845.8 822.8Z" fill="#f06712" fill-rule="evenodd" stroke="#f06712" stroke-width="0.6"/>
<path d="M1870.7 810.2 L1880.4 812.8 L1895.5 812.9 L1895.5 810.2 L1895.5 797.6 L1895.5 785 L1895.5 772.4 L1895.5 759.8 L1895.5 747.2 L1895.5 734.6 L1895.5 722 L1895.5 709.4 L1895.5 696.8 L1895.5 684.2 L1895.5 671.6 L1895.5 659 L1895.5 646.4 L1895.5 633.8 L1895.5 621.2 L1895.5 608.6 L1895.5 596 L1895.5 583.4 L1895.5 570.8 L1880.4 570.8 L1865.3 570.8 L1850.2 570.8 L1835 570.8 L1819.9 570.8 L1804.8 570.8 L1804 570.8 L1803.6 583.4 L1802.6 596 L1803.2 608.6 L1802.8 621.2 L1801 633.8 L1800.7 646.4 L1798.3 659 L1799.2 671.6 L1796.6 684.2 L1797.5 696.8 L1799.1 709.4 L1797.7 722 L1796.9 734.6 L1801 747.2 L1803.3 759.8 L1804.8 761.8 L1810 772.4 L1814.7 785 L1819.9 790.3 L1827.1 797.6 L1835 803.3 L1850.2 808 L1865.3 808.6 L1870.7 810.2Z" fill="#e5590a" fill-rule="evenodd" stroke="#e5590a" stroke-width="0.6"/>
<path d="M1881.6 797.6 L1895.5 800.4 L1895.5 797.6 L1895.5 785 L1895.5 772.4 L1895.5 759.8 L1895.5 747.2 L1895.5 734.6 L1895.5 722 L1895.5 709.4 L1895.5 696.8 L1895.5 684.2 L1895.5 671.6 L1895.5 659 L1895.5 646.4 L1895.5 633.8 L1895.5 621.2 L1895.5 608.6 L1895.5 596 L1895.5 583.4 L1895.5 570.8 L1880.4 570.8 L1865.3 570.8 L1850.2 570.8 L1835 570.8 L1819.9 570.8 L1816.3 570.8 L1815.7 583.4 L1813.9 596 L1812.8 608.6 L1814.2 621.2 L1811.4 633.8 L1812.3 646.4 L1810.1 659 L1811.3 671.6 L1811.4 684.2 L1810.9 696.8 L1811.4 709.4 L1819.5 722 L1813.7 734.6 L1819.9 742.5 L1823.5 747.2 L1825.5 759.8 L1832.3 772.4 L1835 774.9 L1845.6 785 L1850.2 789.3 L1865.3 796.5 L1880.4 797.1 L1881.6 797.6Z" fill="#db4b03" fill-rule="evenodd" stroke="#db4b03" stroke-width="0.6"/>
<path d="M1873.9 772.4 L1880.4 773.8 L1895.5 779.6 L1895.5 772.4 L1895.5 759.8 L1895.5 747.2 L1895.5 734.6 L1895.5 722 L1895.5 709.4 L1895.5 696.8 L1895.5 684.2 L1895.5 671.6 L1895.5 659 L1895.5 646.4 L1895.5 633.8 L1895.5 621.2 L1895.5 608.6 L1895.5 596 L1895.5 583.4 L1895.5 570.8 L1880.4 570.8 L1865.3 570.8 L1850.2 570.8 L1835 570.8 L1827.5 570.8 L1827.5 583.4 L1825.7 596 L1824.6 608.6 L1826.4 621.2 L1823.6 633.8 L1826 646.4 L1827 659 L1825.7 671.6 L1824.3 684.2 L1827 696.8 L1825.5 709.4 L1830.9 722 L1835 733.9 L1835.5 734.6 L1842.8 747.2 L1850.2 759.7 L1850.2 759.8 L1865.3 770.5 L1873.9 772.4Z" fill="#c84202" fill-rule="evenodd" stroke="#c84202" stroke-width="0.6"/>
<path d="M1875.6 747.2 L1880.4 749.7 L1895.5 756 L1895.5 747.2 L1895.5 734.6 L1895.5 722 L1895.5 709.4 L1895.5 696.8 L1895.5 684.2 L1895.5 671.6 L1895.5 659 L1895.5 646.4 L1895.5 633.8 L1895.5 621.2 L1895.5 608.6 L1895.5 596 L1895.5 583.4 L1895.5 570.8 L1880.4 570.8 L1865.3 570.8 L1850.2 570.8 L1839.2 570.8 L1839.6 583.4 L1838 596 L1841 608.6 L1840.8 621.2 L1840.4 633.8 L1840.5 646.4 L1842.5 659 L1842.4 671.6 L1840.4 684.2 L1847.6 696.8 L1848.2 709.4 L1850.2 713.5 L1855.5 722 L1856.7 734.6 L1865.3 742.6 L1875.6 747.2Z" fill="#b33b02" fill-rule="evenodd" stroke="#b33b02" stroke-width="0.6"/>
<path d="M1892.8 722 L1895.5 724.5 L1895.5 722 L1895.5 709.4 L1895.5 696.8 L1895.5 684.2 L1895.5 671.6 L1895.5 659 L1895.5 646.4 L1895.5 633.8 L1895.5 621.2 L1895.5 608.6 L1895.5 596 L1895.5 583.4 L1895.5 570.8 L1880.4 570.8 L1865.3 570.8 L1853.9 570.8 L1853.6 583.4 L1850.7 596 L1853.9 608.6 L1856.6 621.2 L1853.5 633.8 L1853.6 646.4 L1856.8 659 L1860.4 671.6 L1865.3 678.8 L1867.7 684.2 L1865.3 691.5 L1863.9 696.8 L1865.3 699.6 L1873.3 709.4 L1880.4 714.9 L1892.8 722Z" fill="#9f3303" fill-rule="evenodd" stroke="#9f3303" stroke-width="0.6"/>
<path d="M1893.6 684.2 L1895.5 688 L1895.5 684.2 L1895.5 671.6 L1895.5 659 L1895.5 646.4 L1895.5 633.8 L1895.5 621.2 L1895.5 608.6 L1895.5 596 L1895.5 583.4 L1895.5 570.8 L1880.4 570.8 L1868.9 570.8 L1869.2 583.4 L1867.4 596 L1869.4 608.6 L1872.3 621.2 L1875.6 633.8 L1876.5 646.4 L1880.4 653.4 L1883 659 L1886.9 671.6 L1893.6 684.2Z" fill="#8f2d04" fill-rule="evenodd" stroke="#8f2d04" stroke-width="0.6"/>
<path d="M1895.4 633.8 L1895.5 633.9 L1895.5 633.8 L1895.5 621.2 L1895.5 608.6 L1895.5 596 L1895.5 583.4 L1895.5 570.8 L1880.4 570.8 L1879.5 570.8 L1880.4 575.8 L1882.9 583.4 L1884.4 596 L1887.6 608.6 L1892.9 621.2 L1895.4 633.8Z" fill="#7f2704" fill-rule="evenodd" stroke="#7f2704" stroke-width="0.6"/>
</g>
<line x1="1593.2" y1="569" x2="1593.2" y2="887.4" stroke="#000" stroke-width="3.2" stroke-linecap="butt" />
<line x1="1591.6" y1="885.8" x2="1897.1" y2="885.8" stroke="#000" stroke-width="3.2" stroke-linecap="butt" />
<line x1="1593.2" y1="885.8" x2="1593.2" y2="896.8" stroke="#000" stroke-width="3.2" stroke-linecap="butt" />
<text x="1593.2" y="928" font-family='"DejaVu Sans", "Liberation Sans", sans-serif' font-size="20.8" text-anchor="middle" fill="#000" >0</text>
<line x1="1668.8" y1="885.8" x2="1668.8" y2="896.8" stroke="#000" stroke-width="3.2" stroke-linecap="butt" />
<line x1="1744.4" y1="885.8" x2="1744.4" y2="896.8" stroke="#000" stroke-width="3.2" stroke-linecap="butt" />
<text x="1744.4" y="928" font-family='"DejaVu Sans", "Liberation Sans", sans-serif' font-size="20.8" text-anchor="middle" fill="#000" >0.05</text>
<line x1="1819.9" y1="885.8" x2="1819.9" y2="896.8" stroke="#000" stroke-width="3.2" stroke-linecap="butt" />
<line x1="1895.5" y1="885.8" x2="1895.5" y2="896.8" stroke="#000" stroke-width="3.2" stroke-linecap="butt" />
<text x="1895.5" y="928" font-family='"DejaVu Sans", "Liberation Sans", sans-serif' font-size="20.8" text-anchor="middle" fill="#000" >0.1</text>
<line x1="1582.2" y1="885.8" x2="1593.2" y2="885.8" stroke="#000" stroke-width="3.2" stroke-linecap="butt" />
<line x1="1582.2" y1="822.8" x2="1593.2" y2="822.8" stroke="#000" stroke-width="3.2" stroke-linecap="butt" />
<line x1="1582.2" y1="759.8" x2="1593.2" y2="759.8" stroke="#000" stroke-width="3.2" stroke-linecap="butt" />
<line x1="1582.2" y1="696.8" x2="1593.2" y2="696.8" stroke="#000" stroke-width="3.2" stroke-linecap="butt" />
<line x1="1582.2" y1="633.8" x2="1593.2" y2="633.8" stroke="#000" stroke-width="3.2" stroke-linecap="butt" />
<text x="1724.3" y="962.6" font-family='"DejaVu Sans", "Liberation Sans", sans-serif' font-size="27" text-anchor="start" fill="#000" >η<tspan font-size="18.9" dy="4.4">12</tspan></text>
<rect x="1904.3" y="870" width="16" height="16.3" fill="#fff5eb"/>
<rect x="1904.3" y="854.3" width="16" height="16.3" fill="#ffefdf"/>
<rect x="1904.3" y="838.5" width="16" height="16.3" fill="#fee9d3"/>
<rect x="1904.3" y="822.8" width="16" height="16.3" fill="#fee0c3"/>
<rect x="1904.3" y="807" width="16" height="16.3" fill="#fdd7b1"/>
<rect x="1904.3" y="791.2" width="16" height="16.3" fill="#fdcd9c"/>
<rect x="1904.3" y="775.5" width="16" height="16.3" fill="#fdbf86"/>
<rect x="1904.3" y="759.7" width="16" height="16.3" fill="#fdb06e"/>
<rect x="1904.3" y="744" width="16" height="16.3" fill="#fda25a"/>
<rect x="1904.3" y="728.2" width="16" height="16.3" fill="#fd9446"/>
<rect x="1904.3" y="712.4" width="16" height="16.3" fill="#fb8634"/>
<rect x="1904.3" y="696.7" width="16" height="16.3" fill="#f57622"/>
<rect x="1904.3" y="680.9" width="16" height="16.3" fill="#f06712"/>
<rect x="1904.3" y="665.2" width="16" height="16.3" fill="#e5590a"/>
<rect x="1904.3" y="649.4" width="16" height="16.3" fill="#db4b03"/>
<rect x="1904.3" y="633.6" width="16" height="16.3" fill="#c84202"/>
<rect x="1904.3" y="617.9" width="16" height="16.3" fill="#b33b02"/>
<rect x="1904.3" y="602.1" width="16" height="16.3" fill="#9f3303"/>
<rect x="1904.3" y="586.4" width="16" height="16.3" fill="#8f2d04"/>
<rect x="1904.3" y="570.6" width="16" height="16.3" fill="#7f2704"/>
<rect x="1904.3" y="570.6" width="16" height="315.2" fill="none" stroke="#000" stroke-width="3.2"/>
<line x1="1920.3" y1="885.6" x2="1931.5" y2="885.6" stroke="#000" stroke-width="3.2" stroke-linecap="butt" />
<text x="1939.7" y="893.7" font-family='"DejaVu Sans", "Liberation Sans", sans-serif' font-size="20.8" text-anchor="start" fill="#000" >0</text>
<line x1="1920.3" y1="759.9" x2="1931.5" y2="759.9" stroke="#000" stroke-width="3.2" stroke-linecap="butt" />
<text x="1939.7" y="768" font-family='"DejaVu Sans", "Liberation Sans", sans-serif' font-size="20.8" text-anchor="start" fill="#000" >20</text>
<line x1="1920.3" y1="634.2" x2="1931.5" y2="634.2" stroke="#000" stroke-width="3.2" stroke-linecap="butt" />
<text x="1939.7" y="642.3" font-family='"DejaVu Sans", "Liberation Sans", sans-serif' font-size="20.8" text-anchor="start" fill="#000" >40</text>
<text x="1922" y="554.8" font-family='"DejaVu Sans", "Liberation Sans", sans-serif' font-size="22.9" text-anchor="start" fill="#000" >min<tspan font-size="16" dy="-9">−1</tspan></text>
</svg></body></html>
